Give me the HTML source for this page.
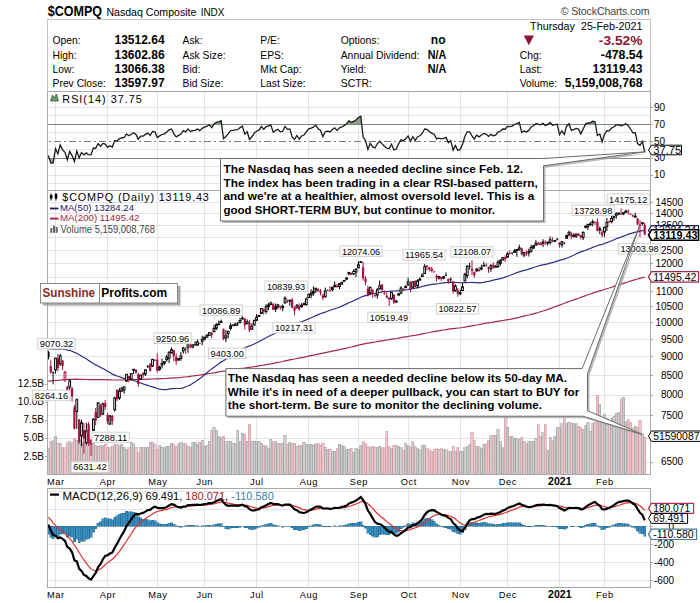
<!DOCTYPE html>
<html><head><meta charset="utf-8"><style>
html,body{margin:0;padding:0;background:#fff;width:700px;height:603px;overflow:hidden}
svg{display:block}
text{font-family:"Liberation Sans",sans-serif}
.ann{position:absolute;font-family:"Liberation Sans",sans-serif;font-weight:bold;color:#000;font-size:12.5px;line-height:13.7px;white-space:nowrap}
</style></head><body>
<svg width="700" height="603" viewBox="0 0 700 603">
<rect width="700" height="603" fill="#fff"/>
<text x="47.8" y="15.7" font-size="14" font-weight="bold" fill="#000" text-anchor="start" textLength="54.3" lengthAdjust="spacingAndGlyphs" >$COMPQ</text>
<text x="106.4" y="15.7" font-size="11" font-weight="normal" fill="#000" text-anchor="start" textLength="90" lengthAdjust="spacingAndGlyphs" >Nasdaq Composite</text>
<text x="200.7" y="15.7" font-size="10" font-weight="normal" fill="#000" text-anchor="start" textLength="23.7" lengthAdjust="spacingAndGlyphs" >INDX</text>
<text x="560.7" y="15" font-size="10.6" fill="#444" textLength="89" lengthAdjust="spacing">© StockCharts.com</text>
<rect x="47.5" y="19.5" width="603" height="72" fill="none" stroke="#c4c4c4" shape-rendering="crispEdges"/>
<text x="52.6" y="44.4" font-size="11.2" font-weight="normal" fill="#000" text-anchor="start" textLength="28.06" lengthAdjust="spacingAndGlyphs" >Open:</text>
<text x="114.5" y="44.4" font-size="12" font-weight="bold" fill="#000" text-anchor="start" >13512.64</text>
<text x="52.6" y="58.7" font-size="11.2" font-weight="normal" fill="#000" text-anchor="start" textLength="24.04" lengthAdjust="spacingAndGlyphs" >High:</text>
<text x="114.5" y="58.7" font-size="12" font-weight="bold" fill="#000" text-anchor="start" >13602.86</text>
<text x="52.6" y="72.9" font-size="11.2" font-weight="normal" fill="#000" text-anchor="start" textLength="21.76" lengthAdjust="spacingAndGlyphs" >Low:</text>
<text x="114.5" y="72.9" font-size="12" font-weight="bold" fill="#000" text-anchor="start" >13066.38</text>
<text x="52.6" y="87.0" font-size="11.2" font-weight="normal" fill="#000" text-anchor="start" textLength="53.23" lengthAdjust="spacingAndGlyphs" >Prev Close:</text>
<text x="114.5" y="87.0" font-size="12" font-weight="bold" fill="#000" text-anchor="start" >13597.97</text>
<text x="182.6" y="44.4" font-size="11.2" font-weight="normal" fill="#000" text-anchor="start" textLength="20.03" lengthAdjust="spacingAndGlyphs" >Ask:</text>
<text x="182.6" y="58.7" font-size="11.2" font-weight="normal" fill="#000" text-anchor="start" textLength="42.93" lengthAdjust="spacingAndGlyphs" >Ask Size:</text>
<text x="182.6" y="72.9" font-size="11.2" font-weight="normal" fill="#000" text-anchor="start" textLength="17.75" lengthAdjust="spacingAndGlyphs" >Bid:</text>
<text x="182.6" y="87.0" font-size="11.2" font-weight="normal" fill="#000" text-anchor="start" textLength="40.65" lengthAdjust="spacingAndGlyphs" >Bid Size:</text>
<text x="260.3" y="44.4" font-size="11.2" font-weight="normal" fill="#000" text-anchor="start" textLength="19.46" lengthAdjust="spacingAndGlyphs" >P/E:</text>
<text x="260.3" y="58.7" font-size="11.2" font-weight="normal" fill="#000" text-anchor="start" textLength="23.47" lengthAdjust="spacingAndGlyphs" >EPS:</text>
<text x="260.3" y="72.9" font-size="11.2" font-weight="normal" fill="#000" text-anchor="start" textLength="41.21" lengthAdjust="spacingAndGlyphs" >Mkt Cap:</text>
<text x="260.3" y="87.0" font-size="11.2" font-weight="normal" fill="#000" text-anchor="start" textLength="45.23" lengthAdjust="spacingAndGlyphs" >Last Size:</text>
<text x="340.7" y="44.4" font-size="11.2" font-weight="normal" fill="#000" text-anchor="start" textLength="38.73" lengthAdjust="spacingAndGlyphs" >Options:</text>
<text x="340.7" y="58.7" font-size="11.2" font-weight="normal" fill="#000" text-anchor="start" textLength="78.63" lengthAdjust="spacingAndGlyphs" >Annual Dividend:</text>
<text x="340.7" y="72.9" font-size="11.2" font-weight="normal" fill="#000" text-anchor="start" textLength="25.63" lengthAdjust="spacingAndGlyphs" >Yield:</text>
<text x="340.7" y="87.0" font-size="11.2" font-weight="normal" fill="#000" text-anchor="start" textLength="31.2" lengthAdjust="spacingAndGlyphs" >SCTR:</text>
<text x="445.5" y="44.4" font-size="12" font-weight="bold" fill="#000" text-anchor="end" >no</text>
<text x="446.3" y="58.7" font-size="12" font-weight="bold" fill="#000" text-anchor="end" textLength="18.6" lengthAdjust="spacingAndGlyphs" >N/A</text>
<text x="446.3" y="72.9" font-size="12" font-weight="bold" fill="#000" text-anchor="end" textLength="18.6" lengthAdjust="spacingAndGlyphs" >N/A</text>
<text x="642.5" y="29.7" font-size="10.8" font-weight="normal" fill="#000" text-anchor="end" textLength="112.4" lengthAdjust="spacingAndGlyphs" >Thursday&#160;&#160;25-Feb-2021</text>
<polygon points="523.7,35.6 534,35.6 528.85,45.3" fill="#8b1535"/>
<text x="642.5" y="45.3" font-size="13" font-weight="bold" fill="#8b1535" text-anchor="end" textLength="43.7" lengthAdjust="spacingAndGlyphs" >-3.52%</text>
<text x="519.8" y="58.7" font-size="11.2" font-weight="normal" fill="#000" text-anchor="start" textLength="21.76" lengthAdjust="spacingAndGlyphs" >Chg:</text>
<text x="642.5" y="58.7" font-size="12" font-weight="bold" fill="#000" text-anchor="end" textLength="41.7" lengthAdjust="spacingAndGlyphs" >-478.54</text>
<text x="519.8" y="72.8" font-size="11.2" font-weight="normal" fill="#000" text-anchor="start" textLength="22.33" lengthAdjust="spacingAndGlyphs" >Last:</text>
<text x="642.5" y="72.8" font-size="12" font-weight="bold" fill="#000" text-anchor="end" textLength="49.9" lengthAdjust="spacingAndGlyphs" >13119.43</text>
<text x="519.8" y="87" font-size="11.2" font-weight="normal" fill="#000" text-anchor="start" textLength="37.22" lengthAdjust="spacingAndGlyphs" >Volume:</text>
<text x="642.5" y="87" font-size="12" font-weight="bold" fill="#000" text-anchor="end" textLength="77.7" lengthAdjust="spacingAndGlyphs" >5,159,008,768</text>
<g stroke="#e3e3e3" stroke-width="1" shape-rendering="crispEdges">
<line x1="47.5" x2="650.5" y1="107.5" y2="107.5"/>
<line x1="47.5" x2="650.5" y1="115.5" y2="115.5"/>
<line x1="47.5" x2="650.5" y1="132.5" y2="132.5"/>
<line x1="47.5" x2="650.5" y1="149.5" y2="149.5"/>
<line x1="47.5" x2="650.5" y1="166.5" y2="166.5"/>
<line x1="47.5" x2="650.5" y1="175.5" y2="175.5"/>
<line x1="47.5" x2="650.5" y1="183.5" y2="183.5"/>
<line x1="55.5" x2="55.5" y1="91.5" y2="474"/>
<line x1="55.5" x2="55.5" y1="488.5" y2="587"/>
<line x1="107.5" x2="107.5" y1="91.5" y2="474"/>
<line x1="107.5" x2="107.5" y1="488.5" y2="587"/>
<line x1="157.5" x2="157.5" y1="91.5" y2="474"/>
<line x1="157.5" x2="157.5" y1="488.5" y2="587"/>
<line x1="204.5" x2="204.5" y1="91.5" y2="474"/>
<line x1="204.5" x2="204.5" y1="488.5" y2="587"/>
<line x1="256.5" x2="256.5" y1="91.5" y2="474"/>
<line x1="256.5" x2="256.5" y1="488.5" y2="587"/>
<line x1="308.5" x2="308.5" y1="91.5" y2="474"/>
<line x1="308.5" x2="308.5" y1="488.5" y2="587"/>
<line x1="358.5" x2="358.5" y1="91.5" y2="474"/>
<line x1="358.5" x2="358.5" y1="488.5" y2="587"/>
<line x1="408.5" x2="408.5" y1="91.5" y2="474"/>
<line x1="408.5" x2="408.5" y1="488.5" y2="587"/>
<line x1="460.5" x2="460.5" y1="91.5" y2="474"/>
<line x1="460.5" x2="460.5" y1="488.5" y2="587"/>
<line x1="507.5" x2="507.5" y1="91.5" y2="474"/>
<line x1="507.5" x2="507.5" y1="488.5" y2="587"/>
<line x1="559.5" x2="559.5" y1="91.5" y2="474"/>
<line x1="559.5" x2="559.5" y1="488.5" y2="587"/>
<line x1="604.5" x2="604.5" y1="91.5" y2="474"/>
<line x1="604.5" x2="604.5" y1="488.5" y2="587"/>
<line x1="47.5" x2="650.5" y1="462.5" y2="462.5"/>
<line x1="47.5" x2="650.5" y1="438.5" y2="438.5"/>
<line x1="47.5" x2="650.5" y1="415.5" y2="415.5"/>
<line x1="47.5" x2="650.5" y1="395.5" y2="395.5"/>
<line x1="47.5" x2="650.5" y1="375.5" y2="375.5"/>
<line x1="47.5" x2="650.5" y1="356.5" y2="356.5"/>
<line x1="47.5" x2="650.5" y1="339.5" y2="339.5"/>
<line x1="47.5" x2="650.5" y1="322.5" y2="322.5"/>
<line x1="47.5" x2="650.5" y1="306.5" y2="306.5"/>
<line x1="47.5" x2="650.5" y1="291.5" y2="291.5"/>
<line x1="47.5" x2="650.5" y1="277.5" y2="277.5"/>
<line x1="47.5" x2="650.5" y1="263.5" y2="263.5"/>
<line x1="47.5" x2="650.5" y1="250.5" y2="250.5"/>
<line x1="47.5" x2="650.5" y1="237.5" y2="237.5"/>
<line x1="47.5" x2="650.5" y1="225.5" y2="225.5"/>
<line x1="47.5" x2="650.5" y1="213.5" y2="213.5"/>
<line x1="47.5" x2="650.5" y1="202.5" y2="202.5"/>
<line x1="47.5" x2="650.5" y1="491.5" y2="491.5"/>
<line x1="47.5" x2="650.5" y1="509.5" y2="509.5"/>
<line x1="47.5" x2="650.5" y1="526.5" y2="526.5"/>
<line x1="47.5" x2="650.5" y1="544.5" y2="544.5"/>
<line x1="47.5" x2="650.5" y1="562.5" y2="562.5"/>
<line x1="47.5" x2="650.5" y1="580.5" y2="580.5"/>
</g>
<g shape-rendering="crispEdges">
<line x1="47.5" x2="650.5" y1="124.5" y2="124.5" stroke="#7a7a7a"/>
<line x1="47.5" x2="650.5" y1="158.5" y2="158.5" stroke="#7a7a7a"/>
<line x1="47.5" x2="650.5" y1="141.5" y2="141.5" stroke="#7a7a7a" stroke-dasharray="7,3,2,3" stroke-dashoffset="8.9"/>
</g>
<g shape-rendering="crispEdges">
<rect x="47.3" y="448.3" width="2.2" height="25.7" fill="#c6c9c9" fill-opacity="0.9" stroke="#989898" stroke-width="0.5"/>
<rect x="49.7" y="441.4" width="2.2" height="32.6" fill="#ecbcc4" fill-opacity="0.9" stroke="#c8949e" stroke-width="0.5"/>
<rect x="52.0" y="440.9" width="2.2" height="33.1" fill="#c6c9c9" fill-opacity="0.9" stroke="#989898" stroke-width="0.5"/>
<rect x="54.4" y="436.2" width="2.2" height="37.8" fill="#c6c9c9" fill-opacity="0.9" stroke="#989898" stroke-width="0.5"/>
<rect x="56.8" y="443.2" width="2.2" height="30.8" fill="#ecbcc4" fill-opacity="0.9" stroke="#c8949e" stroke-width="0.5"/>
<rect x="59.1" y="443.2" width="2.2" height="30.8" fill="#c6c9c9" fill-opacity="0.9" stroke="#989898" stroke-width="0.5"/>
<rect x="61.5" y="447.9" width="2.2" height="26.1" fill="#ecbcc4" fill-opacity="0.9" stroke="#c8949e" stroke-width="0.5"/>
<rect x="63.9" y="447.5" width="2.2" height="26.5" fill="#ecbcc4" fill-opacity="0.9" stroke="#c8949e" stroke-width="0.5"/>
<rect x="66.2" y="442.7" width="2.2" height="31.3" fill="#ecbcc4" fill-opacity="0.9" stroke="#c8949e" stroke-width="0.5"/>
<rect x="68.6" y="441.4" width="2.2" height="32.6" fill="#c6c9c9" fill-opacity="0.9" stroke="#989898" stroke-width="0.5"/>
<rect x="71.0" y="442.7" width="2.2" height="31.3" fill="#ecbcc4" fill-opacity="0.9" stroke="#c8949e" stroke-width="0.5"/>
<rect x="73.3" y="438.1" width="2.2" height="35.9" fill="#ecbcc4" fill-opacity="0.9" stroke="#c8949e" stroke-width="0.5"/>
<rect x="75.7" y="440.0" width="2.2" height="34.0" fill="#c6c9c9" fill-opacity="0.9" stroke="#989898" stroke-width="0.5"/>
<rect x="78.1" y="440.9" width="2.2" height="33.1" fill="#ecbcc4" fill-opacity="0.9" stroke="#c8949e" stroke-width="0.5"/>
<rect x="80.4" y="441.8" width="2.2" height="32.2" fill="#c6c9c9" fill-opacity="0.9" stroke="#989898" stroke-width="0.5"/>
<rect x="82.8" y="442.7" width="2.2" height="31.3" fill="#ecbcc4" fill-opacity="0.9" stroke="#c8949e" stroke-width="0.5"/>
<rect x="85.2" y="445.3" width="2.2" height="28.7" fill="#c6c9c9" fill-opacity="0.9" stroke="#989898" stroke-width="0.5"/>
<rect x="87.5" y="441.9" width="2.2" height="32.1" fill="#ecbcc4" fill-opacity="0.9" stroke="#c8949e" stroke-width="0.5"/>
<rect x="89.9" y="440.4" width="2.2" height="33.6" fill="#ecbcc4" fill-opacity="0.9" stroke="#c8949e" stroke-width="0.5"/>
<rect x="92.3" y="440.4" width="2.2" height="33.6" fill="#c6c9c9" fill-opacity="0.9" stroke="#989898" stroke-width="0.5"/>
<rect x="94.6" y="445.0" width="2.2" height="29.0" fill="#ecbcc4" fill-opacity="0.9" stroke="#c8949e" stroke-width="0.5"/>
<rect x="97.0" y="446.0" width="2.2" height="28.0" fill="#c6c9c9" fill-opacity="0.9" stroke="#989898" stroke-width="0.5"/>
<rect x="99.4" y="445.8" width="2.2" height="28.2" fill="#ecbcc4" fill-opacity="0.9" stroke="#c8949e" stroke-width="0.5"/>
<rect x="101.7" y="445.8" width="2.2" height="28.2" fill="#c6c9c9" fill-opacity="0.9" stroke="#989898" stroke-width="0.5"/>
<rect x="104.1" y="444.0" width="2.2" height="30.0" fill="#ecbcc4" fill-opacity="0.9" stroke="#c8949e" stroke-width="0.5"/>
<rect x="106.5" y="447.0" width="2.2" height="27.0" fill="#ecbcc4" fill-opacity="0.9" stroke="#c8949e" stroke-width="0.5"/>
<rect x="108.8" y="447.9" width="2.2" height="26.1" fill="#c6c9c9" fill-opacity="0.9" stroke="#989898" stroke-width="0.5"/>
<rect x="111.2" y="446.1" width="2.2" height="27.9" fill="#ecbcc4" fill-opacity="0.9" stroke="#c8949e" stroke-width="0.5"/>
<rect x="113.6" y="444.0" width="2.2" height="30.0" fill="#c6c9c9" fill-opacity="0.9" stroke="#989898" stroke-width="0.5"/>
<rect x="115.9" y="444.8" width="2.2" height="29.2" fill="#ecbcc4" fill-opacity="0.9" stroke="#c8949e" stroke-width="0.5"/>
<rect x="118.3" y="445.8" width="2.2" height="28.2" fill="#c6c9c9" fill-opacity="0.9" stroke="#989898" stroke-width="0.5"/>
<rect x="120.7" y="444.4" width="2.2" height="29.6" fill="#c6c9c9" fill-opacity="0.9" stroke="#989898" stroke-width="0.5"/>
<rect x="123.0" y="447.0" width="2.2" height="27.0" fill="#c6c9c9" fill-opacity="0.9" stroke="#989898" stroke-width="0.5"/>
<rect x="125.4" y="449.9" width="2.2" height="24.1" fill="#c6c9c9" fill-opacity="0.9" stroke="#989898" stroke-width="0.5"/>
<rect x="127.8" y="447.9" width="2.2" height="26.1" fill="#ecbcc4" fill-opacity="0.9" stroke="#c8949e" stroke-width="0.5"/>
<rect x="130.1" y="442.4" width="2.2" height="31.6" fill="#c6c9c9" fill-opacity="0.9" stroke="#989898" stroke-width="0.5"/>
<rect x="132.5" y="443.6" width="2.2" height="30.4" fill="#c6c9c9" fill-opacity="0.9" stroke="#989898" stroke-width="0.5"/>
<rect x="134.9" y="447.0" width="2.2" height="27.0" fill="#ecbcc4" fill-opacity="0.9" stroke="#c8949e" stroke-width="0.5"/>
<rect x="137.2" y="452.1" width="2.2" height="21.9" fill="#ecbcc4" fill-opacity="0.9" stroke="#c8949e" stroke-width="0.5"/>
<rect x="139.6" y="447.0" width="2.2" height="27.0" fill="#c6c9c9" fill-opacity="0.9" stroke="#989898" stroke-width="0.5"/>
<rect x="142.0" y="447.0" width="2.2" height="27.0" fill="#ecbcc4" fill-opacity="0.9" stroke="#c8949e" stroke-width="0.5"/>
<rect x="144.3" y="447.5" width="2.2" height="26.5" fill="#c6c9c9" fill-opacity="0.9" stroke="#989898" stroke-width="0.5"/>
<rect x="146.7" y="447.0" width="2.2" height="27.0" fill="#c6c9c9" fill-opacity="0.9" stroke="#989898" stroke-width="0.5"/>
<rect x="149.1" y="442.4" width="2.2" height="31.6" fill="#ecbcc4" fill-opacity="0.9" stroke="#c8949e" stroke-width="0.5"/>
<rect x="151.4" y="442.4" width="2.2" height="31.6" fill="#c6c9c9" fill-opacity="0.9" stroke="#989898" stroke-width="0.5"/>
<rect x="153.8" y="444.0" width="2.2" height="30.0" fill="#ecbcc4" fill-opacity="0.9" stroke="#c8949e" stroke-width="0.5"/>
<rect x="156.2" y="449.2" width="2.2" height="24.8" fill="#ecbcc4" fill-opacity="0.9" stroke="#c8949e" stroke-width="0.5"/>
<rect x="158.5" y="445.3" width="2.2" height="28.7" fill="#c6c9c9" fill-opacity="0.9" stroke="#989898" stroke-width="0.5"/>
<rect x="160.9" y="447.0" width="2.2" height="27.0" fill="#c6c9c9" fill-opacity="0.9" stroke="#989898" stroke-width="0.5"/>
<rect x="163.3" y="447.5" width="2.2" height="26.5" fill="#c6c9c9" fill-opacity="0.9" stroke="#989898" stroke-width="0.5"/>
<rect x="165.6" y="446.1" width="2.2" height="27.9" fill="#c6c9c9" fill-opacity="0.9" stroke="#989898" stroke-width="0.5"/>
<rect x="168.0" y="446.1" width="2.2" height="27.9" fill="#c6c9c9" fill-opacity="0.9" stroke="#989898" stroke-width="0.5"/>
<rect x="170.4" y="443.0" width="2.2" height="31.0" fill="#c6c9c9" fill-opacity="0.9" stroke="#989898" stroke-width="0.5"/>
<rect x="172.7" y="444.0" width="2.2" height="30.0" fill="#ecbcc4" fill-opacity="0.9" stroke="#c8949e" stroke-width="0.5"/>
<rect x="175.1" y="446.1" width="2.2" height="27.9" fill="#ecbcc4" fill-opacity="0.9" stroke="#c8949e" stroke-width="0.5"/>
<rect x="177.5" y="443.6" width="2.2" height="30.4" fill="#c6c9c9" fill-opacity="0.9" stroke="#989898" stroke-width="0.5"/>
<rect x="179.8" y="442.4" width="2.2" height="31.6" fill="#c6c9c9" fill-opacity="0.9" stroke="#989898" stroke-width="0.5"/>
<rect x="182.2" y="443.6" width="2.2" height="30.4" fill="#c6c9c9" fill-opacity="0.9" stroke="#989898" stroke-width="0.5"/>
<rect x="184.6" y="443.6" width="2.2" height="30.4" fill="#ecbcc4" fill-opacity="0.9" stroke="#c8949e" stroke-width="0.5"/>
<rect x="186.9" y="446.1" width="2.2" height="27.9" fill="#c6c9c9" fill-opacity="0.9" stroke="#989898" stroke-width="0.5"/>
<rect x="189.3" y="447.0" width="2.2" height="27.0" fill="#ecbcc4" fill-opacity="0.9" stroke="#c8949e" stroke-width="0.5"/>
<rect x="191.7" y="442.4" width="2.2" height="31.6" fill="#c6c9c9" fill-opacity="0.9" stroke="#989898" stroke-width="0.5"/>
<rect x="194.0" y="442.4" width="2.2" height="31.6" fill="#c6c9c9" fill-opacity="0.9" stroke="#989898" stroke-width="0.5"/>
<rect x="196.4" y="444.0" width="2.2" height="30.0" fill="#c6c9c9" fill-opacity="0.9" stroke="#989898" stroke-width="0.5"/>
<rect x="198.7" y="442.0" width="2.2" height="32.0" fill="#ecbcc4" fill-opacity="0.9" stroke="#c8949e" stroke-width="0.5"/>
<rect x="201.1" y="440.1" width="2.2" height="33.9" fill="#c6c9c9" fill-opacity="0.9" stroke="#989898" stroke-width="0.5"/>
<rect x="203.5" y="446.1" width="2.2" height="27.9" fill="#c6c9c9" fill-opacity="0.9" stroke="#989898" stroke-width="0.5"/>
<rect x="205.8" y="445.3" width="2.2" height="28.7" fill="#c6c9c9" fill-opacity="0.9" stroke="#989898" stroke-width="0.5"/>
<rect x="208.2" y="441.0" width="2.2" height="33.0" fill="#c6c9c9" fill-opacity="0.9" stroke="#989898" stroke-width="0.5"/>
<rect x="210.6" y="430.4" width="2.2" height="43.6" fill="#ecbcc4" fill-opacity="0.9" stroke="#c8949e" stroke-width="0.5"/>
<rect x="212.9" y="427.3" width="2.2" height="46.7" fill="#c6c9c9" fill-opacity="0.9" stroke="#989898" stroke-width="0.5"/>
<rect x="215.3" y="430.4" width="2.2" height="43.6" fill="#c6c9c9" fill-opacity="0.9" stroke="#989898" stroke-width="0.5"/>
<rect x="217.7" y="436.2" width="2.2" height="37.8" fill="#c6c9c9" fill-opacity="0.9" stroke="#989898" stroke-width="0.5"/>
<rect x="220.0" y="437.2" width="2.2" height="36.8" fill="#c6c9c9" fill-opacity="0.9" stroke="#989898" stroke-width="0.5"/>
<rect x="222.4" y="436.2" width="2.2" height="37.8" fill="#ecbcc4" fill-opacity="0.9" stroke="#c8949e" stroke-width="0.5"/>
<rect x="224.8" y="441.9" width="2.2" height="32.1" fill="#c6c9c9" fill-opacity="0.9" stroke="#989898" stroke-width="0.5"/>
<rect x="227.1" y="441.9" width="2.2" height="32.1" fill="#c6c9c9" fill-opacity="0.9" stroke="#989898" stroke-width="0.5"/>
<rect x="229.5" y="441.0" width="2.2" height="33.0" fill="#c6c9c9" fill-opacity="0.9" stroke="#989898" stroke-width="0.5"/>
<rect x="231.9" y="443.0" width="2.2" height="31.0" fill="#c6c9c9" fill-opacity="0.9" stroke="#989898" stroke-width="0.5"/>
<rect x="234.2" y="443.0" width="2.2" height="31.0" fill="#c6c9c9" fill-opacity="0.9" stroke="#989898" stroke-width="0.5"/>
<rect x="236.6" y="430.4" width="2.2" height="43.6" fill="#c6c9c9" fill-opacity="0.9" stroke="#989898" stroke-width="0.5"/>
<rect x="239.0" y="441.9" width="2.2" height="32.1" fill="#c6c9c9" fill-opacity="0.9" stroke="#989898" stroke-width="0.5"/>
<rect x="241.3" y="433.3" width="2.2" height="40.7" fill="#c6c9c9" fill-opacity="0.9" stroke="#989898" stroke-width="0.5"/>
<rect x="243.7" y="434.1" width="2.2" height="39.9" fill="#ecbcc4" fill-opacity="0.9" stroke="#c8949e" stroke-width="0.5"/>
<rect x="246.1" y="441.0" width="2.2" height="33.0" fill="#c6c9c9" fill-opacity="0.9" stroke="#989898" stroke-width="0.5"/>
<rect x="248.4" y="424.2" width="2.2" height="49.8" fill="#ecbcc4" fill-opacity="0.9" stroke="#c8949e" stroke-width="0.5"/>
<rect x="250.8" y="441.0" width="2.2" height="33.0" fill="#c6c9c9" fill-opacity="0.9" stroke="#989898" stroke-width="0.5"/>
<rect x="253.2" y="441.0" width="2.2" height="33.0" fill="#c6c9c9" fill-opacity="0.9" stroke="#989898" stroke-width="0.5"/>
<rect x="255.5" y="441.9" width="2.2" height="32.1" fill="#c6c9c9" fill-opacity="0.9" stroke="#989898" stroke-width="0.5"/>
<rect x="257.9" y="441.0" width="2.2" height="33.0" fill="#c6c9c9" fill-opacity="0.9" stroke="#989898" stroke-width="0.5"/>
<rect x="260.3" y="443.0" width="2.2" height="31.0" fill="#c6c9c9" fill-opacity="0.9" stroke="#989898" stroke-width="0.5"/>
<rect x="262.6" y="445.8" width="2.2" height="28.2" fill="#ecbcc4" fill-opacity="0.9" stroke="#c8949e" stroke-width="0.5"/>
<rect x="265.0" y="445.8" width="2.2" height="28.2" fill="#c6c9c9" fill-opacity="0.9" stroke="#989898" stroke-width="0.5"/>
<rect x="267.4" y="448.7" width="2.2" height="25.3" fill="#c6c9c9" fill-opacity="0.9" stroke="#989898" stroke-width="0.5"/>
<rect x="269.7" y="439.0" width="2.2" height="35.0" fill="#c6c9c9" fill-opacity="0.9" stroke="#989898" stroke-width="0.5"/>
<rect x="272.1" y="441.9" width="2.2" height="32.1" fill="#ecbcc4" fill-opacity="0.9" stroke="#c8949e" stroke-width="0.5"/>
<rect x="274.5" y="441.0" width="2.2" height="33.0" fill="#c6c9c9" fill-opacity="0.9" stroke="#989898" stroke-width="0.5"/>
<rect x="276.8" y="443.0" width="2.2" height="31.0" fill="#c6c9c9" fill-opacity="0.9" stroke="#989898" stroke-width="0.5"/>
<rect x="279.2" y="443.0" width="2.2" height="31.0" fill="#ecbcc4" fill-opacity="0.9" stroke="#c8949e" stroke-width="0.5"/>
<rect x="281.6" y="443.0" width="2.2" height="31.0" fill="#c6c9c9" fill-opacity="0.9" stroke="#989898" stroke-width="0.5"/>
<rect x="283.9" y="435.0" width="2.2" height="39.0" fill="#c6c9c9" fill-opacity="0.9" stroke="#989898" stroke-width="0.5"/>
<rect x="286.3" y="444.0" width="2.2" height="30.0" fill="#ecbcc4" fill-opacity="0.9" stroke="#c8949e" stroke-width="0.5"/>
<rect x="288.7" y="442.4" width="2.2" height="31.6" fill="#c6c9c9" fill-opacity="0.9" stroke="#989898" stroke-width="0.5"/>
<rect x="291.0" y="443.0" width="2.2" height="31.0" fill="#ecbcc4" fill-opacity="0.9" stroke="#c8949e" stroke-width="0.5"/>
<rect x="293.4" y="443.0" width="2.2" height="31.0" fill="#ecbcc4" fill-opacity="0.9" stroke="#c8949e" stroke-width="0.5"/>
<rect x="295.8" y="446.1" width="2.2" height="27.9" fill="#c6c9c9" fill-opacity="0.9" stroke="#989898" stroke-width="0.5"/>
<rect x="298.1" y="445.3" width="2.2" height="28.7" fill="#ecbcc4" fill-opacity="0.9" stroke="#c8949e" stroke-width="0.5"/>
<rect x="300.5" y="445.3" width="2.2" height="28.7" fill="#c6c9c9" fill-opacity="0.9" stroke="#989898" stroke-width="0.5"/>
<rect x="302.9" y="442.4" width="2.2" height="31.6" fill="#c6c9c9" fill-opacity="0.9" stroke="#989898" stroke-width="0.5"/>
<rect x="305.2" y="444.0" width="2.2" height="30.0" fill="#c6c9c9" fill-opacity="0.9" stroke="#989898" stroke-width="0.5"/>
<rect x="307.6" y="444.0" width="2.2" height="30.0" fill="#c6c9c9" fill-opacity="0.9" stroke="#989898" stroke-width="0.5"/>
<rect x="310.0" y="444.0" width="2.2" height="30.0" fill="#c6c9c9" fill-opacity="0.9" stroke="#989898" stroke-width="0.5"/>
<rect x="312.3" y="445.3" width="2.2" height="28.7" fill="#c6c9c9" fill-opacity="0.9" stroke="#989898" stroke-width="0.5"/>
<rect x="314.7" y="443.6" width="2.2" height="30.4" fill="#c6c9c9" fill-opacity="0.9" stroke="#989898" stroke-width="0.5"/>
<rect x="317.1" y="443.6" width="2.2" height="30.4" fill="#ecbcc4" fill-opacity="0.9" stroke="#c8949e" stroke-width="0.5"/>
<rect x="319.4" y="445.3" width="2.2" height="28.7" fill="#ecbcc4" fill-opacity="0.9" stroke="#c8949e" stroke-width="0.5"/>
<rect x="321.8" y="443.0" width="2.2" height="31.0" fill="#ecbcc4" fill-opacity="0.9" stroke="#c8949e" stroke-width="0.5"/>
<rect x="324.2" y="447.0" width="2.2" height="27.0" fill="#c6c9c9" fill-opacity="0.9" stroke="#989898" stroke-width="0.5"/>
<rect x="326.5" y="449.2" width="2.2" height="24.8" fill="#c6c9c9" fill-opacity="0.9" stroke="#989898" stroke-width="0.5"/>
<rect x="328.9" y="449.2" width="2.2" height="24.8" fill="#ecbcc4" fill-opacity="0.9" stroke="#c8949e" stroke-width="0.5"/>
<rect x="331.3" y="451.0" width="2.2" height="23.0" fill="#c6c9c9" fill-opacity="0.9" stroke="#989898" stroke-width="0.5"/>
<rect x="333.6" y="451.0" width="2.2" height="23.0" fill="#c6c9c9" fill-opacity="0.9" stroke="#989898" stroke-width="0.5"/>
<rect x="336.0" y="448.7" width="2.2" height="25.3" fill="#ecbcc4" fill-opacity="0.9" stroke="#c8949e" stroke-width="0.5"/>
<rect x="338.4" y="444.0" width="2.2" height="30.0" fill="#c6c9c9" fill-opacity="0.9" stroke="#989898" stroke-width="0.5"/>
<rect x="340.7" y="445.8" width="2.2" height="28.2" fill="#c6c9c9" fill-opacity="0.9" stroke="#989898" stroke-width="0.5"/>
<rect x="343.1" y="446.1" width="2.2" height="27.9" fill="#c6c9c9" fill-opacity="0.9" stroke="#989898" stroke-width="0.5"/>
<rect x="345.5" y="449.2" width="2.2" height="24.8" fill="#c6c9c9" fill-opacity="0.9" stroke="#989898" stroke-width="0.5"/>
<rect x="347.8" y="449.2" width="2.2" height="24.8" fill="#c6c9c9" fill-opacity="0.9" stroke="#989898" stroke-width="0.5"/>
<rect x="350.2" y="448.2" width="2.2" height="25.8" fill="#ecbcc4" fill-opacity="0.9" stroke="#c8949e" stroke-width="0.5"/>
<rect x="352.6" y="452.1" width="2.2" height="21.9" fill="#c6c9c9" fill-opacity="0.9" stroke="#989898" stroke-width="0.5"/>
<rect x="354.9" y="448.2" width="2.2" height="25.8" fill="#c6c9c9" fill-opacity="0.9" stroke="#989898" stroke-width="0.5"/>
<rect x="357.3" y="449.2" width="2.2" height="24.8" fill="#c6c9c9" fill-opacity="0.9" stroke="#989898" stroke-width="0.5"/>
<rect x="359.7" y="445.3" width="2.2" height="28.7" fill="#c6c9c9" fill-opacity="0.9" stroke="#989898" stroke-width="0.5"/>
<rect x="362.0" y="441.9" width="2.2" height="32.1" fill="#ecbcc4" fill-opacity="0.9" stroke="#c8949e" stroke-width="0.5"/>
<rect x="364.4" y="443.0" width="2.2" height="31.0" fill="#ecbcc4" fill-opacity="0.9" stroke="#c8949e" stroke-width="0.5"/>
<rect x="366.8" y="446.1" width="2.2" height="27.9" fill="#ecbcc4" fill-opacity="0.9" stroke="#c8949e" stroke-width="0.5"/>
<rect x="369.1" y="447.9" width="2.2" height="26.1" fill="#c6c9c9" fill-opacity="0.9" stroke="#989898" stroke-width="0.5"/>
<rect x="371.5" y="446.1" width="2.2" height="27.9" fill="#ecbcc4" fill-opacity="0.9" stroke="#c8949e" stroke-width="0.5"/>
<rect x="373.9" y="447.0" width="2.2" height="27.0" fill="#ecbcc4" fill-opacity="0.9" stroke="#c8949e" stroke-width="0.5"/>
<rect x="376.2" y="447.5" width="2.2" height="26.5" fill="#c6c9c9" fill-opacity="0.9" stroke="#989898" stroke-width="0.5"/>
<rect x="378.6" y="446.1" width="2.2" height="27.9" fill="#c6c9c9" fill-opacity="0.9" stroke="#989898" stroke-width="0.5"/>
<rect x="381.0" y="447.5" width="2.2" height="26.5" fill="#ecbcc4" fill-opacity="0.9" stroke="#c8949e" stroke-width="0.5"/>
<rect x="383.3" y="447.5" width="2.2" height="26.5" fill="#ecbcc4" fill-opacity="0.9" stroke="#c8949e" stroke-width="0.5"/>
<rect x="385.7" y="431.0" width="2.2" height="43.0" fill="#ecbcc4" fill-opacity="0.9" stroke="#c8949e" stroke-width="0.5"/>
<rect x="388.1" y="446.1" width="2.2" height="27.9" fill="#ecbcc4" fill-opacity="0.9" stroke="#c8949e" stroke-width="0.5"/>
<rect x="390.4" y="448.2" width="2.2" height="25.8" fill="#c6c9c9" fill-opacity="0.9" stroke="#989898" stroke-width="0.5"/>
<rect x="392.8" y="445.3" width="2.2" height="28.7" fill="#ecbcc4" fill-opacity="0.9" stroke="#c8949e" stroke-width="0.5"/>
<rect x="395.2" y="445.3" width="2.2" height="28.7" fill="#c6c9c9" fill-opacity="0.9" stroke="#989898" stroke-width="0.5"/>
<rect x="397.5" y="446.1" width="2.2" height="27.9" fill="#c6c9c9" fill-opacity="0.9" stroke="#989898" stroke-width="0.5"/>
<rect x="399.9" y="447.5" width="2.2" height="26.5" fill="#c6c9c9" fill-opacity="0.9" stroke="#989898" stroke-width="0.5"/>
<rect x="402.3" y="450.4" width="2.2" height="23.6" fill="#ecbcc4" fill-opacity="0.9" stroke="#c8949e" stroke-width="0.5"/>
<rect x="404.6" y="443.0" width="2.2" height="31.0" fill="#c6c9c9" fill-opacity="0.9" stroke="#989898" stroke-width="0.5"/>
<rect x="407.0" y="445.3" width="2.2" height="28.7" fill="#c6c9c9" fill-opacity="0.9" stroke="#989898" stroke-width="0.5"/>
<rect x="409.4" y="447.0" width="2.2" height="27.0" fill="#ecbcc4" fill-opacity="0.9" stroke="#c8949e" stroke-width="0.5"/>
<rect x="411.7" y="441.9" width="2.2" height="32.1" fill="#c6c9c9" fill-opacity="0.9" stroke="#989898" stroke-width="0.5"/>
<rect x="414.1" y="446.1" width="2.2" height="27.9" fill="#ecbcc4" fill-opacity="0.9" stroke="#c8949e" stroke-width="0.5"/>
<rect x="416.5" y="448.7" width="2.2" height="25.3" fill="#c6c9c9" fill-opacity="0.9" stroke="#989898" stroke-width="0.5"/>
<rect x="418.8" y="449.9" width="2.2" height="24.1" fill="#c6c9c9" fill-opacity="0.9" stroke="#989898" stroke-width="0.5"/>
<rect x="421.2" y="445.3" width="2.2" height="28.7" fill="#c6c9c9" fill-opacity="0.9" stroke="#989898" stroke-width="0.5"/>
<rect x="423.6" y="445.3" width="2.2" height="28.7" fill="#c6c9c9" fill-opacity="0.9" stroke="#989898" stroke-width="0.5"/>
<rect x="425.9" y="448.7" width="2.2" height="25.3" fill="#ecbcc4" fill-opacity="0.9" stroke="#c8949e" stroke-width="0.5"/>
<rect x="428.3" y="449.9" width="2.2" height="24.1" fill="#ecbcc4" fill-opacity="0.9" stroke="#c8949e" stroke-width="0.5"/>
<rect x="430.7" y="451.0" width="2.2" height="23.0" fill="#ecbcc4" fill-opacity="0.9" stroke="#c8949e" stroke-width="0.5"/>
<rect x="433.0" y="449.2" width="2.2" height="24.8" fill="#ecbcc4" fill-opacity="0.9" stroke="#c8949e" stroke-width="0.5"/>
<rect x="435.4" y="448.7" width="2.2" height="25.3" fill="#ecbcc4" fill-opacity="0.9" stroke="#c8949e" stroke-width="0.5"/>
<rect x="437.8" y="449.2" width="2.2" height="24.8" fill="#c6c9c9" fill-opacity="0.9" stroke="#989898" stroke-width="0.5"/>
<rect x="440.1" y="448.7" width="2.2" height="25.3" fill="#ecbcc4" fill-opacity="0.9" stroke="#c8949e" stroke-width="0.5"/>
<rect x="442.5" y="449.2" width="2.2" height="24.8" fill="#c6c9c9" fill-opacity="0.9" stroke="#989898" stroke-width="0.5"/>
<rect x="444.9" y="449.9" width="2.2" height="24.1" fill="#c6c9c9" fill-opacity="0.9" stroke="#989898" stroke-width="0.5"/>
<rect x="447.2" y="451.0" width="2.2" height="23.0" fill="#ecbcc4" fill-opacity="0.9" stroke="#c8949e" stroke-width="0.5"/>
<rect x="449.6" y="451.0" width="2.2" height="23.0" fill="#c6c9c9" fill-opacity="0.9" stroke="#989898" stroke-width="0.5"/>
<rect x="452.0" y="446.1" width="2.2" height="27.9" fill="#ecbcc4" fill-opacity="0.9" stroke="#c8949e" stroke-width="0.5"/>
<rect x="454.3" y="451.0" width="2.2" height="23.0" fill="#c6c9c9" fill-opacity="0.9" stroke="#989898" stroke-width="0.5"/>
<rect x="456.7" y="447.0" width="2.2" height="27.0" fill="#ecbcc4" fill-opacity="0.9" stroke="#c8949e" stroke-width="0.5"/>
<rect x="459.1" y="451.0" width="2.2" height="23.0" fill="#c6c9c9" fill-opacity="0.9" stroke="#989898" stroke-width="0.5"/>
<rect x="461.4" y="451.3" width="2.2" height="22.7" fill="#c6c9c9" fill-opacity="0.9" stroke="#989898" stroke-width="0.5"/>
<rect x="463.8" y="447.9" width="2.2" height="26.1" fill="#c6c9c9" fill-opacity="0.9" stroke="#989898" stroke-width="0.5"/>
<rect x="466.1" y="446.0" width="2.2" height="28.0" fill="#c6c9c9" fill-opacity="0.9" stroke="#989898" stroke-width="0.5"/>
<rect x="468.5" y="444.0" width="2.2" height="30.0" fill="#c6c9c9" fill-opacity="0.9" stroke="#989898" stroke-width="0.5"/>
<rect x="470.9" y="432.0" width="2.2" height="42.0" fill="#ecbcc4" fill-opacity="0.9" stroke="#c8949e" stroke-width="0.5"/>
<rect x="473.2" y="440.0" width="2.2" height="34.0" fill="#ecbcc4" fill-opacity="0.9" stroke="#c8949e" stroke-width="0.5"/>
<rect x="475.6" y="446.0" width="2.2" height="28.0" fill="#c6c9c9" fill-opacity="0.9" stroke="#989898" stroke-width="0.5"/>
<rect x="478.0" y="446.0" width="2.2" height="28.0" fill="#ecbcc4" fill-opacity="0.9" stroke="#c8949e" stroke-width="0.5"/>
<rect x="480.3" y="448.0" width="2.2" height="26.0" fill="#c6c9c9" fill-opacity="0.9" stroke="#989898" stroke-width="0.5"/>
<rect x="482.7" y="444.4" width="2.2" height="29.6" fill="#c6c9c9" fill-opacity="0.9" stroke="#989898" stroke-width="0.5"/>
<rect x="485.1" y="443.6" width="2.2" height="30.4" fill="#ecbcc4" fill-opacity="0.9" stroke="#c8949e" stroke-width="0.5"/>
<rect x="487.4" y="440.0" width="2.2" height="34.0" fill="#ecbcc4" fill-opacity="0.9" stroke="#c8949e" stroke-width="0.5"/>
<rect x="489.8" y="435.5" width="2.2" height="38.5" fill="#c6c9c9" fill-opacity="0.9" stroke="#989898" stroke-width="0.5"/>
<rect x="492.2" y="435.9" width="2.2" height="38.1" fill="#ecbcc4" fill-opacity="0.9" stroke="#c8949e" stroke-width="0.5"/>
<rect x="494.5" y="435.0" width="2.2" height="39.0" fill="#c6c9c9" fill-opacity="0.9" stroke="#989898" stroke-width="0.5"/>
<rect x="496.9" y="429.3" width="2.2" height="44.7" fill="#c6c9c9" fill-opacity="0.9" stroke="#989898" stroke-width="0.5"/>
<rect x="499.3" y="441.9" width="2.2" height="32.1" fill="#c6c9c9" fill-opacity="0.9" stroke="#989898" stroke-width="0.5"/>
<rect x="501.6" y="447.9" width="2.2" height="26.1" fill="#c6c9c9" fill-opacity="0.9" stroke="#989898" stroke-width="0.5"/>
<rect x="504.0" y="417.9" width="2.2" height="56.1" fill="#ecbcc4" fill-opacity="0.9" stroke="#c8949e" stroke-width="0.5"/>
<rect x="506.4" y="427.3" width="2.2" height="46.7" fill="#c6c9c9" fill-opacity="0.9" stroke="#989898" stroke-width="0.5"/>
<rect x="508.7" y="436.7" width="2.2" height="37.3" fill="#ecbcc4" fill-opacity="0.9" stroke="#c8949e" stroke-width="0.5"/>
<rect x="511.1" y="436.2" width="2.2" height="37.8" fill="#c6c9c9" fill-opacity="0.9" stroke="#989898" stroke-width="0.5"/>
<rect x="513.5" y="438.4" width="2.2" height="35.6" fill="#c6c9c9" fill-opacity="0.9" stroke="#989898" stroke-width="0.5"/>
<rect x="515.8" y="438.4" width="2.2" height="35.6" fill="#c6c9c9" fill-opacity="0.9" stroke="#989898" stroke-width="0.5"/>
<rect x="518.2" y="439.3" width="2.2" height="34.7" fill="#c6c9c9" fill-opacity="0.9" stroke="#989898" stroke-width="0.5"/>
<rect x="520.6" y="437.2" width="2.2" height="36.8" fill="#ecbcc4" fill-opacity="0.9" stroke="#c8949e" stroke-width="0.5"/>
<rect x="522.9" y="441.3" width="2.2" height="32.7" fill="#c6c9c9" fill-opacity="0.9" stroke="#989898" stroke-width="0.5"/>
<rect x="525.3" y="443.6" width="2.2" height="30.4" fill="#ecbcc4" fill-opacity="0.9" stroke="#c8949e" stroke-width="0.5"/>
<rect x="527.7" y="441.0" width="2.2" height="33.0" fill="#c6c9c9" fill-opacity="0.9" stroke="#989898" stroke-width="0.5"/>
<rect x="530.0" y="441.9" width="2.2" height="32.1" fill="#c6c9c9" fill-opacity="0.9" stroke="#989898" stroke-width="0.5"/>
<rect x="532.4" y="441.0" width="2.2" height="33.0" fill="#c6c9c9" fill-opacity="0.9" stroke="#989898" stroke-width="0.5"/>
<rect x="534.8" y="438.4" width="2.2" height="35.6" fill="#c6c9c9" fill-opacity="0.9" stroke="#989898" stroke-width="0.5"/>
<rect x="537.1" y="424.2" width="2.2" height="49.8" fill="#ecbcc4" fill-opacity="0.9" stroke="#c8949e" stroke-width="0.5"/>
<rect x="539.5" y="436.7" width="2.2" height="37.3" fill="#ecbcc4" fill-opacity="0.9" stroke="#c8949e" stroke-width="0.5"/>
<rect x="541.9" y="432.8" width="2.2" height="41.2" fill="#c6c9c9" fill-opacity="0.9" stroke="#989898" stroke-width="0.5"/>
<rect x="544.2" y="424.2" width="2.2" height="49.8" fill="#ecbcc4" fill-opacity="0.9" stroke="#c8949e" stroke-width="0.5"/>
<rect x="546.6" y="450.4" width="2.2" height="23.6" fill="#c6c9c9" fill-opacity="0.9" stroke="#989898" stroke-width="0.5"/>
<rect x="549.0" y="437.2" width="2.2" height="36.8" fill="#c6c9c9" fill-opacity="0.9" stroke="#989898" stroke-width="0.5"/>
<rect x="551.3" y="440.1" width="2.2" height="33.9" fill="#ecbcc4" fill-opacity="0.9" stroke="#c8949e" stroke-width="0.5"/>
<rect x="553.7" y="436.2" width="2.2" height="37.8" fill="#c6c9c9" fill-opacity="0.9" stroke="#989898" stroke-width="0.5"/>
<rect x="556.1" y="427.0" width="2.2" height="47.0" fill="#c6c9c9" fill-opacity="0.9" stroke="#989898" stroke-width="0.5"/>
<rect x="558.4" y="427.0" width="2.2" height="47.0" fill="#ecbcc4" fill-opacity="0.9" stroke="#c8949e" stroke-width="0.5"/>
<rect x="560.8" y="423.8" width="2.2" height="50.2" fill="#c6c9c9" fill-opacity="0.9" stroke="#989898" stroke-width="0.5"/>
<rect x="563.2" y="418.5" width="2.2" height="55.5" fill="#ecbcc4" fill-opacity="0.9" stroke="#c8949e" stroke-width="0.5"/>
<rect x="565.5" y="423.8" width="2.2" height="50.2" fill="#c6c9c9" fill-opacity="0.9" stroke="#989898" stroke-width="0.5"/>
<rect x="567.9" y="422.2" width="2.2" height="51.8" fill="#c6c9c9" fill-opacity="0.9" stroke="#989898" stroke-width="0.5"/>
<rect x="570.3" y="423.3" width="2.2" height="50.7" fill="#ecbcc4" fill-opacity="0.9" stroke="#c8949e" stroke-width="0.5"/>
<rect x="572.6" y="423.0" width="2.2" height="51.0" fill="#c6c9c9" fill-opacity="0.9" stroke="#989898" stroke-width="0.5"/>
<rect x="575.0" y="423.8" width="2.2" height="50.2" fill="#c6c9c9" fill-opacity="0.9" stroke="#989898" stroke-width="0.5"/>
<rect x="577.4" y="426.2" width="2.2" height="47.8" fill="#ecbcc4" fill-opacity="0.9" stroke="#c8949e" stroke-width="0.5"/>
<rect x="579.7" y="427.8" width="2.2" height="46.2" fill="#ecbcc4" fill-opacity="0.9" stroke="#c8949e" stroke-width="0.5"/>
<rect x="582.1" y="429.4" width="2.2" height="44.6" fill="#c6c9c9" fill-opacity="0.9" stroke="#989898" stroke-width="0.5"/>
<rect x="584.5" y="425.4" width="2.2" height="48.6" fill="#c6c9c9" fill-opacity="0.9" stroke="#989898" stroke-width="0.5"/>
<rect x="586.8" y="422.2" width="2.2" height="51.8" fill="#c6c9c9" fill-opacity="0.9" stroke="#989898" stroke-width="0.5"/>
<rect x="589.2" y="431.0" width="2.2" height="43.0" fill="#c6c9c9" fill-opacity="0.9" stroke="#989898" stroke-width="0.5"/>
<rect x="591.6" y="423.0" width="2.2" height="51.0" fill="#c6c9c9" fill-opacity="0.9" stroke="#989898" stroke-width="0.5"/>
<rect x="593.9" y="422.0" width="2.2" height="52.0" fill="#ecbcc4" fill-opacity="0.9" stroke="#c8949e" stroke-width="0.5"/>
<rect x="596.3" y="395.1" width="2.2" height="78.9" fill="#ecbcc4" fill-opacity="0.9" stroke="#c8949e" stroke-width="0.5"/>
<rect x="598.7" y="404.3" width="2.2" height="69.7" fill="#c6c9c9" fill-opacity="0.9" stroke="#989898" stroke-width="0.5"/>
<rect x="601.0" y="420.0" width="2.2" height="54.0" fill="#ecbcc4" fill-opacity="0.9" stroke="#c8949e" stroke-width="0.5"/>
<rect x="603.4" y="414.0" width="2.2" height="60.0" fill="#c6c9c9" fill-opacity="0.9" stroke="#989898" stroke-width="0.5"/>
<rect x="605.8" y="418.0" width="2.2" height="56.0" fill="#c6c9c9" fill-opacity="0.9" stroke="#989898" stroke-width="0.5"/>
<rect x="608.1" y="422.0" width="2.2" height="52.0" fill="#ecbcc4" fill-opacity="0.9" stroke="#c8949e" stroke-width="0.5"/>
<rect x="610.5" y="418.0" width="2.2" height="56.0" fill="#c6c9c9" fill-opacity="0.9" stroke="#989898" stroke-width="0.5"/>
<rect x="612.9" y="416.0" width="2.2" height="58.0" fill="#c6c9c9" fill-opacity="0.9" stroke="#989898" stroke-width="0.5"/>
<rect x="615.2" y="413.2" width="2.2" height="60.8" fill="#c6c9c9" fill-opacity="0.9" stroke="#989898" stroke-width="0.5"/>
<rect x="617.6" y="412.0" width="2.2" height="62.0" fill="#c6c9c9" fill-opacity="0.9" stroke="#989898" stroke-width="0.5"/>
<rect x="620.0" y="398.7" width="2.2" height="75.3" fill="#ecbcc4" fill-opacity="0.9" stroke="#c8949e" stroke-width="0.5"/>
<rect x="622.3" y="397.1" width="2.2" height="76.9" fill="#c6c9c9" fill-opacity="0.9" stroke="#989898" stroke-width="0.5"/>
<rect x="624.7" y="421.8" width="2.2" height="52.2" fill="#c6c9c9" fill-opacity="0.9" stroke="#989898" stroke-width="0.5"/>
<rect x="627.1" y="419.0" width="2.2" height="55.0" fill="#ecbcc4" fill-opacity="0.9" stroke="#c8949e" stroke-width="0.5"/>
<rect x="629.4" y="422.0" width="2.2" height="52.0" fill="#ecbcc4" fill-opacity="0.9" stroke="#c8949e" stroke-width="0.5"/>
<rect x="631.8" y="427.8" width="2.2" height="46.2" fill="#ecbcc4" fill-opacity="0.9" stroke="#c8949e" stroke-width="0.5"/>
<rect x="634.2" y="426.2" width="2.2" height="47.8" fill="#c6c9c9" fill-opacity="0.9" stroke="#989898" stroke-width="0.5"/>
<rect x="636.5" y="427.0" width="2.2" height="47.0" fill="#ecbcc4" fill-opacity="0.9" stroke="#c8949e" stroke-width="0.5"/>
<rect x="638.9" y="420.4" width="2.2" height="53.6" fill="#ecbcc4" fill-opacity="0.9" stroke="#c8949e" stroke-width="0.5"/>
<rect x="641.3" y="434.0" width="2.2" height="40.0" fill="#c6c9c9" fill-opacity="0.9" stroke="#989898" stroke-width="0.5"/>
<rect x="643.6" y="437.0" width="2.2" height="37.0" fill="#ecbcc4" fill-opacity="0.9" stroke="#c8949e" stroke-width="0.5"/>
</g>
<polyline points="48.4,381.1 50.8,380.9 53.1,380.7 55.5,380.5 57.9,380.3 60.2,380.0 62.6,379.8 65.0,379.6 67.3,379.5 69.7,379.4 72.1,379.3 74.4,379.3 76.8,379.2 79.2,379.4 81.5,379.4 83.9,379.4 86.3,379.5 88.6,379.6 91.0,379.7 93.4,379.7 95.7,379.7 98.1,379.7 100.5,379.7 102.8,379.7 105.2,379.7 107.6,379.8 109.9,379.9 112.3,380.0 114.7,380.0 117.0,380.0 119.4,380.0 121.8,380.0 124.1,379.9 126.5,379.8 128.9,379.7 131.2,379.7 133.6,379.6 136.0,379.5 138.3,379.5 140.7,379.4 143.1,379.3 145.4,379.3 147.8,379.2 150.2,379.1 152.5,379.0 154.9,378.8 157.3,378.8 159.6,378.7 162.0,378.6 164.4,378.5 166.7,378.4 169.1,378.2 171.5,378.1 173.8,377.9 176.2,377.8 178.6,377.7 180.9,377.5 183.3,377.2 185.7,377.0 188.0,376.7 190.4,376.3 192.8,376.0 195.1,375.7 197.5,375.4 199.8,375.0 202.2,374.7 204.6,374.3 206.9,373.9 209.3,373.5 211.7,373.2 214.0,372.8 216.4,372.3 218.8,371.9 221.1,371.5 223.5,371.2 225.9,370.9 228.2,370.5 230.6,370.1 233.0,369.8 235.3,369.4 237.7,369.1 240.1,368.7 242.4,368.3 244.8,368.0 247.2,367.6 249.5,367.3 251.9,367.0 254.3,366.7 256.6,366.3 259.0,365.9 261.4,365.5 263.7,365.1 266.1,364.7 268.5,364.2 270.8,363.8 273.2,363.3 275.6,362.9 277.9,362.4 280.3,362.0 282.7,361.5 285.0,360.9 287.4,360.4 289.8,359.9 292.1,359.4 294.5,359.0 296.9,358.5 299.2,358.1 301.6,357.6 304.0,357.2 306.3,356.7 308.7,356.2 311.1,355.7 313.4,355.2 315.8,354.6 318.2,354.1 320.5,353.6 322.9,353.2 325.3,352.7 327.6,352.2 330.0,351.7 332.4,351.2 334.7,350.7 337.1,350.2 339.5,349.7 341.8,349.2 344.2,348.6 346.6,348.1 348.9,347.5 351.3,347.0 353.7,346.4 356.0,345.8 358.4,345.2 360.8,344.6 363.1,344.1 365.5,343.6 367.9,343.2 370.2,342.8 372.6,342.4 375.0,342.0 377.3,341.6 379.7,341.2 382.1,340.8 384.4,340.4 386.8,340.0 389.2,339.6 391.5,339.2 393.9,338.8 396.3,338.5 398.6,338.1 401.0,337.7 403.4,337.2 405.7,336.8 408.1,336.4 410.5,336.0 412.8,335.6 415.2,335.3 417.6,334.8 419.9,334.4 422.3,333.9 424.7,333.4 427.0,333.0 429.4,332.5 431.8,332.0 434.1,331.6 436.5,331.2 438.9,330.8 441.2,330.4 443.6,330.0 446.0,329.6 448.3,329.2 450.7,328.9 453.1,328.6 455.4,328.3 457.8,328.0 460.2,327.8 462.5,327.5 464.9,327.1 467.2,326.7 469.6,326.2 472.0,325.8 474.3,325.4 476.7,325.0 479.1,324.5 481.4,324.1 483.8,323.7 486.2,323.2 488.5,322.8 490.9,322.4 493.3,322.1 495.6,321.7 498.0,321.3 500.4,320.9 502.7,320.5 505.1,320.1 507.5,319.7 509.8,319.3 512.2,318.8 514.6,318.4 516.9,317.8 519.3,317.3 521.7,316.7 524.0,316.1 526.4,315.5 528.8,315.0 531.1,314.3 533.5,313.8 535.9,313.1 538.2,312.5 540.6,311.7 543.0,311.0 545.3,310.3 547.7,309.4 550.1,308.6 552.4,307.7 554.8,306.8 557.2,305.9 559.5,305.1 561.9,304.2 564.3,303.3 566.6,302.4 569.0,301.5 571.4,300.7 573.7,299.9 576.1,299.1 578.5,298.3 580.8,297.4 583.2,296.5 585.6,295.6 587.9,294.8 590.3,294.0 592.7,293.1 595.0,292.3 597.4,291.6 599.8,290.9 602.1,290.2 604.5,289.5 606.9,288.7 609.2,288.0 611.6,287.2 614.0,286.4 616.3,285.6 618.7,284.9 621.1,284.1 623.4,283.3 625.8,282.6 628.2,281.8 630.5,281.1 632.9,280.3 635.3,279.6 637.6,279.0 640.0,278.3 642.4,277.7 644.7,277.1" fill="none" stroke="#a3294a" stroke-width="1.2"/>
<polyline points="48.4,348.8 50.8,348.9 53.1,349.1 55.5,349.0 57.9,349.2 60.2,349.1 62.6,349.2 65.0,349.4 67.3,350.1 69.7,350.4 72.1,351.2 74.4,352.4 76.8,353.2 79.2,354.7 81.5,355.9 83.9,357.4 86.3,358.8 88.6,360.4 91.0,362.1 93.4,363.5 95.7,364.9 98.1,366.0 100.5,367.4 102.8,368.5 105.2,369.8 107.6,371.3 109.9,372.6 112.3,374.1 114.7,375.1 117.0,376.0 119.4,376.8 121.8,377.6 124.1,378.3 126.5,378.8 128.9,379.4 131.2,380.0 133.6,380.5 136.0,381.2 138.3,382.2 140.7,383.0 143.1,383.9 145.4,384.7 147.8,385.4 150.2,386.3 152.5,386.9 154.9,387.6 157.3,388.5 159.6,389.2 162.0,389.5 164.4,389.6 166.7,389.6 169.1,389.1 171.5,388.6 173.8,388.6 176.2,388.5 178.6,388.5 180.9,388.3 183.3,387.8 185.7,386.8 188.0,386.0 190.4,384.9 192.8,383.3 195.1,382.1 197.5,380.2 199.8,378.6 202.2,376.7 204.6,374.8 206.9,372.8 209.3,370.6 211.7,369.0 214.0,367.2 216.4,365.6 218.8,363.8 221.1,362.1 223.5,360.8 225.9,359.2 228.2,357.6 230.6,355.8 233.0,354.3 235.3,352.9 237.7,351.6 240.1,350.2 242.4,348.8 244.8,347.9 247.2,346.7 249.5,345.9 251.9,345.0 254.3,344.0 256.6,342.7 259.0,341.5 261.4,340.2 263.7,339.0 266.1,337.8 268.5,336.5 270.8,335.3 273.2,334.3 275.6,333.0 277.9,331.8 280.3,330.7 282.7,329.6 285.0,328.4 287.4,327.4 289.8,326.4 292.1,325.5 294.5,324.5 296.9,323.4 299.2,322.5 301.6,321.7 304.0,320.8 306.3,319.9 308.7,318.9 311.1,317.8 313.4,316.8 315.8,315.7 318.2,314.6 320.5,313.7 322.9,312.9 325.3,312.1 327.6,311.2 330.0,310.3 332.4,309.5 334.7,308.7 337.1,308.0 339.5,307.2 341.8,306.1 344.2,305.0 346.6,303.9 348.9,302.8 351.3,301.8 353.7,300.7 356.0,299.6 358.4,298.5 360.8,297.3 363.1,296.4 365.5,295.6 367.9,295.0 370.2,294.2 372.6,293.7 375.0,293.3 377.3,292.8 379.7,292.3 382.1,291.9 384.4,291.7 386.8,291.5 389.2,291.4 391.5,291.1 393.9,291.0 396.3,290.9 398.6,290.7 401.0,290.3 403.4,290.1 405.7,289.8 408.1,289.5 410.5,289.1 412.8,288.6 415.2,288.2 417.6,287.6 419.9,287.1 422.3,286.5 424.7,285.9 427.0,285.3 429.4,284.9 431.8,284.4 434.1,284.1 436.5,283.8 438.9,283.5 441.2,283.1 443.6,282.8 446.0,282.6 448.3,282.4 450.7,282.2 453.1,282.3 455.4,282.3 457.8,282.5 460.2,282.7 462.5,282.8 464.9,282.7 467.2,282.6 469.6,282.5 472.0,282.4 474.3,282.6 476.7,282.7 479.1,282.9 481.4,282.6 483.8,282.3 486.2,281.7 488.5,281.3 490.9,280.8 493.3,280.2 495.6,279.7 498.0,279.2 500.4,278.6 502.7,277.9 505.1,277.1 507.5,276.2 509.8,275.5 512.2,274.5 514.6,273.5 516.9,272.6 519.3,271.8 521.7,271.1 524.0,270.4 526.4,269.8 528.8,269.1 531.1,268.4 533.5,267.5 535.9,266.8 538.2,266.0 540.6,265.4 543.0,264.9 545.3,264.4 547.7,263.9 550.1,263.2 552.4,262.6 554.8,261.8 557.2,261.1 559.5,260.4 561.9,259.7 564.3,259.1 566.6,258.2 569.0,257.3 571.4,256.2 573.7,255.2 576.1,254.0 578.5,252.9 580.8,251.9 583.2,251.1 585.6,250.3 587.9,249.4 590.3,248.5 592.7,247.4 595.0,246.5 597.4,245.7 599.8,244.9 602.1,244.3 604.5,243.5 606.9,242.6 609.2,241.8 611.6,240.8 614.0,239.8 616.3,238.8 618.7,237.9 621.1,237.0 623.4,236.1 625.8,235.2 628.2,234.4 630.5,233.6 632.9,232.9 635.3,232.2 637.6,231.8 640.0,231.2 642.4,230.6 644.7,230.3" fill="none" stroke="#2b2f80" stroke-width="1.2"/>
<g>
<line x1="48.4" x2="48.4" y1="350.8" y2="359.5" stroke="#000000" stroke-width="1"/>
<rect x="47.3" y="352.0" width="2.2" height="5.1" fill="#000000"/>
<line x1="50.8" x2="50.8" y1="360.3" y2="373.6" stroke="#a8123e" stroke-width="1"/>
<rect x="49.7" y="366.0" width="2.2" height="6.4" fill="#a8123e"/>
<line x1="53.1" x2="53.1" y1="371.5" y2="384.4" stroke="#000000" stroke-width="1"/>
<rect x="52.0" y="372.0" width="2.2" height="0.8" fill="#000000"/>
<line x1="55.5" x2="55.5" y1="358.0" y2="373.6" stroke="#000000" stroke-width="1"/>
<rect x="54.6" y="358.2" width="1.8" height="11.7" fill="#fff" stroke="#000000" stroke-width="1"/>
<line x1="57.9" x2="57.9" y1="354.0" y2="371.5" stroke="#a8123e" stroke-width="1"/>
<rect x="56.8" y="358.3" width="2.2" height="9.7" fill="#a8123e"/>
<line x1="60.2" x2="60.2" y1="353.9" y2="366.0" stroke="#000000" stroke-width="1"/>
<rect x="59.3" y="355.8" width="1.8" height="7.9" fill="#fff" stroke="#000000" stroke-width="1"/>
<line x1="62.6" x2="62.6" y1="360.3" y2="370.0" stroke="#a8123e" stroke-width="1"/>
<rect x="61.5" y="360.5" width="2.2" height="5.5" fill="#a8123e"/>
<line x1="65.0" x2="65.0" y1="371.0" y2="382.0" stroke="#a8123e" stroke-width="1"/>
<rect x="64.1" y="372.1" width="1.8" height="7.9" fill="#fff" stroke="#a8123e" stroke-width="1"/>
<line x1="67.3" x2="67.3" y1="385.8" y2="398.0" stroke="#a8123e" stroke-width="1"/>
<rect x="66.2" y="387.0" width="2.2" height="9.6" fill="#a8123e"/>
<line x1="69.7" x2="69.7" y1="379.0" y2="393.0" stroke="#000000" stroke-width="1"/>
<rect x="68.8" y="380.9" width="1.8" height="6.1" fill="#fff" stroke="#000000" stroke-width="1"/>
<line x1="72.1" x2="72.1" y1="387.0" y2="401.5" stroke="#a8123e" stroke-width="1"/>
<rect x="71.0" y="388.3" width="2.2" height="8.2" fill="#a8123e"/>
<line x1="74.4" x2="74.4" y1="405.0" y2="429.4" stroke="#a8123e" stroke-width="1"/>
<rect x="73.3" y="407.3" width="2.2" height="21.3" fill="#a8123e"/>
<line x1="76.8" x2="76.8" y1="398.5" y2="428.9" stroke="#000000" stroke-width="1"/>
<rect x="75.9" y="399.7" width="1.8" height="11.8" fill="#fff" stroke="#000000" stroke-width="1"/>
<line x1="79.2" x2="79.2" y1="419.0" y2="443.8" stroke="#a8123e" stroke-width="1"/>
<rect x="78.1" y="419.4" width="2.2" height="22.9" fill="#a8123e"/>
<line x1="81.5" x2="81.5" y1="419.9" y2="446.3" stroke="#000000" stroke-width="1"/>
<rect x="80.6" y="422.7" width="1.8" height="13.1" fill="#fff" stroke="#000000" stroke-width="1"/>
<line x1="83.9" x2="83.9" y1="422.9" y2="453.7" stroke="#a8123e" stroke-width="1"/>
<rect x="82.8" y="430.0" width="2.2" height="8.3" fill="#a8123e"/>
<line x1="86.3" x2="86.3" y1="422.9" y2="445.0" stroke="#000000" stroke-width="1"/>
<rect x="85.4" y="431.0" width="1.8" height="11.8" fill="#fff" stroke="#000000" stroke-width="1"/>
<line x1="88.6" x2="88.6" y1="422.0" y2="446.0" stroke="#a8123e" stroke-width="1"/>
<rect x="87.5" y="424.0" width="2.2" height="19.5" fill="#a8123e"/>
<line x1="91.0" x2="91.0" y1="438.8" y2="455.7" stroke="#a8123e" stroke-width="1"/>
<rect x="89.9" y="440.0" width="2.2" height="4.4" fill="#a8123e"/>
<line x1="93.4" x2="93.4" y1="418.5" y2="431.0" stroke="#000000" stroke-width="1"/>
<rect x="92.5" y="419.1" width="1.8" height="11.2" fill="#fff" stroke="#000000" stroke-width="1"/>
<line x1="95.7" x2="95.7" y1="408.0" y2="425.4" stroke="#a8123e" stroke-width="1"/>
<rect x="94.6" y="412.0" width="2.2" height="8.5" fill="#a8123e"/>
<line x1="98.1" x2="98.1" y1="402.0" y2="418.0" stroke="#000000" stroke-width="1"/>
<rect x="97.2" y="402.9" width="1.8" height="14.5" fill="#fff" stroke="#000000" stroke-width="1"/>
<line x1="100.5" x2="100.5" y1="404.0" y2="417.0" stroke="#a8123e" stroke-width="1"/>
<rect x="99.4" y="406.0" width="2.2" height="9.4" fill="#a8123e"/>
<line x1="102.8" x2="102.8" y1="402.5" y2="415.0" stroke="#000000" stroke-width="1"/>
<rect x="101.9" y="403.9" width="1.8" height="10.1" fill="#fff" stroke="#000000" stroke-width="1"/>
<line x1="105.2" x2="105.2" y1="400.0" y2="410.0" stroke="#a8123e" stroke-width="1"/>
<rect x="104.1" y="403.0" width="2.2" height="4.0" fill="#a8123e"/>
<line x1="107.6" x2="107.6" y1="413.0" y2="424.4" stroke="#a8123e" stroke-width="1"/>
<rect x="106.5" y="415.0" width="2.2" height="6.6" fill="#a8123e"/>
<line x1="109.9" x2="109.9" y1="415.0" y2="425.0" stroke="#000000" stroke-width="1"/>
<rect x="109.0" y="416.0" width="1.8" height="8.0" fill="#fff" stroke="#000000" stroke-width="1"/>
<line x1="112.3" x2="112.3" y1="414.9" y2="424.8" stroke="#a8123e" stroke-width="1"/>
<rect x="111.2" y="416.0" width="2.2" height="5.0" fill="#a8123e"/>
<line x1="114.7" x2="114.7" y1="396.7" y2="411.7" stroke="#000000" stroke-width="1"/>
<rect x="113.8" y="398.1" width="1.8" height="11.6" fill="#fff" stroke="#000000" stroke-width="1"/>
<line x1="117.0" x2="117.0" y1="389.0" y2="401.0" stroke="#a8123e" stroke-width="1"/>
<rect x="115.9" y="390.0" width="2.2" height="9.2" fill="#a8123e"/>
<line x1="119.4" x2="119.4" y1="388.0" y2="400.0" stroke="#000000" stroke-width="1"/>
<rect x="118.5" y="390.9" width="1.8" height="7.1" fill="#fff" stroke="#000000" stroke-width="1"/>
<line x1="121.8" x2="121.8" y1="386.8" y2="392.0" stroke="#000000" stroke-width="1"/>
<rect x="120.9" y="388.4" width="1.8" height="2.6" fill="#fff" stroke="#000000" stroke-width="1"/>
<line x1="124.1" x2="124.1" y1="386.5" y2="393.8" stroke="#000000" stroke-width="1"/>
<rect x="123.2" y="386.9" width="1.8" height="3.1" fill="#fff" stroke="#000000" stroke-width="1"/>
<line x1="126.5" x2="126.5" y1="374.0" y2="382.0" stroke="#000000" stroke-width="1"/>
<rect x="125.6" y="374.3" width="1.8" height="6.7" fill="#fff" stroke="#000000" stroke-width="1"/>
<line x1="128.9" x2="128.9" y1="376.0" y2="382.3" stroke="#a8123e" stroke-width="1"/>
<rect x="127.8" y="376.0" width="2.2" height="3.0" fill="#a8123e"/>
<line x1="131.2" x2="131.2" y1="373.0" y2="380.0" stroke="#000000" stroke-width="1"/>
<rect x="130.3" y="373.7" width="1.8" height="5.3" fill="#fff" stroke="#000000" stroke-width="1"/>
<line x1="133.6" x2="133.6" y1="369.0" y2="374.0" stroke="#000000" stroke-width="1"/>
<rect x="132.7" y="369.3" width="1.8" height="0.8" fill="#fff" stroke="#000000" stroke-width="1"/>
<line x1="136.0" x2="136.0" y1="369.0" y2="374.0" stroke="#a8123e" stroke-width="1"/>
<rect x="134.9" y="370.0" width="2.2" height="2.6" fill="#a8123e"/>
<line x1="138.3" x2="138.3" y1="373.0" y2="386.8" stroke="#a8123e" stroke-width="1"/>
<rect x="137.2" y="374.0" width="2.2" height="10.1" fill="#a8123e"/>
<line x1="140.7" x2="140.7" y1="374.9" y2="380.0" stroke="#000000" stroke-width="1"/>
<rect x="139.8" y="375.1" width="1.8" height="3.9" fill="#fff" stroke="#000000" stroke-width="1"/>
<line x1="143.1" x2="143.1" y1="372.0" y2="378.0" stroke="#a8123e" stroke-width="1"/>
<rect x="142.0" y="373.0" width="2.2" height="2.1" fill="#a8123e"/>
<line x1="145.4" x2="145.4" y1="369.0" y2="376.0" stroke="#000000" stroke-width="1"/>
<rect x="144.5" y="369.9" width="1.8" height="4.1" fill="#fff" stroke="#000000" stroke-width="1"/>
<line x1="147.8" x2="147.8" y1="365.0" y2="368.0" stroke="#000000" stroke-width="1"/>
<rect x="146.7" y="366.0" width="2.2" height="0.8" fill="#000000"/>
<line x1="150.2" x2="150.2" y1="363.0" y2="371.4" stroke="#a8123e" stroke-width="1"/>
<rect x="149.1" y="364.0" width="2.2" height="6.9" fill="#a8123e"/>
<line x1="152.5" x2="152.5" y1="358.6" y2="367.0" stroke="#000000" stroke-width="1"/>
<rect x="151.6" y="359.5" width="1.8" height="6.5" fill="#fff" stroke="#000000" stroke-width="1"/>
<line x1="154.9" x2="154.9" y1="359.0" y2="360.5" stroke="#a8123e" stroke-width="1"/>
<rect x="153.8" y="360.2" width="2.2" height="0.8" fill="#a8123e"/>
<line x1="157.3" x2="157.3" y1="353.3" y2="372.4" stroke="#a8123e" stroke-width="1"/>
<rect x="156.2" y="359.6" width="2.2" height="11.3" fill="#a8123e"/>
<line x1="159.6" x2="159.6" y1="365.8" y2="370.9" stroke="#000000" stroke-width="1"/>
<rect x="158.7" y="367.0" width="1.8" height="2.4" fill="#fff" stroke="#000000" stroke-width="1"/>
<line x1="162.0" x2="162.0" y1="358.5" y2="368.5" stroke="#000000" stroke-width="1"/>
<rect x="161.1" y="363.4" width="1.8" height="1.7" fill="#fff" stroke="#000000" stroke-width="1"/>
<line x1="164.4" x2="164.4" y1="361.6" y2="364.9" stroke="#000000" stroke-width="1"/>
<rect x="163.5" y="361.7" width="1.8" height="1.5" fill="#fff" stroke="#000000" stroke-width="1"/>
<line x1="166.7" x2="166.7" y1="354.8" y2="361.5" stroke="#000000" stroke-width="1"/>
<rect x="165.8" y="357.2" width="1.8" height="2.5" fill="#fff" stroke="#000000" stroke-width="1"/>
<line x1="169.1" x2="169.1" y1="351.6" y2="363.1" stroke="#000000" stroke-width="1"/>
<rect x="168.2" y="352.1" width="1.8" height="6.1" fill="#fff" stroke="#000000" stroke-width="1"/>
<line x1="171.5" x2="171.5" y1="347.5" y2="353.3" stroke="#000000" stroke-width="1"/>
<rect x="170.6" y="349.6" width="1.8" height="3.4" fill="#fff" stroke="#000000" stroke-width="1"/>
<line x1="173.8" x2="173.8" y1="350.0" y2="361.1" stroke="#a8123e" stroke-width="1"/>
<rect x="172.7" y="350.1" width="2.2" height="6.3" fill="#a8123e"/>
<line x1="176.2" x2="176.2" y1="353.5" y2="364.8" stroke="#a8123e" stroke-width="1"/>
<rect x="175.1" y="356.8" width="2.2" height="4.5" fill="#a8123e"/>
<line x1="178.6" x2="178.6" y1="358.2" y2="360.5" stroke="#000000" stroke-width="1"/>
<rect x="177.7" y="358.5" width="1.8" height="1.5" fill="#fff" stroke="#000000" stroke-width="1"/>
<line x1="180.9" x2="180.9" y1="352.0" y2="360.8" stroke="#000000" stroke-width="1"/>
<rect x="180.0" y="355.9" width="1.8" height="2.5" fill="#fff" stroke="#000000" stroke-width="1"/>
<line x1="183.3" x2="183.3" y1="346.8" y2="353.7" stroke="#000000" stroke-width="1"/>
<rect x="182.4" y="348.1" width="1.8" height="2.7" fill="#fff" stroke="#000000" stroke-width="1"/>
<line x1="185.7" x2="185.7" y1="347.1" y2="353.8" stroke="#a8123e" stroke-width="1"/>
<rect x="184.6" y="349.2" width="2.2" height="0.8" fill="#a8123e"/>
<line x1="188.0" x2="188.0" y1="342.9" y2="352.8" stroke="#000000" stroke-width="1"/>
<rect x="187.1" y="343.2" width="1.8" height="4.0" fill="#fff" stroke="#000000" stroke-width="1"/>
<line x1="190.4" x2="190.4" y1="343.4" y2="348.2" stroke="#a8123e" stroke-width="1"/>
<rect x="189.3" y="345.5" width="2.2" height="0.8" fill="#a8123e"/>
<line x1="192.8" x2="192.8" y1="344.2" y2="348.3" stroke="#000000" stroke-width="1"/>
<rect x="191.8" y="344.9" width="1.8" height="2.0" fill="#fff" stroke="#000000" stroke-width="1"/>
<line x1="195.1" x2="195.1" y1="341.2" y2="346.1" stroke="#000000" stroke-width="1"/>
<rect x="194.0" y="344.0" width="2.2" height="0.8" fill="#000000"/>
<line x1="197.5" x2="197.5" y1="339.6" y2="345.3" stroke="#000000" stroke-width="1"/>
<rect x="196.6" y="341.9" width="1.8" height="3.3" fill="#fff" stroke="#000000" stroke-width="1"/>
<line x1="199.8" x2="199.8" y1="343.1" y2="343.7" stroke="#a8123e" stroke-width="1"/>
<rect x="198.7" y="343.3" width="2.2" height="0.8" fill="#a8123e"/>
<line x1="202.2" x2="202.2" y1="335.7" y2="345.2" stroke="#000000" stroke-width="1"/>
<rect x="201.3" y="339.3" width="1.8" height="2.0" fill="#fff" stroke="#000000" stroke-width="1"/>
<line x1="204.6" x2="204.6" y1="337.1" y2="340.3" stroke="#000000" stroke-width="1"/>
<rect x="203.7" y="337.1" width="1.8" height="1.9" fill="#fff" stroke="#000000" stroke-width="1"/>
<line x1="206.9" x2="206.9" y1="334.3" y2="337.5" stroke="#000000" stroke-width="1"/>
<rect x="206.0" y="335.2" width="1.8" height="2.1" fill="#fff" stroke="#000000" stroke-width="1"/>
<line x1="209.3" x2="209.3" y1="332.3" y2="336.1" stroke="#000000" stroke-width="1"/>
<rect x="208.4" y="332.7" width="1.8" height="2.6" fill="#fff" stroke="#000000" stroke-width="1"/>
<line x1="211.7" x2="211.7" y1="331.7" y2="338.1" stroke="#a8123e" stroke-width="1"/>
<rect x="210.6" y="333.0" width="2.2" height="2.0" fill="#a8123e"/>
<line x1="214.0" x2="214.0" y1="324.7" y2="331.8" stroke="#000000" stroke-width="1"/>
<rect x="213.1" y="328.4" width="1.8" height="3.4" fill="#fff" stroke="#000000" stroke-width="1"/>
<line x1="216.4" x2="216.4" y1="323.2" y2="330.0" stroke="#000000" stroke-width="1"/>
<rect x="215.5" y="324.7" width="1.8" height="3.7" fill="#fff" stroke="#000000" stroke-width="1"/>
<line x1="218.8" x2="218.8" y1="320.4" y2="325.4" stroke="#000000" stroke-width="1"/>
<rect x="217.9" y="323.8" width="1.8" height="0.8" fill="#fff" stroke="#000000" stroke-width="1"/>
<line x1="221.1" x2="221.1" y1="319.5" y2="322.7" stroke="#000000" stroke-width="1"/>
<rect x="220.2" y="321.6" width="1.8" height="0.8" fill="#fff" stroke="#000000" stroke-width="1"/>
<line x1="223.5" x2="223.5" y1="328.5" y2="340.2" stroke="#a8123e" stroke-width="1"/>
<rect x="222.4" y="329.1" width="2.2" height="10.0" fill="#a8123e"/>
<line x1="225.9" x2="225.9" y1="330.1" y2="342.2" stroke="#000000" stroke-width="1"/>
<rect x="225.0" y="335.9" width="1.8" height="2.1" fill="#fff" stroke="#000000" stroke-width="1"/>
<line x1="228.2" x2="228.2" y1="330.8" y2="338.3" stroke="#000000" stroke-width="1"/>
<rect x="227.3" y="331.3" width="1.8" height="2.4" fill="#fff" stroke="#000000" stroke-width="1"/>
<line x1="230.6" x2="230.6" y1="322.9" y2="330.4" stroke="#000000" stroke-width="1"/>
<rect x="229.7" y="325.7" width="1.8" height="2.7" fill="#fff" stroke="#000000" stroke-width="1"/>
<line x1="233.0" x2="233.0" y1="324.1" y2="326.4" stroke="#000000" stroke-width="1"/>
<rect x="231.9" y="324.9" width="2.2" height="0.8" fill="#000000"/>
<line x1="235.3" x2="235.3" y1="322.6" y2="325.8" stroke="#000000" stroke-width="1"/>
<rect x="234.4" y="324.1" width="1.8" height="1.5" fill="#fff" stroke="#000000" stroke-width="1"/>
<line x1="237.7" x2="237.7" y1="321.7" y2="326.0" stroke="#000000" stroke-width="1"/>
<rect x="236.6" y="323.4" width="2.2" height="0.8" fill="#000000"/>
<line x1="240.1" x2="240.1" y1="317.9" y2="323.5" stroke="#000000" stroke-width="1"/>
<rect x="239.2" y="320.5" width="1.8" height="1.9" fill="#fff" stroke="#000000" stroke-width="1"/>
<line x1="242.4" x2="242.4" y1="316.2" y2="319.8" stroke="#000000" stroke-width="1"/>
<rect x="241.5" y="318.1" width="1.8" height="0.8" fill="#fff" stroke="#000000" stroke-width="1"/>
<line x1="244.8" x2="244.8" y1="318.1" y2="329.3" stroke="#a8123e" stroke-width="1"/>
<rect x="243.7" y="318.5" width="2.2" height="6.7" fill="#a8123e"/>
<line x1="247.2" x2="247.2" y1="319.4" y2="324.4" stroke="#000000" stroke-width="1"/>
<rect x="246.3" y="321.7" width="1.8" height="2.0" fill="#fff" stroke="#000000" stroke-width="1"/>
<line x1="249.5" x2="249.5" y1="320.0" y2="332.2" stroke="#a8123e" stroke-width="1"/>
<rect x="248.4" y="323.3" width="2.2" height="7.0" fill="#a8123e"/>
<line x1="251.9" x2="251.9" y1="323.2" y2="329.9" stroke="#000000" stroke-width="1"/>
<rect x="251.0" y="326.4" width="1.8" height="2.8" fill="#fff" stroke="#000000" stroke-width="1"/>
<line x1="254.3" x2="254.3" y1="319.6" y2="325.6" stroke="#000000" stroke-width="1"/>
<rect x="253.4" y="320.4" width="1.8" height="4.5" fill="#fff" stroke="#000000" stroke-width="1"/>
<line x1="256.6" x2="256.6" y1="314.1" y2="321.1" stroke="#000000" stroke-width="1"/>
<rect x="255.7" y="317.3" width="1.8" height="3.0" fill="#fff" stroke="#000000" stroke-width="1"/>
<line x1="259.0" x2="259.0" y1="314.9" y2="316.6" stroke="#000000" stroke-width="1"/>
<rect x="258.1" y="315.6" width="1.8" height="0.8" fill="#fff" stroke="#000000" stroke-width="1"/>
<line x1="261.4" x2="261.4" y1="308.0" y2="314.1" stroke="#000000" stroke-width="1"/>
<rect x="260.5" y="308.5" width="1.8" height="4.9" fill="#fff" stroke="#000000" stroke-width="1"/>
<line x1="263.7" x2="263.7" y1="308.5" y2="314.5" stroke="#a8123e" stroke-width="1"/>
<rect x="262.6" y="309.4" width="2.2" height="1.9" fill="#a8123e"/>
<line x1="266.1" x2="266.1" y1="304.1" y2="313.8" stroke="#000000" stroke-width="1"/>
<rect x="265.2" y="306.7" width="1.8" height="4.8" fill="#fff" stroke="#000000" stroke-width="1"/>
<line x1="268.5" x2="268.5" y1="303.0" y2="310.1" stroke="#000000" stroke-width="1"/>
<rect x="267.6" y="305.0" width="1.8" height="1.6" fill="#fff" stroke="#000000" stroke-width="1"/>
<line x1="270.8" x2="270.8" y1="301.7" y2="305.3" stroke="#000000" stroke-width="1"/>
<rect x="269.9" y="302.9" width="1.8" height="1.6" fill="#fff" stroke="#000000" stroke-width="1"/>
<line x1="273.2" x2="273.2" y1="303.3" y2="310.1" stroke="#a8123e" stroke-width="1"/>
<rect x="272.1" y="303.9" width="2.2" height="6.0" fill="#a8123e"/>
<line x1="275.6" x2="275.6" y1="303.5" y2="311.9" stroke="#000000" stroke-width="1"/>
<rect x="274.7" y="306.8" width="1.8" height="2.2" fill="#fff" stroke="#000000" stroke-width="1"/>
<line x1="277.9" x2="277.9" y1="303.8" y2="309.1" stroke="#000000" stroke-width="1"/>
<rect x="277.0" y="304.9" width="1.8" height="1.9" fill="#fff" stroke="#000000" stroke-width="1"/>
<line x1="280.3" x2="280.3" y1="305.7" y2="309.8" stroke="#a8123e" stroke-width="1"/>
<rect x="279.2" y="305.8" width="2.2" height="1.5" fill="#a8123e"/>
<line x1="282.7" x2="282.7" y1="304.5" y2="311.3" stroke="#000000" stroke-width="1"/>
<rect x="281.8" y="306.4" width="1.8" height="1.4" fill="#fff" stroke="#000000" stroke-width="1"/>
<line x1="285.0" x2="285.0" y1="296.2" y2="303.7" stroke="#000000" stroke-width="1"/>
<rect x="284.1" y="298.3" width="1.8" height="4.6" fill="#fff" stroke="#000000" stroke-width="1"/>
<line x1="287.4" x2="287.4" y1="299.5" y2="303.0" stroke="#a8123e" stroke-width="1"/>
<rect x="286.3" y="300.5" width="2.2" height="0.8" fill="#a8123e"/>
<line x1="289.8" x2="289.8" y1="299.8" y2="305.7" stroke="#000000" stroke-width="1"/>
<rect x="288.9" y="300.2" width="1.8" height="0.8" fill="#fff" stroke="#000000" stroke-width="1"/>
<line x1="292.1" x2="292.1" y1="297.7" y2="308.2" stroke="#a8123e" stroke-width="1"/>
<rect x="291.0" y="299.6" width="2.2" height="8.1" fill="#a8123e"/>
<line x1="294.5" x2="294.5" y1="306.3" y2="315.3" stroke="#a8123e" stroke-width="1"/>
<rect x="293.4" y="307.4" width="2.2" height="3.3" fill="#a8123e"/>
<line x1="296.9" x2="296.9" y1="304.0" y2="308.1" stroke="#000000" stroke-width="1"/>
<rect x="296.0" y="305.4" width="1.8" height="2.5" fill="#fff" stroke="#000000" stroke-width="1"/>
<line x1="299.2" x2="299.2" y1="303.5" y2="310.8" stroke="#a8123e" stroke-width="1"/>
<rect x="298.1" y="305.8" width="2.2" height="3.7" fill="#a8123e"/>
<line x1="301.6" x2="301.6" y1="303.2" y2="307.6" stroke="#000000" stroke-width="1"/>
<rect x="300.7" y="305.2" width="1.8" height="1.5" fill="#fff" stroke="#000000" stroke-width="1"/>
<line x1="304.0" x2="304.0" y1="302.3" y2="305.3" stroke="#000000" stroke-width="1"/>
<rect x="303.1" y="303.8" width="1.8" height="0.8" fill="#fff" stroke="#000000" stroke-width="1"/>
<line x1="306.3" x2="306.3" y1="297.5" y2="306.0" stroke="#000000" stroke-width="1"/>
<rect x="305.4" y="299.0" width="1.8" height="5.5" fill="#fff" stroke="#000000" stroke-width="1"/>
<line x1="308.7" x2="308.7" y1="294.0" y2="298.1" stroke="#000000" stroke-width="1"/>
<rect x="307.8" y="294.3" width="1.8" height="3.1" fill="#fff" stroke="#000000" stroke-width="1"/>
<line x1="311.1" x2="311.1" y1="289.2" y2="298.3" stroke="#000000" stroke-width="1"/>
<rect x="310.2" y="293.1" width="1.8" height="1.8" fill="#fff" stroke="#000000" stroke-width="1"/>
<line x1="313.4" x2="313.4" y1="286.4" y2="295.8" stroke="#000000" stroke-width="1"/>
<rect x="312.5" y="291.5" width="1.8" height="1.5" fill="#fff" stroke="#000000" stroke-width="1"/>
<line x1="315.8" x2="315.8" y1="288.0" y2="292.9" stroke="#000000" stroke-width="1"/>
<rect x="314.9" y="288.2" width="1.8" height="1.7" fill="#fff" stroke="#000000" stroke-width="1"/>
<line x1="318.2" x2="318.2" y1="288.3" y2="292.1" stroke="#a8123e" stroke-width="1"/>
<rect x="317.1" y="289.3" width="2.2" height="1.8" fill="#a8123e"/>
<line x1="320.5" x2="320.5" y1="288.9" y2="295.3" stroke="#a8123e" stroke-width="1"/>
<rect x="319.4" y="290.9" width="2.2" height="1.5" fill="#a8123e"/>
<line x1="322.9" x2="322.9" y1="293.7" y2="300.1" stroke="#a8123e" stroke-width="1"/>
<rect x="321.8" y="295.3" width="2.2" height="2.6" fill="#a8123e"/>
<line x1="325.3" x2="325.3" y1="287.5" y2="297.7" stroke="#000000" stroke-width="1"/>
<rect x="324.4" y="291.0" width="1.8" height="5.8" fill="#fff" stroke="#000000" stroke-width="1"/>
<line x1="327.6" x2="327.6" y1="289.7" y2="290.3" stroke="#000000" stroke-width="1"/>
<rect x="326.5" y="289.8" width="2.2" height="0.8" fill="#000000"/>
<line x1="330.0" x2="330.0" y1="286.1" y2="291.7" stroke="#a8123e" stroke-width="1"/>
<rect x="328.9" y="290.4" width="2.2" height="0.8" fill="#a8123e"/>
<line x1="332.4" x2="332.4" y1="286.6" y2="291.4" stroke="#000000" stroke-width="1"/>
<rect x="331.5" y="287.6" width="1.8" height="1.9" fill="#fff" stroke="#000000" stroke-width="1"/>
<line x1="334.7" x2="334.7" y1="281.3" y2="287.5" stroke="#000000" stroke-width="1"/>
<rect x="333.8" y="285.3" width="1.8" height="1.3" fill="#fff" stroke="#000000" stroke-width="1"/>
<line x1="337.1" x2="337.1" y1="284.1" y2="287.7" stroke="#a8123e" stroke-width="1"/>
<rect x="336.0" y="285.5" width="2.2" height="1.6" fill="#a8123e"/>
<line x1="339.5" x2="339.5" y1="283.6" y2="289.3" stroke="#000000" stroke-width="1"/>
<rect x="338.6" y="283.7" width="1.8" height="2.8" fill="#fff" stroke="#000000" stroke-width="1"/>
<line x1="341.8" x2="341.8" y1="281.9" y2="284.9" stroke="#000000" stroke-width="1"/>
<rect x="340.9" y="282.3" width="1.8" height="1.8" fill="#fff" stroke="#000000" stroke-width="1"/>
<line x1="344.2" x2="344.2" y1="280.0" y2="281.4" stroke="#000000" stroke-width="1"/>
<rect x="343.3" y="280.4" width="1.8" height="0.8" fill="#fff" stroke="#000000" stroke-width="1"/>
<line x1="346.6" x2="346.6" y1="277.4" y2="280.0" stroke="#000000" stroke-width="1"/>
<rect x="345.7" y="277.9" width="1.8" height="1.2" fill="#fff" stroke="#000000" stroke-width="1"/>
<line x1="348.9" x2="348.9" y1="272.1" y2="275.4" stroke="#000000" stroke-width="1"/>
<rect x="348.0" y="272.4" width="1.8" height="1.3" fill="#fff" stroke="#000000" stroke-width="1"/>
<line x1="351.3" x2="351.3" y1="272.5" y2="275.0" stroke="#a8123e" stroke-width="1"/>
<rect x="350.4" y="273.5" width="1.8" height="0.8" fill="#fff" stroke="#a8123e" stroke-width="1"/>
<line x1="353.7" x2="353.7" y1="269.3" y2="275.0" stroke="#000000" stroke-width="1"/>
<rect x="352.8" y="271.5" width="1.8" height="2.0" fill="#fff" stroke="#000000" stroke-width="1"/>
<line x1="356.0" x2="356.0" y1="268.2" y2="277.0" stroke="#000000" stroke-width="1"/>
<rect x="355.1" y="269.3" width="1.8" height="2.7" fill="#fff" stroke="#000000" stroke-width="1"/>
<line x1="358.4" x2="358.4" y1="261.5" y2="268.5" stroke="#000000" stroke-width="1"/>
<rect x="357.5" y="264.8" width="1.8" height="2.9" fill="#fff" stroke="#000000" stroke-width="1"/>
<line x1="360.8" x2="360.8" y1="261.2" y2="262.8" stroke="#000000" stroke-width="1"/>
<rect x="359.9" y="261.7" width="1.8" height="0.8" fill="#fff" stroke="#000000" stroke-width="1"/>
<line x1="363.1" x2="363.1" y1="262.1" y2="280.6" stroke="#a8123e" stroke-width="1"/>
<rect x="362.0" y="267.2" width="2.2" height="11.0" fill="#a8123e"/>
<line x1="365.5" x2="365.5" y1="276.2" y2="285.3" stroke="#a8123e" stroke-width="1"/>
<rect x="364.4" y="278.4" width="2.2" height="3.9" fill="#a8123e"/>
<line x1="367.9" x2="367.9" y1="285.7" y2="296.5" stroke="#a8123e" stroke-width="1"/>
<rect x="366.8" y="288.6" width="2.2" height="7.3" fill="#a8123e"/>
<line x1="370.2" x2="370.2" y1="287.1" y2="295.1" stroke="#000000" stroke-width="1"/>
<rect x="369.3" y="287.3" width="1.8" height="5.6" fill="#fff" stroke="#000000" stroke-width="1"/>
<line x1="372.6" x2="372.6" y1="289.3" y2="297.8" stroke="#a8123e" stroke-width="1"/>
<rect x="371.5" y="289.9" width="2.2" height="3.9" fill="#a8123e"/>
<line x1="375.0" x2="375.0" y1="294.0" y2="297.4" stroke="#a8123e" stroke-width="1"/>
<rect x="373.9" y="295.2" width="2.2" height="0.8" fill="#a8123e"/>
<line x1="377.3" x2="377.3" y1="288.1" y2="298.6" stroke="#000000" stroke-width="1"/>
<rect x="376.4" y="289.7" width="1.8" height="5.3" fill="#fff" stroke="#000000" stroke-width="1"/>
<line x1="379.7" x2="379.7" y1="280.6" y2="289.7" stroke="#000000" stroke-width="1"/>
<rect x="378.8" y="285.8" width="1.8" height="3.0" fill="#fff" stroke="#000000" stroke-width="1"/>
<line x1="382.1" x2="382.1" y1="284.1" y2="292.0" stroke="#a8123e" stroke-width="1"/>
<rect x="381.0" y="284.7" width="2.2" height="5.2" fill="#a8123e"/>
<line x1="384.4" x2="384.4" y1="290.4" y2="294.6" stroke="#a8123e" stroke-width="1"/>
<rect x="383.3" y="293.3" width="2.2" height="0.8" fill="#a8123e"/>
<line x1="386.8" x2="386.8" y1="291.4" y2="298.3" stroke="#a8123e" stroke-width="1"/>
<rect x="385.7" y="295.8" width="2.2" height="1.8" fill="#a8123e"/>
<line x1="389.2" x2="389.2" y1="297.8" y2="305.9" stroke="#a8123e" stroke-width="1"/>
<rect x="388.3" y="298.0" width="1.8" height="0.8" fill="#fff" stroke="#a8123e" stroke-width="1"/>
<line x1="391.5" x2="391.5" y1="292.2" y2="299.7" stroke="#000000" stroke-width="1"/>
<rect x="390.6" y="292.5" width="1.8" height="6.2" fill="#fff" stroke="#000000" stroke-width="1"/>
<line x1="393.9" x2="393.9" y1="294.4" y2="304.0" stroke="#a8123e" stroke-width="1"/>
<rect x="392.8" y="294.6" width="2.2" height="7.8" fill="#a8123e"/>
<line x1="396.3" x2="396.3" y1="299.7" y2="303.1" stroke="#000000" stroke-width="1"/>
<rect x="395.4" y="301.2" width="1.8" height="0.9" fill="#fff" stroke="#000000" stroke-width="1"/>
<line x1="398.6" x2="398.6" y1="292.9" y2="295.2" stroke="#000000" stroke-width="1"/>
<rect x="397.7" y="294.0" width="1.8" height="1.1" fill="#fff" stroke="#000000" stroke-width="1"/>
<line x1="401.0" x2="401.0" y1="286.3" y2="294.3" stroke="#000000" stroke-width="1"/>
<rect x="400.1" y="288.0" width="1.8" height="5.1" fill="#fff" stroke="#000000" stroke-width="1"/>
<line x1="403.4" x2="403.4" y1="288.4" y2="289.8" stroke="#a8123e" stroke-width="1"/>
<rect x="402.3" y="288.7" width="2.2" height="0.8" fill="#a8123e"/>
<line x1="405.7" x2="405.7" y1="285.3" y2="287.7" stroke="#000000" stroke-width="1"/>
<rect x="404.8" y="286.5" width="1.8" height="1.2" fill="#fff" stroke="#000000" stroke-width="1"/>
<line x1="408.1" x2="408.1" y1="277.7" y2="285.6" stroke="#000000" stroke-width="1"/>
<rect x="407.2" y="281.9" width="1.8" height="3.0" fill="#fff" stroke="#000000" stroke-width="1"/>
<line x1="410.5" x2="410.5" y1="281.5" y2="292.3" stroke="#a8123e" stroke-width="1"/>
<rect x="409.4" y="282.5" width="2.2" height="6.7" fill="#a8123e"/>
<line x1="412.8" x2="412.8" y1="281.3" y2="288.1" stroke="#000000" stroke-width="1"/>
<rect x="411.9" y="281.8" width="1.8" height="5.4" fill="#fff" stroke="#000000" stroke-width="1"/>
<line x1="415.2" x2="415.2" y1="280.0" y2="287.3" stroke="#a8123e" stroke-width="1"/>
<rect x="414.1" y="281.2" width="2.2" height="5.7" fill="#a8123e"/>
<line x1="417.6" x2="417.6" y1="279.3" y2="288.5" stroke="#000000" stroke-width="1"/>
<rect x="416.7" y="280.8" width="1.8" height="4.9" fill="#fff" stroke="#000000" stroke-width="1"/>
<line x1="419.9" x2="419.9" y1="277.3" y2="280.8" stroke="#000000" stroke-width="1"/>
<rect x="419.0" y="279.2" width="1.8" height="0.8" fill="#fff" stroke="#000000" stroke-width="1"/>
<line x1="422.3" x2="422.3" y1="273.5" y2="276.5" stroke="#000000" stroke-width="1"/>
<rect x="421.4" y="274.8" width="1.8" height="1.7" fill="#fff" stroke="#000000" stroke-width="1"/>
<line x1="424.7" x2="424.7" y1="264.1" y2="273.7" stroke="#000000" stroke-width="1"/>
<rect x="423.8" y="266.6" width="1.8" height="6.8" fill="#fff" stroke="#000000" stroke-width="1"/>
<line x1="427.0" x2="427.0" y1="265.4" y2="270.1" stroke="#a8123e" stroke-width="1"/>
<rect x="425.9" y="265.6" width="2.2" height="1.3" fill="#a8123e"/>
<line x1="429.4" x2="429.4" y1="266.9" y2="271.4" stroke="#a8123e" stroke-width="1"/>
<rect x="428.3" y="267.2" width="2.2" height="2.3" fill="#a8123e"/>
<line x1="431.8" x2="431.8" y1="266.8" y2="272.6" stroke="#a8123e" stroke-width="1"/>
<rect x="430.7" y="268.6" width="2.2" height="2.4" fill="#a8123e"/>
<line x1="434.1" x2="434.1" y1="270.9" y2="272.4" stroke="#a8123e" stroke-width="1"/>
<rect x="433.0" y="271.5" width="2.2" height="0.8" fill="#a8123e"/>
<line x1="436.5" x2="436.5" y1="274.2" y2="281.4" stroke="#a8123e" stroke-width="1"/>
<rect x="435.4" y="276.0" width="2.2" height="1.6" fill="#a8123e"/>
<line x1="438.9" x2="438.9" y1="275.8" y2="279.6" stroke="#000000" stroke-width="1"/>
<rect x="438.0" y="276.5" width="1.8" height="1.6" fill="#fff" stroke="#000000" stroke-width="1"/>
<line x1="441.2" x2="441.2" y1="276.8" y2="280.9" stroke="#a8123e" stroke-width="1"/>
<rect x="440.3" y="277.4" width="1.8" height="0.8" fill="#fff" stroke="#a8123e" stroke-width="1"/>
<line x1="443.6" x2="443.6" y1="276.2" y2="279.2" stroke="#000000" stroke-width="1"/>
<rect x="442.7" y="276.8" width="1.8" height="1.4" fill="#fff" stroke="#000000" stroke-width="1"/>
<line x1="446.0" x2="446.0" y1="272.3" y2="275.8" stroke="#000000" stroke-width="1"/>
<rect x="444.9" y="275.1" width="2.2" height="0.8" fill="#000000"/>
<line x1="448.3" x2="448.3" y1="278.6" y2="283.8" stroke="#a8123e" stroke-width="1"/>
<rect x="447.2" y="279.0" width="2.2" height="2.0" fill="#a8123e"/>
<line x1="450.7" x2="450.7" y1="277.6" y2="281.8" stroke="#000000" stroke-width="1"/>
<rect x="449.6" y="278.8" width="2.2" height="0.8" fill="#000000"/>
<line x1="453.1" x2="453.1" y1="281.4" y2="293.6" stroke="#a8123e" stroke-width="1"/>
<rect x="452.0" y="281.6" width="2.2" height="9.7" fill="#a8123e"/>
<line x1="455.4" x2="455.4" y1="284.2" y2="291.7" stroke="#000000" stroke-width="1"/>
<rect x="454.5" y="286.0" width="1.8" height="4.8" fill="#fff" stroke="#000000" stroke-width="1"/>
<line x1="457.8" x2="457.8" y1="287.9" y2="296.7" stroke="#a8123e" stroke-width="1"/>
<rect x="456.7" y="290.4" width="2.2" height="3.6" fill="#a8123e"/>
<line x1="460.2" x2="460.2" y1="289.4" y2="295.2" stroke="#000000" stroke-width="1"/>
<rect x="459.3" y="292.7" width="1.8" height="1.0" fill="#fff" stroke="#000000" stroke-width="1"/>
<line x1="462.5" x2="462.5" y1="283.1" y2="291.1" stroke="#000000" stroke-width="1"/>
<rect x="461.6" y="286.7" width="1.8" height="3.8" fill="#fff" stroke="#000000" stroke-width="1"/>
<line x1="464.9" x2="464.9" y1="272.7" y2="281.3" stroke="#000000" stroke-width="1"/>
<rect x="464.0" y="274.5" width="1.8" height="6.5" fill="#fff" stroke="#000000" stroke-width="1"/>
<line x1="467.2" x2="467.2" y1="265.3" y2="278.3" stroke="#000000" stroke-width="1"/>
<rect x="466.3" y="266.2" width="1.8" height="9.5" fill="#fff" stroke="#000000" stroke-width="1"/>
<line x1="469.6" x2="469.6" y1="262.9" y2="269.5" stroke="#000000" stroke-width="1"/>
<rect x="468.5" y="265.9" width="2.2" height="0.8" fill="#000000"/>
<line x1="472.0" x2="472.0" y1="260.3" y2="275.2" stroke="#a8123e" stroke-width="1"/>
<rect x="470.9" y="268.7" width="2.2" height="2.3" fill="#a8123e"/>
<line x1="474.3" x2="474.3" y1="271.7" y2="277.7" stroke="#a8123e" stroke-width="1"/>
<rect x="473.2" y="271.8" width="2.2" height="3.7" fill="#a8123e"/>
<line x1="476.7" x2="476.7" y1="268.0" y2="272.0" stroke="#000000" stroke-width="1"/>
<rect x="475.8" y="269.0" width="1.8" height="1.7" fill="#fff" stroke="#000000" stroke-width="1"/>
<line x1="479.1" x2="479.1" y1="266.8" y2="271.4" stroke="#a8123e" stroke-width="1"/>
<rect x="478.0" y="269.6" width="2.2" height="1.6" fill="#a8123e"/>
<line x1="481.4" x2="481.4" y1="264.8" y2="270.3" stroke="#000000" stroke-width="1"/>
<rect x="480.5" y="267.9" width="1.8" height="1.1" fill="#fff" stroke="#000000" stroke-width="1"/>
<line x1="483.8" x2="483.8" y1="261.7" y2="266.0" stroke="#000000" stroke-width="1"/>
<rect x="482.9" y="265.3" width="1.8" height="0.8" fill="#fff" stroke="#000000" stroke-width="1"/>
<line x1="486.2" x2="486.2" y1="263.2" y2="266.5" stroke="#a8123e" stroke-width="1"/>
<rect x="485.1" y="265.0" width="2.2" height="0.9" fill="#a8123e"/>
<line x1="488.5" x2="488.5" y1="266.5" y2="272.9" stroke="#a8123e" stroke-width="1"/>
<rect x="487.4" y="267.4" width="2.2" height="1.2" fill="#a8123e"/>
<line x1="490.9" x2="490.9" y1="264.1" y2="271.8" stroke="#000000" stroke-width="1"/>
<rect x="490.0" y="265.8" width="1.8" height="3.0" fill="#fff" stroke="#000000" stroke-width="1"/>
<line x1="493.3" x2="493.3" y1="262.3" y2="268.9" stroke="#a8123e" stroke-width="1"/>
<rect x="492.2" y="264.9" width="2.2" height="2.3" fill="#a8123e"/>
<line x1="495.6" x2="495.6" y1="265.1" y2="266.9" stroke="#000000" stroke-width="1"/>
<rect x="494.7" y="266.5" width="1.8" height="0.8" fill="#fff" stroke="#000000" stroke-width="1"/>
<line x1="498.0" x2="498.0" y1="260.1" y2="267.5" stroke="#000000" stroke-width="1"/>
<rect x="497.1" y="262.2" width="1.8" height="4.5" fill="#fff" stroke="#000000" stroke-width="1"/>
<line x1="500.4" x2="500.4" y1="259.0" y2="265.6" stroke="#000000" stroke-width="1"/>
<rect x="499.5" y="260.7" width="1.8" height="2.6" fill="#fff" stroke="#000000" stroke-width="1"/>
<line x1="502.7" x2="502.7" y1="257.6" y2="260.4" stroke="#000000" stroke-width="1"/>
<rect x="501.8" y="257.7" width="1.8" height="2.2" fill="#fff" stroke="#000000" stroke-width="1"/>
<line x1="505.1" x2="505.1" y1="255.4" y2="262.0" stroke="#a8123e" stroke-width="1"/>
<rect x="504.2" y="257.9" width="1.8" height="0.8" fill="#fff" stroke="#a8123e" stroke-width="1"/>
<line x1="507.5" x2="507.5" y1="251.8" y2="257.8" stroke="#000000" stroke-width="1"/>
<rect x="506.6" y="253.8" width="1.8" height="3.4" fill="#fff" stroke="#000000" stroke-width="1"/>
<line x1="509.8" x2="509.8" y1="250.4" y2="254.3" stroke="#a8123e" stroke-width="1"/>
<rect x="508.7" y="252.9" width="2.2" height="1.0" fill="#a8123e"/>
<line x1="512.2" x2="512.2" y1="252.5" y2="254.5" stroke="#000000" stroke-width="1"/>
<rect x="511.1" y="252.6" width="2.2" height="0.8" fill="#000000"/>
<line x1="514.6" x2="514.6" y1="249.2" y2="252.8" stroke="#000000" stroke-width="1"/>
<rect x="513.7" y="250.9" width="1.8" height="1.4" fill="#fff" stroke="#000000" stroke-width="1"/>
<line x1="516.9" x2="516.9" y1="249.1" y2="256.9" stroke="#000000" stroke-width="1"/>
<rect x="516.0" y="249.5" width="1.8" height="0.9" fill="#fff" stroke="#000000" stroke-width="1"/>
<line x1="519.3" x2="519.3" y1="244.7" y2="250.7" stroke="#000000" stroke-width="1"/>
<rect x="518.4" y="247.8" width="1.8" height="1.5" fill="#fff" stroke="#000000" stroke-width="1"/>
<line x1="521.7" x2="521.7" y1="247.8" y2="255.4" stroke="#a8123e" stroke-width="1"/>
<rect x="520.6" y="248.4" width="2.2" height="5.8" fill="#a8123e"/>
<line x1="524.0" x2="524.0" y1="251.9" y2="257.3" stroke="#000000" stroke-width="1"/>
<rect x="523.1" y="252.4" width="1.8" height="2.5" fill="#fff" stroke="#000000" stroke-width="1"/>
<line x1="526.4" x2="526.4" y1="250.4" y2="256.2" stroke="#a8123e" stroke-width="1"/>
<rect x="525.3" y="252.8" width="2.2" height="0.8" fill="#a8123e"/>
<line x1="528.8" x2="528.8" y1="248.7" y2="256.5" stroke="#000000" stroke-width="1"/>
<rect x="527.9" y="251.5" width="1.8" height="1.4" fill="#fff" stroke="#000000" stroke-width="1"/>
<line x1="531.1" x2="531.1" y1="244.6" y2="252.7" stroke="#000000" stroke-width="1"/>
<rect x="530.2" y="247.5" width="1.8" height="3.7" fill="#fff" stroke="#000000" stroke-width="1"/>
<line x1="533.5" x2="533.5" y1="244.9" y2="248.5" stroke="#000000" stroke-width="1"/>
<rect x="532.6" y="245.9" width="1.8" height="2.2" fill="#fff" stroke="#000000" stroke-width="1"/>
<line x1="535.9" x2="535.9" y1="239.8" y2="245.7" stroke="#000000" stroke-width="1"/>
<rect x="535.0" y="243.2" width="1.8" height="2.0" fill="#fff" stroke="#000000" stroke-width="1"/>
<line x1="538.2" x2="538.2" y1="241.8" y2="244.4" stroke="#a8123e" stroke-width="1"/>
<rect x="537.3" y="243.4" width="1.8" height="0.8" fill="#fff" stroke="#a8123e" stroke-width="1"/>
<line x1="540.6" x2="540.6" y1="242.1" y2="244.7" stroke="#a8123e" stroke-width="1"/>
<rect x="539.7" y="243.8" width="1.8" height="0.8" fill="#fff" stroke="#a8123e" stroke-width="1"/>
<line x1="543.0" x2="543.0" y1="239.2" y2="247.1" stroke="#000000" stroke-width="1"/>
<rect x="542.1" y="242.1" width="1.8" height="1.0" fill="#fff" stroke="#000000" stroke-width="1"/>
<line x1="545.3" x2="545.3" y1="240.2" y2="244.9" stroke="#a8123e" stroke-width="1"/>
<rect x="544.2" y="242.7" width="2.2" height="0.8" fill="#a8123e"/>
<line x1="547.7" x2="547.7" y1="241.7" y2="245.5" stroke="#000000" stroke-width="1"/>
<rect x="546.8" y="242.2" width="1.8" height="0.8" fill="#fff" stroke="#000000" stroke-width="1"/>
<line x1="550.1" x2="550.1" y1="236.6" y2="244.7" stroke="#000000" stroke-width="1"/>
<rect x="549.2" y="239.8" width="1.8" height="2.7" fill="#fff" stroke="#000000" stroke-width="1"/>
<line x1="552.4" x2="552.4" y1="237.3" y2="242.3" stroke="#a8123e" stroke-width="1"/>
<rect x="551.3" y="240.1" width="2.2" height="0.9" fill="#a8123e"/>
<line x1="554.8" x2="554.8" y1="239.9" y2="241.8" stroke="#000000" stroke-width="1"/>
<rect x="553.9" y="240.5" width="1.8" height="0.9" fill="#fff" stroke="#000000" stroke-width="1"/>
<line x1="557.2" x2="557.2" y1="237.9" y2="240.1" stroke="#000000" stroke-width="1"/>
<rect x="556.1" y="239.4" width="2.2" height="0.8" fill="#000000"/>
<line x1="559.5" x2="559.5" y1="242.1" y2="247.6" stroke="#a8123e" stroke-width="1"/>
<rect x="558.4" y="242.4" width="2.2" height="2.4" fill="#a8123e"/>
<line x1="561.9" x2="561.9" y1="241.0" y2="247.6" stroke="#000000" stroke-width="1"/>
<rect x="561.0" y="241.8" width="1.8" height="3.0" fill="#fff" stroke="#000000" stroke-width="1"/>
<line x1="564.3" x2="564.3" y1="241.7" y2="244.2" stroke="#a8123e" stroke-width="1"/>
<rect x="563.2" y="242.7" width="2.2" height="1.1" fill="#a8123e"/>
<line x1="566.6" x2="566.6" y1="234.7" y2="238.6" stroke="#000000" stroke-width="1"/>
<rect x="565.7" y="235.6" width="1.8" height="2.7" fill="#fff" stroke="#000000" stroke-width="1"/>
<line x1="569.0" x2="569.0" y1="230.6" y2="236.5" stroke="#000000" stroke-width="1"/>
<rect x="568.1" y="232.3" width="1.8" height="2.4" fill="#fff" stroke="#000000" stroke-width="1"/>
<line x1="571.4" x2="571.4" y1="231.7" y2="239.2" stroke="#a8123e" stroke-width="1"/>
<rect x="570.3" y="233.6" width="2.2" height="2.8" fill="#a8123e"/>
<line x1="573.7" x2="573.7" y1="233.3" y2="237.5" stroke="#000000" stroke-width="1"/>
<rect x="572.8" y="235.5" width="1.8" height="0.8" fill="#fff" stroke="#000000" stroke-width="1"/>
<line x1="576.1" x2="576.1" y1="233.5" y2="237.9" stroke="#000000" stroke-width="1"/>
<rect x="575.2" y="234.1" width="1.8" height="2.2" fill="#fff" stroke="#000000" stroke-width="1"/>
<line x1="578.5" x2="578.5" y1="233.1" y2="235.5" stroke="#a8123e" stroke-width="1"/>
<rect x="577.6" y="234.5" width="1.8" height="0.8" fill="#fff" stroke="#a8123e" stroke-width="1"/>
<line x1="580.8" x2="580.8" y1="235.2" y2="239.5" stroke="#a8123e" stroke-width="1"/>
<rect x="579.7" y="235.2" width="2.2" height="2.1" fill="#a8123e"/>
<line x1="583.2" x2="583.2" y1="231.4" y2="240.1" stroke="#000000" stroke-width="1"/>
<rect x="582.3" y="232.4" width="1.8" height="4.9" fill="#fff" stroke="#000000" stroke-width="1"/>
<line x1="585.6" x2="585.6" y1="226.0" y2="228.2" stroke="#000000" stroke-width="1"/>
<rect x="584.7" y="226.1" width="1.8" height="1.3" fill="#fff" stroke="#000000" stroke-width="1"/>
<line x1="587.9" x2="587.9" y1="224.1" y2="229.9" stroke="#000000" stroke-width="1"/>
<rect x="587.0" y="224.3" width="1.8" height="2.3" fill="#fff" stroke="#000000" stroke-width="1"/>
<line x1="590.3" x2="590.3" y1="222.1" y2="225.6" stroke="#000000" stroke-width="1"/>
<rect x="589.4" y="224.0" width="1.8" height="0.8" fill="#fff" stroke="#000000" stroke-width="1"/>
<line x1="592.7" x2="592.7" y1="219.6" y2="226.2" stroke="#000000" stroke-width="1"/>
<rect x="591.8" y="221.8" width="1.8" height="0.8" fill="#fff" stroke="#000000" stroke-width="1"/>
<line x1="595.0" x2="595.0" y1="221.8" y2="224.9" stroke="#a8123e" stroke-width="1"/>
<rect x="593.9" y="221.8" width="2.2" height="0.8" fill="#a8123e"/>
<line x1="597.4" x2="597.4" y1="218.4" y2="231.6" stroke="#a8123e" stroke-width="1"/>
<rect x="596.3" y="221.7" width="2.2" height="8.9" fill="#a8123e"/>
<line x1="599.8" x2="599.8" y1="226.5" y2="234.2" stroke="#000000" stroke-width="1"/>
<rect x="598.9" y="229.0" width="1.8" height="0.8" fill="#fff" stroke="#000000" stroke-width="1"/>
<line x1="602.1" x2="602.1" y1="230.0" y2="237.4" stroke="#a8123e" stroke-width="1"/>
<rect x="601.0" y="232.3" width="2.2" height="3.2" fill="#a8123e"/>
<line x1="604.5" x2="604.5" y1="226.6" y2="236.8" stroke="#000000" stroke-width="1"/>
<rect x="603.6" y="227.4" width="1.8" height="4.7" fill="#fff" stroke="#000000" stroke-width="1"/>
<line x1="606.9" x2="606.9" y1="217.9" y2="231.0" stroke="#000000" stroke-width="1"/>
<rect x="606.0" y="222.4" width="1.8" height="4.2" fill="#fff" stroke="#000000" stroke-width="1"/>
<line x1="609.2" x2="609.2" y1="220.4" y2="223.0" stroke="#a8123e" stroke-width="1"/>
<rect x="608.1" y="221.4" width="2.2" height="1.0" fill="#a8123e"/>
<line x1="611.6" x2="611.6" y1="212.8" y2="223.3" stroke="#000000" stroke-width="1"/>
<rect x="610.7" y="218.5" width="1.8" height="3.1" fill="#fff" stroke="#000000" stroke-width="1"/>
<line x1="614.0" x2="614.0" y1="213.1" y2="220.6" stroke="#000000" stroke-width="1"/>
<rect x="613.1" y="216.6" width="1.8" height="0.8" fill="#fff" stroke="#000000" stroke-width="1"/>
<line x1="616.3" x2="616.3" y1="212.3" y2="218.7" stroke="#000000" stroke-width="1"/>
<rect x="615.4" y="213.6" width="1.8" height="1.7" fill="#fff" stroke="#000000" stroke-width="1"/>
<line x1="618.7" x2="618.7" y1="212.6" y2="215.0" stroke="#000000" stroke-width="1"/>
<rect x="617.8" y="213.1" width="1.8" height="0.9" fill="#fff" stroke="#000000" stroke-width="1"/>
<line x1="621.1" x2="621.1" y1="208.5" y2="214.7" stroke="#a8123e" stroke-width="1"/>
<rect x="620.0" y="213.8" width="2.2" height="0.8" fill="#a8123e"/>
<line x1="623.4" x2="623.4" y1="212.5" y2="215.2" stroke="#000000" stroke-width="1"/>
<rect x="622.5" y="212.7" width="1.8" height="1.2" fill="#fff" stroke="#000000" stroke-width="1"/>
<line x1="625.8" x2="625.8" y1="209.8" y2="213.0" stroke="#000000" stroke-width="1"/>
<rect x="624.9" y="211.1" width="1.8" height="1.1" fill="#fff" stroke="#000000" stroke-width="1"/>
<line x1="628.2" x2="628.2" y1="209.2" y2="214.7" stroke="#a8123e" stroke-width="1"/>
<rect x="627.1" y="211.2" width="2.2" height="1.0" fill="#a8123e"/>
<line x1="630.5" x2="630.5" y1="213.4" y2="215.1" stroke="#a8123e" stroke-width="1"/>
<rect x="629.4" y="213.6" width="2.2" height="0.8" fill="#a8123e"/>
<line x1="632.9" x2="632.9" y1="214.4" y2="217.2" stroke="#a8123e" stroke-width="1"/>
<rect x="631.8" y="215.3" width="2.2" height="1.1" fill="#a8123e"/>
<line x1="635.3" x2="635.3" y1="212.8" y2="217.7" stroke="#000000" stroke-width="1"/>
<rect x="634.4" y="216.2" width="1.8" height="0.9" fill="#fff" stroke="#000000" stroke-width="1"/>
<line x1="637.6" x2="637.6" y1="217.9" y2="225.0" stroke="#a8123e" stroke-width="1"/>
<rect x="636.5" y="218.6" width="2.2" height="5.7" fill="#a8123e"/>
<line x1="640.0" x2="640.0" y1="220.1" y2="237.2" stroke="#a8123e" stroke-width="1"/>
<rect x="638.9" y="224.5" width="2.2" height="1.4" fill="#a8123e"/>
<line x1="642.4" x2="642.4" y1="222.3" y2="225.4" stroke="#000000" stroke-width="1"/>
<rect x="641.5" y="222.7" width="1.8" height="0.8" fill="#fff" stroke="#000000" stroke-width="1"/>
<line x1="644.7" x2="644.7" y1="222.6" y2="235.6" stroke="#a8123e" stroke-width="1"/>
<rect x="643.6" y="224.7" width="2.2" height="9.6" fill="#a8123e"/>
</g>
<clipPath id="c70"><rect x="47" y="91" width="604" height="33.5"/></clipPath><clipPath id="c30"><rect x="47" y="158.5" width="604" height="31"/></clipPath>
<polygon points="48.4,155.5 50.8,163.1 53.1,163.1 55.5,148.7 57.9,153.8 60.2,144.9 62.6,149.9 65.0,152.4 67.3,159.7 69.7,151.5 72.1,155.6 74.4,161.5 76.8,151.1 79.2,157.8 81.5,152.6 83.9,154.8 86.3,152.9 88.6,154.7 91.0,154.8 93.4,148.0 95.7,148.3 98.1,143.6 100.5,146.3 102.8,143.4 105.2,144.1 107.6,147.4 109.9,145.8 112.3,147.0 114.7,140.6 117.0,140.9 119.4,138.7 121.8,138.0 124.1,137.5 126.5,133.9 128.9,135.8 131.2,134.2 133.6,132.8 136.0,134.4 138.3,139.2 140.7,136.2 143.1,136.2 145.4,134.4 147.8,133.1 150.2,135.5 152.5,131.4 154.9,131.9 157.3,137.5 159.6,135.9 162.0,134.5 164.4,133.8 166.7,132.0 169.1,129.9 171.5,129.0 173.8,133.6 176.2,136.8 178.6,135.4 180.9,134.1 183.3,130.6 185.7,131.9 188.0,128.9 190.4,131.4 192.8,130.7 195.1,130.4 197.5,129.1 199.8,130.6 202.2,128.3 204.6,127.2 206.9,126.2 209.3,124.9 211.7,127.6 214.0,124.0 216.4,122.3 218.8,121.8 221.1,120.8 223.5,138.6 225.9,136.5 228.2,133.8 230.6,130.7 233.0,130.4 235.3,129.8 237.7,129.7 240.1,127.6 242.4,126.2 244.8,134.1 247.2,131.8 249.5,139.4 251.9,136.8 254.3,133.0 256.6,131.2 259.0,130.2 261.4,126.4 263.7,129.3 266.1,126.8 268.5,125.9 270.8,124.8 273.2,132.3 275.6,130.5 277.9,129.4 280.3,131.9 282.7,131.3 285.0,126.4 287.4,129.4 289.8,128.9 292.1,136.7 294.5,139.5 296.9,135.5 299.2,139.2 301.6,136.0 304.0,135.0 306.3,131.8 308.7,128.9 311.1,128.2 313.4,127.2 315.8,125.3 318.2,128.9 320.5,130.4 322.9,136.6 325.3,131.7 327.6,131.1 330.0,131.9 332.4,129.5 334.7,127.9 337.1,130.4 339.5,127.9 341.8,126.9 344.2,125.6 346.6,123.9 348.9,120.6 351.3,122.4 353.7,121.3 356.0,120.0 358.4,117.6 360.8,116.2 363.1,137.0 365.5,140.5 367.9,149.4 370.2,143.3 372.6,146.9 375.0,148.0 377.3,143.8 379.7,141.3 382.1,143.9 384.4,146.3 386.8,148.2 389.2,148.5 391.5,144.2 393.9,149.9 396.3,149.0 398.6,143.7 401.0,139.8 403.4,140.5 405.7,138.9 408.1,135.9 410.5,141.3 412.8,136.7 415.2,140.3 417.6,136.7 419.9,135.8 422.3,133.2 424.7,129.0 427.0,129.3 429.4,131.7 431.8,133.1 434.1,134.2 436.5,138.9 438.9,138.1 441.2,138.9 443.6,138.4 446.0,137.4 448.3,142.6 450.7,140.7 453.1,150.1 455.4,145.5 457.8,150.4 460.2,149.3 462.5,144.4 464.9,136.2 467.2,131.8 469.6,131.8 472.0,135.8 474.3,139.1 476.7,135.2 479.1,136.9 481.4,134.9 483.8,133.4 486.2,134.0 488.5,136.4 490.9,134.4 493.3,135.7 495.6,135.2 498.0,132.1 500.4,131.0 502.7,129.0 505.1,129.2 507.5,126.4 509.8,126.6 512.2,126.1 514.6,124.5 516.9,123.5 519.3,122.4 521.7,132.4 524.0,130.9 526.4,131.9 528.8,130.4 531.1,127.0 533.5,125.8 535.9,123.7 538.2,124.2 540.6,124.8 543.0,123.4 545.3,125.4 547.7,124.6 550.1,122.4 552.4,125.2 554.8,124.7 557.2,124.2 559.5,134.6 561.9,130.9 564.3,134.5 566.6,126.2 569.0,123.7 571.4,130.4 573.7,129.6 576.1,128.4 578.5,129.1 580.8,133.9 583.2,129.0 585.6,124.1 587.9,123.0 590.3,122.8 592.7,121.3 595.0,121.7 597.4,135.5 599.8,134.0 602.1,141.8 604.5,134.4 606.9,130.7 609.2,130.8 611.6,128.0 614.0,126.8 616.3,124.9 618.7,124.6 621.1,125.8 623.4,124.9 625.8,123.8 628.2,125.7 630.5,129.0 632.9,132.8 635.3,132.6 637.6,143.6 640.0,145.3 642.4,141.5 644.7,151.9 650,124.5 48,124.5" fill="#86a886" clip-path="url(#c70)"/>
<polygon points="48.4,155.5 50.8,163.1 53.1,163.1 55.5,148.7 57.9,153.8 60.2,144.9 62.6,149.9 65.0,152.4 67.3,159.7 69.7,151.5 72.1,155.6 74.4,161.5 76.8,151.1 79.2,157.8 81.5,152.6 83.9,154.8 86.3,152.9 88.6,154.7 91.0,154.8 93.4,148.0 95.7,148.3 98.1,143.6 100.5,146.3 102.8,143.4 105.2,144.1 107.6,147.4 109.9,145.8 112.3,147.0 114.7,140.6 117.0,140.9 119.4,138.7 121.8,138.0 124.1,137.5 126.5,133.9 128.9,135.8 131.2,134.2 133.6,132.8 136.0,134.4 138.3,139.2 140.7,136.2 143.1,136.2 145.4,134.4 147.8,133.1 150.2,135.5 152.5,131.4 154.9,131.9 157.3,137.5 159.6,135.9 162.0,134.5 164.4,133.8 166.7,132.0 169.1,129.9 171.5,129.0 173.8,133.6 176.2,136.8 178.6,135.4 180.9,134.1 183.3,130.6 185.7,131.9 188.0,128.9 190.4,131.4 192.8,130.7 195.1,130.4 197.5,129.1 199.8,130.6 202.2,128.3 204.6,127.2 206.9,126.2 209.3,124.9 211.7,127.6 214.0,124.0 216.4,122.3 218.8,121.8 221.1,120.8 223.5,138.6 225.9,136.5 228.2,133.8 230.6,130.7 233.0,130.4 235.3,129.8 237.7,129.7 240.1,127.6 242.4,126.2 244.8,134.1 247.2,131.8 249.5,139.4 251.9,136.8 254.3,133.0 256.6,131.2 259.0,130.2 261.4,126.4 263.7,129.3 266.1,126.8 268.5,125.9 270.8,124.8 273.2,132.3 275.6,130.5 277.9,129.4 280.3,131.9 282.7,131.3 285.0,126.4 287.4,129.4 289.8,128.9 292.1,136.7 294.5,139.5 296.9,135.5 299.2,139.2 301.6,136.0 304.0,135.0 306.3,131.8 308.7,128.9 311.1,128.2 313.4,127.2 315.8,125.3 318.2,128.9 320.5,130.4 322.9,136.6 325.3,131.7 327.6,131.1 330.0,131.9 332.4,129.5 334.7,127.9 337.1,130.4 339.5,127.9 341.8,126.9 344.2,125.6 346.6,123.9 348.9,120.6 351.3,122.4 353.7,121.3 356.0,120.0 358.4,117.6 360.8,116.2 363.1,137.0 365.5,140.5 367.9,149.4 370.2,143.3 372.6,146.9 375.0,148.0 377.3,143.8 379.7,141.3 382.1,143.9 384.4,146.3 386.8,148.2 389.2,148.5 391.5,144.2 393.9,149.9 396.3,149.0 398.6,143.7 401.0,139.8 403.4,140.5 405.7,138.9 408.1,135.9 410.5,141.3 412.8,136.7 415.2,140.3 417.6,136.7 419.9,135.8 422.3,133.2 424.7,129.0 427.0,129.3 429.4,131.7 431.8,133.1 434.1,134.2 436.5,138.9 438.9,138.1 441.2,138.9 443.6,138.4 446.0,137.4 448.3,142.6 450.7,140.7 453.1,150.1 455.4,145.5 457.8,150.4 460.2,149.3 462.5,144.4 464.9,136.2 467.2,131.8 469.6,131.8 472.0,135.8 474.3,139.1 476.7,135.2 479.1,136.9 481.4,134.9 483.8,133.4 486.2,134.0 488.5,136.4 490.9,134.4 493.3,135.7 495.6,135.2 498.0,132.1 500.4,131.0 502.7,129.0 505.1,129.2 507.5,126.4 509.8,126.6 512.2,126.1 514.6,124.5 516.9,123.5 519.3,122.4 521.7,132.4 524.0,130.9 526.4,131.9 528.8,130.4 531.1,127.0 533.5,125.8 535.9,123.7 538.2,124.2 540.6,124.8 543.0,123.4 545.3,125.4 547.7,124.6 550.1,122.4 552.4,125.2 554.8,124.7 557.2,124.2 559.5,134.6 561.9,130.9 564.3,134.5 566.6,126.2 569.0,123.7 571.4,130.4 573.7,129.6 576.1,128.4 578.5,129.1 580.8,133.9 583.2,129.0 585.6,124.1 587.9,123.0 590.3,122.8 592.7,121.3 595.0,121.7 597.4,135.5 599.8,134.0 602.1,141.8 604.5,134.4 606.9,130.7 609.2,130.8 611.6,128.0 614.0,126.8 616.3,124.9 618.7,124.6 621.1,125.8 623.4,124.9 625.8,123.8 628.2,125.7 630.5,129.0 632.9,132.8 635.3,132.6 637.6,143.6 640.0,145.3 642.4,141.5 644.7,151.9 650,158.5 48,158.5" fill="#9aaa9a" clip-path="url(#c30)"/>
<polyline points="48.4,155.5 50.8,163.1 53.1,163.1 55.5,148.7 57.9,153.8 60.2,144.9 62.6,149.9 65.0,152.4 67.3,159.7 69.7,151.5 72.1,155.6 74.4,161.5 76.8,151.1 79.2,157.8 81.5,152.6 83.9,154.8 86.3,152.9 88.6,154.7 91.0,154.8 93.4,148.0 95.7,148.3 98.1,143.6 100.5,146.3 102.8,143.4 105.2,144.1 107.6,147.4 109.9,145.8 112.3,147.0 114.7,140.6 117.0,140.9 119.4,138.7 121.8,138.0 124.1,137.5 126.5,133.9 128.9,135.8 131.2,134.2 133.6,132.8 136.0,134.4 138.3,139.2 140.7,136.2 143.1,136.2 145.4,134.4 147.8,133.1 150.2,135.5 152.5,131.4 154.9,131.9 157.3,137.5 159.6,135.9 162.0,134.5 164.4,133.8 166.7,132.0 169.1,129.9 171.5,129.0 173.8,133.6 176.2,136.8 178.6,135.4 180.9,134.1 183.3,130.6 185.7,131.9 188.0,128.9 190.4,131.4 192.8,130.7 195.1,130.4 197.5,129.1 199.8,130.6 202.2,128.3 204.6,127.2 206.9,126.2 209.3,124.9 211.7,127.6 214.0,124.0 216.4,122.3 218.8,121.8 221.1,120.8 223.5,138.6 225.9,136.5 228.2,133.8 230.6,130.7 233.0,130.4 235.3,129.8 237.7,129.7 240.1,127.6 242.4,126.2 244.8,134.1 247.2,131.8 249.5,139.4 251.9,136.8 254.3,133.0 256.6,131.2 259.0,130.2 261.4,126.4 263.7,129.3 266.1,126.8 268.5,125.9 270.8,124.8 273.2,132.3 275.6,130.5 277.9,129.4 280.3,131.9 282.7,131.3 285.0,126.4 287.4,129.4 289.8,128.9 292.1,136.7 294.5,139.5 296.9,135.5 299.2,139.2 301.6,136.0 304.0,135.0 306.3,131.8 308.7,128.9 311.1,128.2 313.4,127.2 315.8,125.3 318.2,128.9 320.5,130.4 322.9,136.6 325.3,131.7 327.6,131.1 330.0,131.9 332.4,129.5 334.7,127.9 337.1,130.4 339.5,127.9 341.8,126.9 344.2,125.6 346.6,123.9 348.9,120.6 351.3,122.4 353.7,121.3 356.0,120.0 358.4,117.6 360.8,116.2 363.1,137.0 365.5,140.5 367.9,149.4 370.2,143.3 372.6,146.9 375.0,148.0 377.3,143.8 379.7,141.3 382.1,143.9 384.4,146.3 386.8,148.2 389.2,148.5 391.5,144.2 393.9,149.9 396.3,149.0 398.6,143.7 401.0,139.8 403.4,140.5 405.7,138.9 408.1,135.9 410.5,141.3 412.8,136.7 415.2,140.3 417.6,136.7 419.9,135.8 422.3,133.2 424.7,129.0 427.0,129.3 429.4,131.7 431.8,133.1 434.1,134.2 436.5,138.9 438.9,138.1 441.2,138.9 443.6,138.4 446.0,137.4 448.3,142.6 450.7,140.7 453.1,150.1 455.4,145.5 457.8,150.4 460.2,149.3 462.5,144.4 464.9,136.2 467.2,131.8 469.6,131.8 472.0,135.8 474.3,139.1 476.7,135.2 479.1,136.9 481.4,134.9 483.8,133.4 486.2,134.0 488.5,136.4 490.9,134.4 493.3,135.7 495.6,135.2 498.0,132.1 500.4,131.0 502.7,129.0 505.1,129.2 507.5,126.4 509.8,126.6 512.2,126.1 514.6,124.5 516.9,123.5 519.3,122.4 521.7,132.4 524.0,130.9 526.4,131.9 528.8,130.4 531.1,127.0 533.5,125.8 535.9,123.7 538.2,124.2 540.6,124.8 543.0,123.4 545.3,125.4 547.7,124.6 550.1,122.4 552.4,125.2 554.8,124.7 557.2,124.2 559.5,134.6 561.9,130.9 564.3,134.5 566.6,126.2 569.0,123.7 571.4,130.4 573.7,129.6 576.1,128.4 578.5,129.1 580.8,133.9 583.2,129.0 585.6,124.1 587.9,123.0 590.3,122.8 592.7,121.3 595.0,121.7 597.4,135.5 599.8,134.0 602.1,141.8 604.5,134.4 606.9,130.7 609.2,130.8 611.6,128.0 614.0,126.8 616.3,124.9 618.7,124.6 621.1,125.8 623.4,124.9 625.8,123.8 628.2,125.7 630.5,129.0 632.9,132.8 635.3,132.6 637.6,143.6 640.0,145.3 642.4,141.5 644.7,151.9" fill="none" stroke="#1a1a1a" stroke-width="1.3"/>
<g shape-rendering="crispEdges">
<rect x="47.2" y="526.4" width="2.4" height="7.6" fill="#3a8fc0" stroke="#1f5f85" stroke-width="0.4"/>
<rect x="49.6" y="526.4" width="2.4" height="10.8" fill="#3a8fc0" stroke="#1f5f85" stroke-width="0.4"/>
<rect x="51.9" y="526.4" width="2.4" height="12.2" fill="#3a8fc0" stroke="#1f5f85" stroke-width="0.4"/>
<rect x="54.3" y="526.4" width="2.4" height="10.4" fill="#3a8fc0" stroke="#1f5f85" stroke-width="0.4"/>
<rect x="56.7" y="526.4" width="2.4" height="10.2" fill="#3a8fc0" stroke="#1f5f85" stroke-width="0.4"/>
<rect x="59.0" y="526.4" width="2.4" height="7.6" fill="#3a8fc0" stroke="#1f5f85" stroke-width="0.4"/>
<rect x="61.4" y="526.4" width="2.4" height="7.2" fill="#3a8fc0" stroke="#1f5f85" stroke-width="0.4"/>
<rect x="63.8" y="526.4" width="2.4" height="7.4" fill="#3a8fc0" stroke="#1f5f85" stroke-width="0.4"/>
<rect x="66.1" y="526.4" width="2.4" height="10.7" fill="#3a8fc0" stroke="#1f5f85" stroke-width="0.4"/>
<rect x="68.5" y="526.4" width="2.4" height="9.8" fill="#3a8fc0" stroke="#1f5f85" stroke-width="0.4"/>
<rect x="70.9" y="526.4" width="2.4" height="10.9" fill="#3a8fc0" stroke="#1f5f85" stroke-width="0.4"/>
<rect x="73.2" y="526.4" width="2.4" height="15.1" fill="#3a8fc0" stroke="#1f5f85" stroke-width="0.4"/>
<rect x="75.6" y="526.4" width="2.4" height="13.0" fill="#3a8fc0" stroke="#1f5f85" stroke-width="0.4"/>
<rect x="78.0" y="526.4" width="2.4" height="16.3" fill="#3a8fc0" stroke="#1f5f85" stroke-width="0.4"/>
<rect x="80.3" y="526.4" width="2.4" height="14.8" fill="#3a8fc0" stroke="#1f5f85" stroke-width="0.4"/>
<rect x="82.7" y="526.4" width="2.4" height="14.8" fill="#3a8fc0" stroke="#1f5f85" stroke-width="0.4"/>
<rect x="85.1" y="526.4" width="2.4" height="12.8" fill="#3a8fc0" stroke="#1f5f85" stroke-width="0.4"/>
<rect x="87.4" y="526.4" width="2.4" height="12.1" fill="#3a8fc0" stroke="#1f5f85" stroke-width="0.4"/>
<rect x="89.8" y="526.4" width="2.4" height="10.8" fill="#3a8fc0" stroke="#1f5f85" stroke-width="0.4"/>
<rect x="92.2" y="526.4" width="2.4" height="5.8" fill="#3a8fc0" stroke="#1f5f85" stroke-width="0.4"/>
<rect x="94.5" y="526.4" width="2.4" height="2.2" fill="#3a8fc0" stroke="#1f5f85" stroke-width="0.4"/>
<rect x="96.9" y="523.4" width="2.4" height="3.0" fill="#3a8fc0" stroke="#1f5f85" stroke-width="0.4"/>
<rect x="99.3" y="521.6" width="2.4" height="4.8" fill="#3a8fc0" stroke="#1f5f85" stroke-width="0.4"/>
<rect x="101.6" y="518.8" width="2.4" height="7.6" fill="#3a8fc0" stroke="#1f5f85" stroke-width="0.4"/>
<rect x="104.0" y="517.5" width="2.4" height="8.9" fill="#3a8fc0" stroke="#1f5f85" stroke-width="0.4"/>
<rect x="106.4" y="518.7" width="2.4" height="7.7" fill="#3a8fc0" stroke="#1f5f85" stroke-width="0.4"/>
<rect x="108.7" y="518.9" width="2.4" height="7.5" fill="#3a8fc0" stroke="#1f5f85" stroke-width="0.4"/>
<rect x="111.1" y="519.7" width="2.4" height="6.7" fill="#3a8fc0" stroke="#1f5f85" stroke-width="0.4"/>
<rect x="113.5" y="517.1" width="2.4" height="9.3" fill="#3a8fc0" stroke="#1f5f85" stroke-width="0.4"/>
<rect x="115.8" y="515.9" width="2.4" height="10.5" fill="#3a8fc0" stroke="#1f5f85" stroke-width="0.4"/>
<rect x="118.2" y="514.3" width="2.4" height="12.1" fill="#3a8fc0" stroke="#1f5f85" stroke-width="0.4"/>
<rect x="120.6" y="513.3" width="2.4" height="13.1" fill="#3a8fc0" stroke="#1f5f85" stroke-width="0.4"/>
<rect x="122.9" y="513.0" width="2.4" height="13.4" fill="#3a8fc0" stroke="#1f5f85" stroke-width="0.4"/>
<rect x="125.3" y="511.4" width="2.4" height="15.0" fill="#3a8fc0" stroke="#1f5f85" stroke-width="0.4"/>
<rect x="127.7" y="511.8" width="2.4" height="14.6" fill="#3a8fc0" stroke="#1f5f85" stroke-width="0.4"/>
<rect x="130.0" y="511.9" width="2.4" height="14.5" fill="#3a8fc0" stroke="#1f5f85" stroke-width="0.4"/>
<rect x="132.4" y="512.0" width="2.4" height="14.4" fill="#3a8fc0" stroke="#1f5f85" stroke-width="0.4"/>
<rect x="134.8" y="513.3" width="2.4" height="13.1" fill="#3a8fc0" stroke="#1f5f85" stroke-width="0.4"/>
<rect x="137.1" y="516.5" width="2.4" height="9.9" fill="#3a8fc0" stroke="#1f5f85" stroke-width="0.4"/>
<rect x="139.5" y="517.7" width="2.4" height="8.7" fill="#3a8fc0" stroke="#1f5f85" stroke-width="0.4"/>
<rect x="141.9" y="519.0" width="2.4" height="7.4" fill="#3a8fc0" stroke="#1f5f85" stroke-width="0.4"/>
<rect x="144.2" y="519.4" width="2.4" height="7.0" fill="#3a8fc0" stroke="#1f5f85" stroke-width="0.4"/>
<rect x="146.6" y="519.6" width="2.4" height="6.8" fill="#3a8fc0" stroke="#1f5f85" stroke-width="0.4"/>
<rect x="149.0" y="520.8" width="2.4" height="5.6" fill="#3a8fc0" stroke="#1f5f85" stroke-width="0.4"/>
<rect x="151.3" y="520.2" width="2.4" height="6.2" fill="#3a8fc0" stroke="#1f5f85" stroke-width="0.4"/>
<rect x="153.7" y="520.5" width="2.4" height="5.9" fill="#3a8fc0" stroke="#1f5f85" stroke-width="0.4"/>
<rect x="156.1" y="522.7" width="2.4" height="3.7" fill="#3a8fc0" stroke="#1f5f85" stroke-width="0.4"/>
<rect x="158.4" y="523.8" width="2.4" height="2.6" fill="#3a8fc0" stroke="#1f5f85" stroke-width="0.4"/>
<rect x="160.8" y="524.2" width="2.4" height="2.2" fill="#3a8fc0" stroke="#1f5f85" stroke-width="0.4"/>
<rect x="163.2" y="524.4" width="2.4" height="2.0" fill="#3a8fc0" stroke="#1f5f85" stroke-width="0.4"/>
<rect x="165.5" y="524.1" width="2.4" height="2.3" fill="#3a8fc0" stroke="#1f5f85" stroke-width="0.4"/>
<rect x="167.9" y="523.4" width="2.4" height="3.0" fill="#3a8fc0" stroke="#1f5f85" stroke-width="0.4"/>
<rect x="170.3" y="522.9" width="2.4" height="3.5" fill="#3a8fc0" stroke="#1f5f85" stroke-width="0.4"/>
<rect x="172.6" y="524.0" width="2.4" height="2.4" fill="#3a8fc0" stroke="#1f5f85" stroke-width="0.4"/>
<rect x="175.0" y="525.8" width="2.4" height="0.6" fill="#3a8fc0" stroke="#1f5f85" stroke-width="0.4"/>
<rect x="177.4" y="526.4" width="2.4" height="0.2" fill="#3a8fc0" stroke="#1f5f85" stroke-width="0.4"/>
<rect x="179.7" y="526.4" width="2.4" height="0.6" fill="#3a8fc0" stroke="#1f5f85" stroke-width="0.4"/>
<rect x="182.1" y="526.0" width="2.4" height="0.4" fill="#3a8fc0" stroke="#1f5f85" stroke-width="0.4"/>
<rect x="184.5" y="525.9" width="2.4" height="0.5" fill="#3a8fc0" stroke="#1f5f85" stroke-width="0.4"/>
<rect x="186.8" y="525.0" width="2.4" height="1.4" fill="#3a8fc0" stroke="#1f5f85" stroke-width="0.4"/>
<rect x="189.2" y="525.2" width="2.4" height="1.2" fill="#3a8fc0" stroke="#1f5f85" stroke-width="0.4"/>
<rect x="191.6" y="525.3" width="2.4" height="1.1" fill="#3a8fc0" stroke="#1f5f85" stroke-width="0.4"/>
<rect x="193.9" y="525.5" width="2.4" height="0.9" fill="#3a8fc0" stroke="#1f5f85" stroke-width="0.4"/>
<rect x="196.3" y="525.5" width="2.4" height="0.9" fill="#3a8fc0" stroke="#1f5f85" stroke-width="0.4"/>
<rect x="198.6" y="526.0" width="2.4" height="0.4" fill="#3a8fc0" stroke="#1f5f85" stroke-width="0.4"/>
<rect x="201.0" y="525.8" width="2.4" height="0.6" fill="#3a8fc0" stroke="#1f5f85" stroke-width="0.4"/>
<rect x="203.4" y="525.6" width="2.4" height="0.8" fill="#3a8fc0" stroke="#1f5f85" stroke-width="0.4"/>
<rect x="205.7" y="525.3" width="2.4" height="1.1" fill="#3a8fc0" stroke="#1f5f85" stroke-width="0.4"/>
<rect x="208.1" y="525.0" width="2.4" height="1.4" fill="#3a8fc0" stroke="#1f5f85" stroke-width="0.4"/>
<rect x="210.5" y="525.5" width="2.4" height="0.9" fill="#3a8fc0" stroke="#1f5f85" stroke-width="0.4"/>
<rect x="212.8" y="524.9" width="2.4" height="1.5" fill="#3a8fc0" stroke="#1f5f85" stroke-width="0.4"/>
<rect x="215.2" y="524.1" width="2.4" height="2.3" fill="#3a8fc0" stroke="#1f5f85" stroke-width="0.4"/>
<rect x="217.6" y="523.9" width="2.4" height="2.5" fill="#3a8fc0" stroke="#1f5f85" stroke-width="0.4"/>
<rect x="219.9" y="523.6" width="2.4" height="2.8" fill="#3a8fc0" stroke="#1f5f85" stroke-width="0.4"/>
<rect x="222.3" y="526.4" width="2.4" height="0.5" fill="#3a8fc0" stroke="#1f5f85" stroke-width="0.4"/>
<rect x="224.7" y="526.4" width="2.4" height="2.2" fill="#3a8fc0" stroke="#1f5f85" stroke-width="0.4"/>
<rect x="227.0" y="526.4" width="2.4" height="2.6" fill="#3a8fc0" stroke="#1f5f85" stroke-width="0.4"/>
<rect x="229.4" y="526.4" width="2.4" height="1.9" fill="#3a8fc0" stroke="#1f5f85" stroke-width="0.4"/>
<rect x="231.8" y="526.4" width="2.4" height="1.5" fill="#3a8fc0" stroke="#1f5f85" stroke-width="0.4"/>
<rect x="234.1" y="526.4" width="2.4" height="1.2" fill="#3a8fc0" stroke="#1f5f85" stroke-width="0.4"/>
<rect x="236.5" y="526.4" width="2.4" height="1.1" fill="#3a8fc0" stroke="#1f5f85" stroke-width="0.4"/>
<rect x="238.9" y="526.4" width="2.4" height="0.6" fill="#3a8fc0" stroke="#1f5f85" stroke-width="0.4"/>
<rect x="241.2" y="526.4" width="2.4" height="0.0" fill="#3a8fc0" stroke="#1f5f85" stroke-width="0.4"/>
<rect x="243.6" y="526.4" width="2.4" height="1.1" fill="#3a8fc0" stroke="#1f5f85" stroke-width="0.4"/>
<rect x="246.0" y="526.4" width="2.4" height="1.3" fill="#3a8fc0" stroke="#1f5f85" stroke-width="0.4"/>
<rect x="248.3" y="526.4" width="2.4" height="3.0" fill="#3a8fc0" stroke="#1f5f85" stroke-width="0.4"/>
<rect x="250.7" y="526.4" width="2.4" height="3.5" fill="#3a8fc0" stroke="#1f5f85" stroke-width="0.4"/>
<rect x="253.1" y="526.4" width="2.4" height="2.7" fill="#3a8fc0" stroke="#1f5f85" stroke-width="0.4"/>
<rect x="255.4" y="526.4" width="2.4" height="1.7" fill="#3a8fc0" stroke="#1f5f85" stroke-width="0.4"/>
<rect x="257.8" y="526.4" width="2.4" height="0.8" fill="#3a8fc0" stroke="#1f5f85" stroke-width="0.4"/>
<rect x="260.2" y="525.5" width="2.4" height="0.9" fill="#3a8fc0" stroke="#1f5f85" stroke-width="0.4"/>
<rect x="262.5" y="525.2" width="2.4" height="1.2" fill="#3a8fc0" stroke="#1f5f85" stroke-width="0.4"/>
<rect x="264.9" y="524.4" width="2.4" height="2.0" fill="#3a8fc0" stroke="#1f5f85" stroke-width="0.4"/>
<rect x="267.3" y="523.8" width="2.4" height="2.6" fill="#3a8fc0" stroke="#1f5f85" stroke-width="0.4"/>
<rect x="269.6" y="523.4" width="2.4" height="3.0" fill="#3a8fc0" stroke="#1f5f85" stroke-width="0.4"/>
<rect x="272.0" y="524.7" width="2.4" height="1.7" fill="#3a8fc0" stroke="#1f5f85" stroke-width="0.4"/>
<rect x="274.4" y="525.3" width="2.4" height="1.1" fill="#3a8fc0" stroke="#1f5f85" stroke-width="0.4"/>
<rect x="276.7" y="525.6" width="2.4" height="0.8" fill="#3a8fc0" stroke="#1f5f85" stroke-width="0.4"/>
<rect x="279.1" y="526.4" width="2.4" height="0.0" fill="#3a8fc0" stroke="#1f5f85" stroke-width="0.4"/>
<rect x="281.5" y="526.4" width="2.4" height="0.6" fill="#3a8fc0" stroke="#1f5f85" stroke-width="0.4"/>
<rect x="283.8" y="526.0" width="2.4" height="0.4" fill="#3a8fc0" stroke="#1f5f85" stroke-width="0.4"/>
<rect x="286.2" y="526.1" width="2.4" height="0.3" fill="#3a8fc0" stroke="#1f5f85" stroke-width="0.4"/>
<rect x="288.6" y="526.2" width="2.4" height="0.2" fill="#3a8fc0" stroke="#1f5f85" stroke-width="0.4"/>
<rect x="290.9" y="526.4" width="2.4" height="1.5" fill="#3a8fc0" stroke="#1f5f85" stroke-width="0.4"/>
<rect x="293.3" y="526.4" width="2.4" height="3.2" fill="#3a8fc0" stroke="#1f5f85" stroke-width="0.4"/>
<rect x="295.7" y="526.4" width="2.4" height="3.3" fill="#3a8fc0" stroke="#1f5f85" stroke-width="0.4"/>
<rect x="298.0" y="526.4" width="2.4" height="4.1" fill="#3a8fc0" stroke="#1f5f85" stroke-width="0.4"/>
<rect x="300.4" y="526.4" width="2.4" height="3.8" fill="#3a8fc0" stroke="#1f5f85" stroke-width="0.4"/>
<rect x="302.8" y="526.4" width="2.4" height="3.3" fill="#3a8fc0" stroke="#1f5f85" stroke-width="0.4"/>
<rect x="305.1" y="526.4" width="2.4" height="2.1" fill="#3a8fc0" stroke="#1f5f85" stroke-width="0.4"/>
<rect x="307.5" y="526.4" width="2.4" height="0.5" fill="#3a8fc0" stroke="#1f5f85" stroke-width="0.4"/>
<rect x="309.9" y="525.7" width="2.4" height="0.7" fill="#3a8fc0" stroke="#1f5f85" stroke-width="0.4"/>
<rect x="312.2" y="524.9" width="2.4" height="1.5" fill="#3a8fc0" stroke="#1f5f85" stroke-width="0.4"/>
<rect x="314.6" y="524.0" width="2.4" height="2.4" fill="#3a8fc0" stroke="#1f5f85" stroke-width="0.4"/>
<rect x="317.0" y="524.2" width="2.4" height="2.2" fill="#3a8fc0" stroke="#1f5f85" stroke-width="0.4"/>
<rect x="319.3" y="524.9" width="2.4" height="1.5" fill="#3a8fc0" stroke="#1f5f85" stroke-width="0.4"/>
<rect x="321.7" y="526.4" width="2.4" height="0.2" fill="#3a8fc0" stroke="#1f5f85" stroke-width="0.4"/>
<rect x="324.1" y="526.4" width="2.4" height="0.2" fill="#3a8fc0" stroke="#1f5f85" stroke-width="0.4"/>
<rect x="326.4" y="526.4" width="2.4" height="0.1" fill="#3a8fc0" stroke="#1f5f85" stroke-width="0.4"/>
<rect x="328.8" y="526.4" width="2.4" height="0.3" fill="#3a8fc0" stroke="#1f5f85" stroke-width="0.4"/>
<rect x="331.2" y="526.4" width="2.4" height="0.0" fill="#3a8fc0" stroke="#1f5f85" stroke-width="0.4"/>
<rect x="333.5" y="525.9" width="2.4" height="0.5" fill="#3a8fc0" stroke="#1f5f85" stroke-width="0.4"/>
<rect x="335.9" y="526.2" width="2.4" height="0.2" fill="#3a8fc0" stroke="#1f5f85" stroke-width="0.4"/>
<rect x="338.3" y="525.8" width="2.4" height="0.6" fill="#3a8fc0" stroke="#1f5f85" stroke-width="0.4"/>
<rect x="340.6" y="525.5" width="2.4" height="0.9" fill="#3a8fc0" stroke="#1f5f85" stroke-width="0.4"/>
<rect x="343.0" y="525.2" width="2.4" height="1.2" fill="#3a8fc0" stroke="#1f5f85" stroke-width="0.4"/>
<rect x="345.4" y="524.7" width="2.4" height="1.7" fill="#3a8fc0" stroke="#1f5f85" stroke-width="0.4"/>
<rect x="347.7" y="523.5" width="2.4" height="2.9" fill="#3a8fc0" stroke="#1f5f85" stroke-width="0.4"/>
<rect x="350.1" y="523.3" width="2.4" height="3.1" fill="#3a8fc0" stroke="#1f5f85" stroke-width="0.4"/>
<rect x="352.5" y="523.2" width="2.4" height="3.2" fill="#3a8fc0" stroke="#1f5f85" stroke-width="0.4"/>
<rect x="354.8" y="523.0" width="2.4" height="3.4" fill="#3a8fc0" stroke="#1f5f85" stroke-width="0.4"/>
<rect x="357.2" y="522.3" width="2.4" height="4.1" fill="#3a8fc0" stroke="#1f5f85" stroke-width="0.4"/>
<rect x="359.6" y="521.6" width="2.4" height="4.8" fill="#3a8fc0" stroke="#1f5f85" stroke-width="0.4"/>
<rect x="361.9" y="525.1" width="2.4" height="1.3" fill="#3a8fc0" stroke="#1f5f85" stroke-width="0.4"/>
<rect x="364.3" y="526.4" width="2.4" height="2.0" fill="#3a8fc0" stroke="#1f5f85" stroke-width="0.4"/>
<rect x="366.7" y="526.4" width="2.4" height="6.9" fill="#3a8fc0" stroke="#1f5f85" stroke-width="0.4"/>
<rect x="369.0" y="526.4" width="2.4" height="8.1" fill="#3a8fc0" stroke="#1f5f85" stroke-width="0.4"/>
<rect x="371.4" y="526.4" width="2.4" height="9.9" fill="#3a8fc0" stroke="#1f5f85" stroke-width="0.4"/>
<rect x="373.8" y="526.4" width="2.4" height="11.0" fill="#3a8fc0" stroke="#1f5f85" stroke-width="0.4"/>
<rect x="376.1" y="526.4" width="2.4" height="10.1" fill="#3a8fc0" stroke="#1f5f85" stroke-width="0.4"/>
<rect x="378.5" y="526.4" width="2.4" height="8.4" fill="#3a8fc0" stroke="#1f5f85" stroke-width="0.4"/>
<rect x="380.9" y="526.4" width="2.4" height="7.8" fill="#3a8fc0" stroke="#1f5f85" stroke-width="0.4"/>
<rect x="383.2" y="526.4" width="2.4" height="7.9" fill="#3a8fc0" stroke="#1f5f85" stroke-width="0.4"/>
<rect x="385.6" y="526.4" width="2.4" height="8.2" fill="#3a8fc0" stroke="#1f5f85" stroke-width="0.4"/>
<rect x="388.0" y="526.4" width="2.4" height="8.2" fill="#3a8fc0" stroke="#1f5f85" stroke-width="0.4"/>
<rect x="390.3" y="526.4" width="2.4" height="6.7" fill="#3a8fc0" stroke="#1f5f85" stroke-width="0.4"/>
<rect x="392.7" y="526.4" width="2.4" height="7.3" fill="#3a8fc0" stroke="#1f5f85" stroke-width="0.4"/>
<rect x="395.1" y="526.4" width="2.4" height="7.0" fill="#3a8fc0" stroke="#1f5f85" stroke-width="0.4"/>
<rect x="397.4" y="526.4" width="2.4" height="5.1" fill="#3a8fc0" stroke="#1f5f85" stroke-width="0.4"/>
<rect x="399.8" y="526.4" width="2.4" height="2.5" fill="#3a8fc0" stroke="#1f5f85" stroke-width="0.4"/>
<rect x="402.2" y="526.4" width="2.4" height="0.8" fill="#3a8fc0" stroke="#1f5f85" stroke-width="0.4"/>
<rect x="404.5" y="525.6" width="2.4" height="0.8" fill="#3a8fc0" stroke="#1f5f85" stroke-width="0.4"/>
<rect x="406.9" y="523.7" width="2.4" height="2.7" fill="#3a8fc0" stroke="#1f5f85" stroke-width="0.4"/>
<rect x="409.3" y="524.1" width="2.4" height="2.3" fill="#3a8fc0" stroke="#1f5f85" stroke-width="0.4"/>
<rect x="411.6" y="522.9" width="2.4" height="3.5" fill="#3a8fc0" stroke="#1f5f85" stroke-width="0.4"/>
<rect x="414.0" y="523.4" width="2.4" height="3.0" fill="#3a8fc0" stroke="#1f5f85" stroke-width="0.4"/>
<rect x="416.4" y="522.6" width="2.4" height="3.8" fill="#3a8fc0" stroke="#1f5f85" stroke-width="0.4"/>
<rect x="418.7" y="522.0" width="2.4" height="4.4" fill="#3a8fc0" stroke="#1f5f85" stroke-width="0.4"/>
<rect x="421.1" y="520.9" width="2.4" height="5.5" fill="#3a8fc0" stroke="#1f5f85" stroke-width="0.4"/>
<rect x="423.5" y="518.9" width="2.4" height="7.5" fill="#3a8fc0" stroke="#1f5f85" stroke-width="0.4"/>
<rect x="425.8" y="518.1" width="2.4" height="8.3" fill="#3a8fc0" stroke="#1f5f85" stroke-width="0.4"/>
<rect x="428.2" y="518.6" width="2.4" height="7.8" fill="#3a8fc0" stroke="#1f5f85" stroke-width="0.4"/>
<rect x="430.6" y="519.8" width="2.4" height="6.6" fill="#3a8fc0" stroke="#1f5f85" stroke-width="0.4"/>
<rect x="432.9" y="521.2" width="2.4" height="5.2" fill="#3a8fc0" stroke="#1f5f85" stroke-width="0.4"/>
<rect x="435.3" y="523.5" width="2.4" height="2.9" fill="#3a8fc0" stroke="#1f5f85" stroke-width="0.4"/>
<rect x="437.7" y="525.0" width="2.4" height="1.4" fill="#3a8fc0" stroke="#1f5f85" stroke-width="0.4"/>
<rect x="440.0" y="526.3" width="2.4" height="0.1" fill="#3a8fc0" stroke="#1f5f85" stroke-width="0.4"/>
<rect x="442.4" y="526.4" width="2.4" height="0.7" fill="#3a8fc0" stroke="#1f5f85" stroke-width="0.4"/>
<rect x="444.8" y="526.4" width="2.4" height="1.1" fill="#3a8fc0" stroke="#1f5f85" stroke-width="0.4"/>
<rect x="447.1" y="526.4" width="2.4" height="2.4" fill="#3a8fc0" stroke="#1f5f85" stroke-width="0.4"/>
<rect x="449.5" y="526.4" width="2.4" height="2.8" fill="#3a8fc0" stroke="#1f5f85" stroke-width="0.4"/>
<rect x="451.9" y="526.4" width="2.4" height="5.4" fill="#3a8fc0" stroke="#1f5f85" stroke-width="0.4"/>
<rect x="454.2" y="526.4" width="2.4" height="5.9" fill="#3a8fc0" stroke="#1f5f85" stroke-width="0.4"/>
<rect x="456.6" y="526.4" width="2.4" height="7.4" fill="#3a8fc0" stroke="#1f5f85" stroke-width="0.4"/>
<rect x="459.0" y="526.4" width="2.4" height="7.8" fill="#3a8fc0" stroke="#1f5f85" stroke-width="0.4"/>
<rect x="461.3" y="526.4" width="2.4" height="6.5" fill="#3a8fc0" stroke="#1f5f85" stroke-width="0.4"/>
<rect x="463.7" y="526.4" width="2.4" height="2.9" fill="#3a8fc0" stroke="#1f5f85" stroke-width="0.4"/>
<rect x="466.0" y="525.2" width="2.4" height="1.2" fill="#3a8fc0" stroke="#1f5f85" stroke-width="0.4"/>
<rect x="468.4" y="522.7" width="2.4" height="3.7" fill="#3a8fc0" stroke="#1f5f85" stroke-width="0.4"/>
<rect x="470.8" y="522.4" width="2.4" height="4.0" fill="#3a8fc0" stroke="#1f5f85" stroke-width="0.4"/>
<rect x="473.1" y="523.3" width="2.4" height="3.1" fill="#3a8fc0" stroke="#1f5f85" stroke-width="0.4"/>
<rect x="475.5" y="522.8" width="2.4" height="3.6" fill="#3a8fc0" stroke="#1f5f85" stroke-width="0.4"/>
<rect x="477.9" y="523.1" width="2.4" height="3.3" fill="#3a8fc0" stroke="#1f5f85" stroke-width="0.4"/>
<rect x="480.2" y="522.9" width="2.4" height="3.5" fill="#3a8fc0" stroke="#1f5f85" stroke-width="0.4"/>
<rect x="482.6" y="522.4" width="2.4" height="4.0" fill="#3a8fc0" stroke="#1f5f85" stroke-width="0.4"/>
<rect x="485.0" y="522.6" width="2.4" height="3.8" fill="#3a8fc0" stroke="#1f5f85" stroke-width="0.4"/>
<rect x="487.3" y="523.5" width="2.4" height="2.9" fill="#3a8fc0" stroke="#1f5f85" stroke-width="0.4"/>
<rect x="489.7" y="523.7" width="2.4" height="2.7" fill="#3a8fc0" stroke="#1f5f85" stroke-width="0.4"/>
<rect x="492.1" y="524.4" width="2.4" height="2.0" fill="#3a8fc0" stroke="#1f5f85" stroke-width="0.4"/>
<rect x="494.4" y="524.9" width="2.4" height="1.5" fill="#3a8fc0" stroke="#1f5f85" stroke-width="0.4"/>
<rect x="496.8" y="524.4" width="2.4" height="2.0" fill="#3a8fc0" stroke="#1f5f85" stroke-width="0.4"/>
<rect x="499.2" y="524.1" width="2.4" height="2.3" fill="#3a8fc0" stroke="#1f5f85" stroke-width="0.4"/>
<rect x="501.5" y="523.4" width="2.4" height="3.0" fill="#3a8fc0" stroke="#1f5f85" stroke-width="0.4"/>
<rect x="503.9" y="523.3" width="2.4" height="3.1" fill="#3a8fc0" stroke="#1f5f85" stroke-width="0.4"/>
<rect x="506.3" y="522.7" width="2.4" height="3.7" fill="#3a8fc0" stroke="#1f5f85" stroke-width="0.4"/>
<rect x="508.6" y="522.6" width="2.4" height="3.8" fill="#3a8fc0" stroke="#1f5f85" stroke-width="0.4"/>
<rect x="511.0" y="522.8" width="2.4" height="3.6" fill="#3a8fc0" stroke="#1f5f85" stroke-width="0.4"/>
<rect x="513.4" y="522.7" width="2.4" height="3.7" fill="#3a8fc0" stroke="#1f5f85" stroke-width="0.4"/>
<rect x="515.7" y="522.7" width="2.4" height="3.7" fill="#3a8fc0" stroke="#1f5f85" stroke-width="0.4"/>
<rect x="518.1" y="522.7" width="2.4" height="3.7" fill="#3a8fc0" stroke="#1f5f85" stroke-width="0.4"/>
<rect x="520.5" y="524.4" width="2.4" height="2.0" fill="#3a8fc0" stroke="#1f5f85" stroke-width="0.4"/>
<rect x="522.8" y="525.4" width="2.4" height="1.0" fill="#3a8fc0" stroke="#1f5f85" stroke-width="0.4"/>
<rect x="525.2" y="526.4" width="2.4" height="0.1" fill="#3a8fc0" stroke="#1f5f85" stroke-width="0.4"/>
<rect x="527.6" y="526.4" width="2.4" height="0.5" fill="#3a8fc0" stroke="#1f5f85" stroke-width="0.4"/>
<rect x="529.9" y="526.4" width="2.4" height="0.1" fill="#3a8fc0" stroke="#1f5f85" stroke-width="0.4"/>
<rect x="532.3" y="526.0" width="2.4" height="0.4" fill="#3a8fc0" stroke="#1f5f85" stroke-width="0.4"/>
<rect x="534.7" y="525.3" width="2.4" height="1.1" fill="#3a8fc0" stroke="#1f5f85" stroke-width="0.4"/>
<rect x="537.0" y="525.2" width="2.4" height="1.2" fill="#3a8fc0" stroke="#1f5f85" stroke-width="0.4"/>
<rect x="539.4" y="525.4" width="2.4" height="1.0" fill="#3a8fc0" stroke="#1f5f85" stroke-width="0.4"/>
<rect x="541.8" y="525.4" width="2.4" height="1.0" fill="#3a8fc0" stroke="#1f5f85" stroke-width="0.4"/>
<rect x="544.1" y="525.9" width="2.4" height="0.5" fill="#3a8fc0" stroke="#1f5f85" stroke-width="0.4"/>
<rect x="546.5" y="526.2" width="2.4" height="0.2" fill="#3a8fc0" stroke="#1f5f85" stroke-width="0.4"/>
<rect x="548.9" y="526.1" width="2.4" height="0.3" fill="#3a8fc0" stroke="#1f5f85" stroke-width="0.4"/>
<rect x="551.2" y="526.4" width="2.4" height="0.1" fill="#3a8fc0" stroke="#1f5f85" stroke-width="0.4"/>
<rect x="553.6" y="526.4" width="2.4" height="0.4" fill="#3a8fc0" stroke="#1f5f85" stroke-width="0.4"/>
<rect x="556.0" y="526.4" width="2.4" height="0.7" fill="#3a8fc0" stroke="#1f5f85" stroke-width="0.4"/>
<rect x="558.3" y="526.4" width="2.4" height="2.1" fill="#3a8fc0" stroke="#1f5f85" stroke-width="0.4"/>
<rect x="560.7" y="526.4" width="2.4" height="2.3" fill="#3a8fc0" stroke="#1f5f85" stroke-width="0.4"/>
<rect x="563.1" y="526.4" width="2.4" height="3.0" fill="#3a8fc0" stroke="#1f5f85" stroke-width="0.4"/>
<rect x="565.4" y="526.4" width="2.4" height="1.6" fill="#3a8fc0" stroke="#1f5f85" stroke-width="0.4"/>
<rect x="567.8" y="526.4" width="2.4" height="0.0" fill="#3a8fc0" stroke="#1f5f85" stroke-width="0.4"/>
<rect x="570.2" y="526.4" width="2.4" height="0.1" fill="#3a8fc0" stroke="#1f5f85" stroke-width="0.4"/>
<rect x="572.5" y="526.4" width="2.4" height="0.2" fill="#3a8fc0" stroke="#1f5f85" stroke-width="0.4"/>
<rect x="574.9" y="526.4" width="2.4" height="0.0" fill="#3a8fc0" stroke="#1f5f85" stroke-width="0.4"/>
<rect x="577.3" y="526.4" width="2.4" height="0.2" fill="#3a8fc0" stroke="#1f5f85" stroke-width="0.4"/>
<rect x="579.6" y="526.4" width="2.4" height="1.1" fill="#3a8fc0" stroke="#1f5f85" stroke-width="0.4"/>
<rect x="582.0" y="526.4" width="2.4" height="0.7" fill="#3a8fc0" stroke="#1f5f85" stroke-width="0.4"/>
<rect x="584.4" y="525.4" width="2.4" height="1.0" fill="#3a8fc0" stroke="#1f5f85" stroke-width="0.4"/>
<rect x="586.7" y="524.2" width="2.4" height="2.2" fill="#3a8fc0" stroke="#1f5f85" stroke-width="0.4"/>
<rect x="589.1" y="523.6" width="2.4" height="2.8" fill="#3a8fc0" stroke="#1f5f85" stroke-width="0.4"/>
<rect x="591.5" y="523.1" width="2.4" height="3.3" fill="#3a8fc0" stroke="#1f5f85" stroke-width="0.4"/>
<rect x="593.8" y="523.2" width="2.4" height="3.2" fill="#3a8fc0" stroke="#1f5f85" stroke-width="0.4"/>
<rect x="596.2" y="525.6" width="2.4" height="0.8" fill="#3a8fc0" stroke="#1f5f85" stroke-width="0.4"/>
<rect x="598.6" y="526.4" width="2.4" height="0.6" fill="#3a8fc0" stroke="#1f5f85" stroke-width="0.4"/>
<rect x="600.9" y="526.4" width="2.4" height="3.1" fill="#3a8fc0" stroke="#1f5f85" stroke-width="0.4"/>
<rect x="603.3" y="526.4" width="2.4" height="2.8" fill="#3a8fc0" stroke="#1f5f85" stroke-width="0.4"/>
<rect x="605.7" y="526.4" width="2.4" height="1.5" fill="#3a8fc0" stroke="#1f5f85" stroke-width="0.4"/>
<rect x="608.0" y="526.4" width="2.4" height="0.8" fill="#3a8fc0" stroke="#1f5f85" stroke-width="0.4"/>
<rect x="610.4" y="525.9" width="2.4" height="0.5" fill="#3a8fc0" stroke="#1f5f85" stroke-width="0.4"/>
<rect x="612.8" y="524.9" width="2.4" height="1.5" fill="#3a8fc0" stroke="#1f5f85" stroke-width="0.4"/>
<rect x="615.1" y="523.7" width="2.4" height="2.7" fill="#3a8fc0" stroke="#1f5f85" stroke-width="0.4"/>
<rect x="617.5" y="523.2" width="2.4" height="3.2" fill="#3a8fc0" stroke="#1f5f85" stroke-width="0.4"/>
<rect x="619.9" y="523.4" width="2.4" height="3.0" fill="#3a8fc0" stroke="#1f5f85" stroke-width="0.4"/>
<rect x="622.2" y="523.6" width="2.4" height="2.8" fill="#3a8fc0" stroke="#1f5f85" stroke-width="0.4"/>
<rect x="624.6" y="523.7" width="2.4" height="2.7" fill="#3a8fc0" stroke="#1f5f85" stroke-width="0.4"/>
<rect x="627.0" y="524.4" width="2.4" height="2.0" fill="#3a8fc0" stroke="#1f5f85" stroke-width="0.4"/>
<rect x="629.3" y="525.6" width="2.4" height="0.8" fill="#3a8fc0" stroke="#1f5f85" stroke-width="0.4"/>
<rect x="631.7" y="526.4" width="2.4" height="0.8" fill="#3a8fc0" stroke="#1f5f85" stroke-width="0.4"/>
<rect x="634.1" y="526.4" width="2.4" height="1.9" fill="#3a8fc0" stroke="#1f5f85" stroke-width="0.4"/>
<rect x="636.4" y="526.4" width="2.4" height="4.7" fill="#3a8fc0" stroke="#1f5f85" stroke-width="0.4"/>
<rect x="638.8" y="526.4" width="2.4" height="6.8" fill="#3a8fc0" stroke="#1f5f85" stroke-width="0.4"/>
<rect x="641.2" y="526.4" width="2.4" height="7.1" fill="#3a8fc0" stroke="#1f5f85" stroke-width="0.4"/>
<rect x="643.5" y="526.4" width="2.4" height="9.9" fill="#3a8fc0" stroke="#1f5f85" stroke-width="0.4"/>
</g>
<polyline points="48.4,517.1 50.8,519.8 53.1,522.8 55.5,525.4 57.9,528.0 60.2,529.9 62.6,531.7 65.0,533.5 67.3,536.2 69.7,538.6 72.1,541.4 74.4,545.2 76.8,548.4 79.2,552.5 81.5,556.2 83.9,559.9 86.3,563.1 88.6,566.2 91.0,568.9 93.4,570.3 95.7,570.9 98.1,570.1 100.5,568.9 102.8,567.0 105.2,564.8 107.6,562.9 109.9,561.0 112.3,559.3 114.7,557.0 117.0,554.4 119.4,551.4 121.8,548.1 124.1,544.7 126.5,541.0 128.9,537.3 131.2,533.7 133.6,530.1 136.0,526.9 138.3,524.4 140.7,522.2 143.1,520.4 145.4,518.6 147.8,516.9 150.2,515.5 152.5,514.0 154.9,512.5 157.3,511.5 159.6,510.9 162.0,510.3 164.4,509.8 166.7,509.3 169.1,508.5 171.5,507.6 173.8,507.0 176.2,506.9 178.6,506.9 180.9,507.1 183.3,507.0 185.7,506.9 188.0,506.5 190.4,506.2 192.8,505.9 195.1,505.7 197.5,505.5 199.8,505.4 202.2,505.2 204.6,505.0 206.9,504.8 209.3,504.4 211.7,504.2 214.0,503.8 216.4,503.2 218.8,502.6 221.1,501.9 223.5,502.0 225.9,502.6 228.2,503.2 230.6,503.7 233.0,504.1 235.3,504.4 237.7,504.6 240.1,504.8 242.4,504.8 244.8,505.1 247.2,505.4 249.5,506.2 251.9,507.0 254.3,507.7 256.6,508.1 259.0,508.3 261.4,508.1 263.7,507.8 266.1,507.3 268.5,506.6 270.8,505.9 273.2,505.5 275.6,505.2 277.9,505.0 280.3,505.0 282.7,505.1 285.0,505.0 287.4,504.9 289.8,504.9 292.1,505.3 294.5,506.1 296.9,506.9 299.2,507.9 301.6,508.9 304.0,509.7 306.3,510.2 308.7,510.3 311.1,510.2 313.4,509.8 315.8,509.2 318.2,508.6 320.5,508.3 322.9,508.3 325.3,508.4 327.6,508.4 330.0,508.5 332.4,508.5 334.7,508.4 337.1,508.3 339.5,508.1 341.8,507.9 344.2,507.6 346.6,507.2 348.9,506.5 351.3,505.7 353.7,504.9 356.0,504.0 358.4,503.0 360.8,501.8 363.1,501.5 365.5,502.0 367.9,503.7 370.2,505.7 372.6,508.2 375.0,511.0 377.3,513.5 379.7,515.6 382.1,517.5 384.4,519.5 386.8,521.6 389.2,523.6 391.5,525.3 393.9,527.1 396.3,528.8 398.6,530.1 401.0,530.7 403.4,530.9 405.7,530.7 408.1,530.1 410.5,529.5 412.8,528.6 415.2,527.8 417.6,526.9 419.9,525.8 422.3,524.4 424.7,522.5 427.0,520.5 429.4,518.5 431.8,516.9 434.1,515.5 436.5,514.8 438.9,514.5 441.2,514.5 443.6,514.6 446.0,514.9 448.3,515.5 450.7,516.2 453.1,517.6 455.4,519.0 457.8,520.9 460.2,522.9 462.5,524.5 464.9,525.2 467.2,524.9 469.6,524.0 472.0,523.0 474.3,522.2 476.7,521.3 479.1,520.5 481.4,519.6 483.8,518.6 486.2,517.7 488.5,517.0 490.9,516.3 493.3,515.8 495.6,515.4 498.0,514.9 500.4,514.3 502.7,513.6 505.1,512.8 507.5,511.9 509.8,510.9 512.2,510.0 514.6,509.1 516.9,508.2 519.3,507.2 521.7,506.7 524.0,506.5 526.4,506.5 528.8,506.6 531.1,506.7 533.5,506.6 535.9,506.3 538.2,506.0 540.6,505.8 543.0,505.5 545.3,505.4 547.7,505.3 550.1,505.2 552.4,505.3 554.8,505.4 557.2,505.5 559.5,506.0 561.9,506.6 564.3,507.4 566.6,507.8 569.0,507.8 571.4,507.8 573.7,507.9 576.1,507.9 578.5,507.9 580.8,508.2 583.2,508.4 585.6,508.1 587.9,507.6 590.3,506.9 592.7,506.1 595.0,505.3 597.4,505.1 599.8,505.2 602.1,506.0 604.5,506.7 606.9,507.1 609.2,507.3 611.6,507.1 614.0,506.8 616.3,506.1 618.7,505.3 621.1,504.5 623.4,503.8 625.8,503.2 628.2,502.7 630.5,502.5 632.9,502.7 635.3,503.2 637.6,504.3 640.0,506.0 642.4,507.8 644.7,510.3" fill="none" stroke="#e03030" stroke-width="1.2"/>
<polyline points="48.4,524.6 50.8,530.5 53.1,535.1 55.5,535.8 57.9,538.2 60.2,537.5 62.6,538.9 65.0,540.9 67.3,546.9 69.7,548.5 72.1,552.3 74.4,560.3 76.8,561.4 79.2,568.8 81.5,571.0 83.9,574.8 86.3,576.0 88.6,578.3 91.0,579.6 93.4,576.1 95.7,573.0 98.1,567.1 100.5,564.2 102.8,559.5 105.2,555.9 107.6,555.2 109.9,553.5 112.3,552.6 114.7,547.7 117.0,543.9 119.4,539.2 121.8,535.0 124.1,531.3 126.5,526.0 128.9,522.7 131.2,519.3 133.6,515.8 136.0,513.8 138.3,514.5 140.7,513.5 143.1,512.9 145.4,511.6 147.8,510.1 150.2,509.9 152.5,507.8 154.9,506.5 157.3,507.8 159.6,508.2 162.0,508.1 164.4,507.9 166.7,507.0 169.1,505.5 171.5,504.1 173.8,504.6 176.2,506.2 178.6,507.2 180.9,507.6 183.3,506.6 185.7,506.4 188.0,505.1 190.4,505.0 192.8,504.8 195.1,504.9 197.5,504.6 199.8,505.0 202.2,504.6 204.6,504.2 206.9,503.7 209.3,503.0 211.7,503.2 214.0,502.2 216.4,501.0 218.8,500.0 221.1,499.1 223.5,502.5 225.9,504.8 228.2,505.8 230.6,505.6 233.0,505.6 235.3,505.6 237.7,505.8 240.1,505.4 242.4,504.8 244.8,506.2 247.2,506.7 249.5,509.2 251.9,510.5 254.3,510.4 256.6,509.8 259.0,509.2 261.4,507.2 263.7,506.6 266.1,505.2 268.5,504.0 270.8,502.9 273.2,503.8 275.6,504.1 277.9,504.2 280.3,505.0 282.7,505.7 285.0,504.6 287.4,504.6 289.8,504.7 292.1,506.7 294.5,509.2 296.9,510.2 299.2,512.1 301.6,512.7 304.0,513.0 306.3,512.3 308.7,510.8 311.1,509.5 313.4,508.3 315.8,506.7 318.2,506.5 320.5,506.8 322.9,508.5 325.3,508.5 327.6,508.5 330.0,508.8 332.4,508.5 334.7,507.9 337.1,508.0 339.5,507.6 341.8,507.0 344.2,506.4 346.6,505.5 348.9,503.6 351.3,502.6 353.7,501.7 356.0,500.6 358.4,498.9 360.8,497.1 363.1,500.2 365.5,504.0 367.9,510.6 370.2,513.8 372.6,518.1 375.0,522.0 377.3,523.6 379.7,524.0 382.1,525.3 384.4,527.4 386.8,529.8 389.2,531.8 391.5,531.9 393.9,534.3 396.3,535.9 398.6,535.2 401.0,533.2 403.4,531.7 405.7,529.9 408.1,527.4 410.5,527.1 412.8,525.1 415.2,524.8 417.6,523.1 419.9,521.4 422.3,518.9 424.7,515.0 427.0,512.2 429.4,510.8 431.8,510.2 434.1,510.3 436.5,511.9 438.9,513.1 441.2,514.4 443.6,515.4 446.0,516.0 448.3,517.9 450.7,519.0 453.1,523.0 455.4,524.9 457.8,528.3 460.2,530.7 462.5,531.0 464.9,528.2 467.2,523.8 469.6,520.3 472.0,519.0 474.3,519.2 476.7,517.7 479.1,517.2 481.4,516.1 483.8,514.7 486.2,513.9 488.5,514.1 490.9,513.6 493.3,513.8 495.6,513.9 498.0,512.9 500.4,512.0 502.7,510.6 505.1,509.7 507.5,508.1 509.8,507.1 512.2,506.4 514.6,505.4 516.9,504.4 519.3,503.5 521.7,504.8 524.0,505.5 526.4,506.6 528.8,507.2 531.1,506.8 533.5,506.2 535.9,505.2 538.2,504.8 540.6,504.8 543.0,504.5 545.3,504.9 547.7,505.1 550.1,504.9 552.4,505.3 554.8,505.7 557.2,506.2 559.5,508.1 561.9,509.0 564.3,510.4 566.6,509.4 569.0,507.8 571.4,508.0 573.7,508.0 576.1,507.9 578.5,508.1 580.8,509.3 583.2,509.1 585.6,507.2 587.9,505.4 590.3,504.1 592.7,502.8 595.0,502.0 597.4,504.2 599.8,505.8 602.1,509.1 604.5,509.5 606.9,508.6 609.2,508.0 611.6,506.6 614.0,505.2 616.3,503.4 618.7,502.1 621.1,501.6 623.4,501.1 625.8,500.5 628.2,500.7 630.5,501.7 632.9,503.5 635.3,505.1 637.6,509.0 640.0,512.8 642.4,514.9 644.7,520.2" fill="none" stroke="#000" stroke-width="2.2"/>
<g fill="none" stroke="#a8a8a8" shape-rendering="crispEdges">
<rect x="47.5" y="91.5" width="603" height="383"/>
<line x1="47.5" x2="650.5" y1="190.5" y2="190.5"/>
<rect x="47.5" y="488.5" width="603" height="98.5"/>
</g>
<text x="654" y="110.9" font-size="10" font-weight="normal" fill="#000" text-anchor="start" >90</text>
<text x="654" y="127.7" font-size="10" font-weight="normal" fill="#000" text-anchor="start" >70</text>
<text x="654" y="144.5" font-size="10" font-weight="normal" fill="#000" text-anchor="start" >50</text>
<text x="654" y="161.3" font-size="10" font-weight="normal" fill="#000" text-anchor="start" >30</text>
<text x="654" y="178.1" font-size="10" font-weight="normal" fill="#000" text-anchor="start" >10</text>
<text x="683.2" y="205.5" font-size="10" font-weight="normal" fill="#000" text-anchor="end" >14500</text>
<text x="683.2" y="216.86958761885154" font-size="10" font-weight="normal" fill="#000" text-anchor="end" >14000</text>
<text x="683.2" y="228.652704330215" font-size="10" font-weight="normal" fill="#000" text-anchor="end" >13500</text>
<text x="683.2" y="253.58808165832053" font-size="10" font-weight="normal" fill="#000" text-anchor="end" >12500</text>
<text x="683.2" y="266.8144078828832" font-size="10" font-weight="normal" fill="#000" text-anchor="end" >12000</text>
<text x="683.2" y="295.00609402752326" font-size="10" font-weight="normal" fill="#000" text-anchor="end" >11000</text>
<text x="683.2" y="310.07857909322854" font-size="10" font-weight="normal" fill="#000" text-anchor="end" >10500</text>
<text x="683.2" y="325.8865922841245" font-size="10" font-weight="normal" fill="#000" text-anchor="end" >10000</text>
<text x="683.2" y="342.5056196656909" font-size="10" font-weight="normal" fill="#000" text-anchor="end" >9500</text>
<text x="683.2" y="360.02339935726025" font-size="10" font-weight="normal" fill="#000" text-anchor="end" >9000</text>
<text x="683.2" y="378.5427254414036" font-size="10" font-weight="normal" fill="#000" text-anchor="end" >8500</text>
<text x="683.2" y="398.18510290992845" font-size="10" font-weight="normal" fill="#000" text-anchor="end" >8000</text>
<text x="683.2" y="419.09558375850156" font-size="10" font-weight="normal" fill="#000" text-anchor="end" >7500</text>
<text x="683.2" y="465.46025709807975" font-size="10" font-weight="normal" fill="#000" text-anchor="end" >6500</text>
<text x="44" y="387.1" font-size="10" font-weight="normal" fill="#000" text-anchor="end" >12.5B</text>
<text x="44" y="405.20000000000005" font-size="10" font-weight="normal" fill="#000" text-anchor="end" >10.0B</text>
<text x="44" y="423.3" font-size="10" font-weight="normal" fill="#000" text-anchor="end" >7.5B</text>
<text x="44" y="441.40000000000003" font-size="10" font-weight="normal" fill="#000" text-anchor="end" >5.0B</text>
<text x="44" y="459.5" font-size="10" font-weight="normal" fill="#000" text-anchor="end" >2.5B</text>
<text x="674" y="530.0" font-size="10" font-weight="normal" fill="#000" text-anchor="end" >0</text>
<text x="674" y="547.9" font-size="10" font-weight="normal" fill="#000" text-anchor="end" >-200</text>
<text x="674" y="565.8" font-size="10" font-weight="normal" fill="#000" text-anchor="end" >-400</text>
<text x="674" y="583.7" font-size="10" font-weight="normal" fill="#000" text-anchor="end" >-600</text>
<text x="55.8" y="484.6" font-size="9.3" font-weight="normal" fill="#000" text-anchor="middle" letter-spacing="0.5">Mar</text>
<text x="55.8" y="597.8" font-size="9.3" font-weight="normal" fill="#000" text-anchor="middle" letter-spacing="0.5">Mar</text>
<text x="107.8" y="484.6" font-size="9.3" font-weight="normal" fill="#000" text-anchor="middle" letter-spacing="0.5">Apr</text>
<text x="107.8" y="597.8" font-size="9.3" font-weight="normal" fill="#000" text-anchor="middle" letter-spacing="0.5">Apr</text>
<text x="157.8" y="484.6" font-size="9.3" font-weight="normal" fill="#000" text-anchor="middle" letter-spacing="0.5">May</text>
<text x="157.8" y="597.8" font-size="9.3" font-weight="normal" fill="#000" text-anchor="middle" letter-spacing="0.5">May</text>
<text x="204.8" y="484.6" font-size="9.3" font-weight="normal" fill="#000" text-anchor="middle" letter-spacing="0.5">Jun</text>
<text x="204.8" y="597.8" font-size="9.3" font-weight="normal" fill="#000" text-anchor="middle" letter-spacing="0.5">Jun</text>
<text x="256.8" y="484.6" font-size="9.3" font-weight="normal" fill="#000" text-anchor="middle" letter-spacing="0.5">Jul</text>
<text x="256.8" y="597.8" font-size="9.3" font-weight="normal" fill="#000" text-anchor="middle" letter-spacing="0.5">Jul</text>
<text x="308.8" y="484.6" font-size="9.3" font-weight="normal" fill="#000" text-anchor="middle" letter-spacing="0.5">Aug</text>
<text x="308.8" y="597.8" font-size="9.3" font-weight="normal" fill="#000" text-anchor="middle" letter-spacing="0.5">Aug</text>
<text x="358.8" y="484.6" font-size="9.3" font-weight="normal" fill="#000" text-anchor="middle" letter-spacing="0.5">Sep</text>
<text x="358.8" y="597.8" font-size="9.3" font-weight="normal" fill="#000" text-anchor="middle" letter-spacing="0.5">Sep</text>
<text x="408.8" y="484.6" font-size="9.3" font-weight="normal" fill="#000" text-anchor="middle" letter-spacing="0.5">Oct</text>
<text x="408.8" y="597.8" font-size="9.3" font-weight="normal" fill="#000" text-anchor="middle" letter-spacing="0.5">Oct</text>
<text x="460.8" y="484.6" font-size="9.3" font-weight="normal" fill="#000" text-anchor="middle" letter-spacing="0.5">Nov</text>
<text x="460.8" y="597.8" font-size="9.3" font-weight="normal" fill="#000" text-anchor="middle" letter-spacing="0.5">Nov</text>
<text x="507.8" y="484.6" font-size="9.3" font-weight="normal" fill="#000" text-anchor="middle" letter-spacing="0.5">Dec</text>
<text x="507.8" y="597.8" font-size="9.3" font-weight="normal" fill="#000" text-anchor="middle" letter-spacing="0.5">Dec</text>
<text x="559.8" y="484.6" font-size="10.5" font-weight="bold" fill="#000" text-anchor="middle" >2021</text>
<text x="559.8" y="597.8" font-size="10.5" font-weight="bold" fill="#000" text-anchor="middle" >2021</text>
<text x="604.8" y="484.6" font-size="9.3" font-weight="normal" fill="#000" text-anchor="middle" letter-spacing="0.5">Feb</text>
<text x="604.8" y="597.8" font-size="9.3" font-weight="normal" fill="#000" text-anchor="middle" letter-spacing="0.5">Feb</text>
<g stroke="#a8a8a8" shape-rendering="crispEdges">
<line x1="650" x2="653" y1="202.5" y2="202.5"/>
<line x1="650" x2="653" y1="213.5" y2="213.5"/>
<line x1="650" x2="653" y1="225.5" y2="225.5"/>
<line x1="650" x2="653" y1="237.5" y2="237.5"/>
<line x1="650" x2="653" y1="250.5" y2="250.5"/>
<line x1="650" x2="653" y1="263.5" y2="263.5"/>
<line x1="650" x2="653" y1="277.5" y2="277.5"/>
<line x1="650" x2="653" y1="291.5" y2="291.5"/>
<line x1="650" x2="653" y1="306.5" y2="306.5"/>
<line x1="650" x2="653" y1="322.5" y2="322.5"/>
<line x1="650" x2="653" y1="339.5" y2="339.5"/>
<line x1="650" x2="653" y1="356.5" y2="356.5"/>
<line x1="650" x2="653" y1="375.5" y2="375.5"/>
<line x1="650" x2="653" y1="395.5" y2="395.5"/>
<line x1="650" x2="653" y1="415.5" y2="415.5"/>
<line x1="650" x2="653" y1="438.5" y2="438.5"/>
<line x1="650" x2="653" y1="462.5" y2="462.5"/>
<line x1="650" x2="653" y1="509.5" y2="509.5"/>
<line x1="650" x2="653" y1="526.5" y2="526.5"/>
<line x1="650" x2="653" y1="544.5" y2="544.5"/>
<line x1="650" x2="653" y1="562.5" y2="562.5"/>
<line x1="650" x2="653" y1="580.5" y2="580.5"/>
<line x1="650" x2="653" y1="107.5" y2="107.5"/>
<line x1="650" x2="653" y1="124.5" y2="124.5"/>
<line x1="650" x2="653" y1="141.5" y2="141.5"/>
<line x1="650" x2="653" y1="158.5" y2="158.5"/>
<line x1="650" x2="653" y1="175.5" y2="175.5"/>
<line x1="44.5" x2="47.5" y1="384.5" y2="384.5"/>
<line x1="44.5" x2="47.5" y1="402.5" y2="402.5"/>
<line x1="44.5" x2="47.5" y1="420.5" y2="420.5"/>
<line x1="44.5" x2="47.5" y1="438.5" y2="438.5"/>
<line x1="44.5" x2="47.5" y1="456.5" y2="456.5"/>
</g>
<g transform="translate(50.5,94)"><path d="M0,7 L2,1 L4,4 L6,0 L8,7 Z" fill="#6b9a6b" stroke="#2f4f2f" stroke-width="0.7"/></g>
<text x="62.3" y="102.5" font-size="10.8" font-weight="normal" fill="#000" text-anchor="start" textLength="79.5" lengthAdjust="spacing">RSI(14) 37.75</text>
<g fill="#000"><rect x="50.6" y="193.5" width="1" height="7"/><rect x="49.8" y="195" width="2.6" height="3.5"/><rect x="55.5" y="193" width="1" height="7.5"/><rect x="54.7" y="194" width="2.6" height="4.5"/></g>
<text x="62.3" y="200.9" font-size="10.8" font-weight="normal" fill="#000" text-anchor="start" textLength="146.5" lengthAdjust="spacing">$COMPQ (Daily) 13119.43</text>
<rect x="50" y="207.6" width="8.5" height="1.8" fill="#1c1c5c"/>
<text x="60" y="211.3" font-size="9.8" font-weight="normal" fill="#1c1c5c" text-anchor="start" textLength="74" lengthAdjust="spacingAndGlyphs" >MA(50) 13284.24</text>
<rect x="50" y="217.7" width="8.5" height="1.8" fill="#9e1f40"/>
<text x="60" y="221.2" font-size="9.8" font-weight="normal" fill="#9e1f40" text-anchor="start" textLength="79.5" lengthAdjust="spacingAndGlyphs" >MA(200) 11495.42</text>
<g fill="#666"><rect x="50.3" y="228" width="2" height="4.8"/><rect x="53" y="225.8" width="2" height="7"/><rect x="55.7" y="227" width="2" height="5.8"/></g>
<text x="60.6" y="232.6" font-size="10.2" font-weight="normal" fill="#444" text-anchor="start" textLength="94.3" lengthAdjust="spacingAndGlyphs" >Volume 5,159,008,768</text>
<rect x="50" y="493.5" width="9" height="2.2" fill="#000"/>
<text x="62.5" y="500" font-size="11"><tspan textLength="80" lengthAdjust="spacingAndGlyphs">MACD(12,26,9)</tspan><tspan> 69.491, </tspan><tspan fill="#a02020">180.071</tspan><tspan>, </tspan><tspan fill="#3a7fa8">-110.580</tspan></text>
<rect x="37.8" y="338.4" width="37.3" height="10.5" fill="#fff" stroke="#d0d0d0" stroke-width="1"/><text x="56.5" y="347.0" font-size="9.5" font-weight="normal" fill="#000" text-anchor="middle" textLength="33.3" lengthAdjust="spacingAndGlyphs" >9070.32</text>
<rect x="32.8" y="390.2" width="37.3" height="10.5" fill="#fff" stroke="#d0d0d0" stroke-width="1"/><text x="51.4" y="398.8" font-size="9.5" font-weight="normal" fill="#000" text-anchor="middle" textLength="33.3" lengthAdjust="spacingAndGlyphs" >8264.16</text>
<rect x="71.2" y="461.8" width="37.3" height="10.5" fill="#fff" stroke="#d0d0d0" stroke-width="1"/><text x="89.9" y="470.40000000000003" font-size="9.5" font-weight="normal" fill="#000" text-anchor="middle" textLength="33.3" lengthAdjust="spacingAndGlyphs" >6631.42</text>
<rect x="92.0" y="432.2" width="37.3" height="10.5" fill="#fff" stroke="#d0d0d0" stroke-width="1"/><text x="110.7" y="440.8" font-size="9.5" font-weight="normal" fill="#000" text-anchor="middle" textLength="33.3" lengthAdjust="spacingAndGlyphs" >7288.11</text>
<rect x="153.9" y="333" width="37.3" height="10.5" fill="#fff" stroke="#d0d0d0" stroke-width="1"/><text x="172.6" y="341.6" font-size="9.5" font-weight="normal" fill="#000" text-anchor="middle" textLength="33.3" lengthAdjust="spacingAndGlyphs" >9250.96</text>
<rect x="200.1" y="304.9" width="42.2" height="10.5" fill="#fff" stroke="#d0d0d0" stroke-width="1"/><text x="221.2" y="313.5" font-size="9.5" font-weight="normal" fill="#000" text-anchor="middle" textLength="38.2" lengthAdjust="spacingAndGlyphs" >10086.89</text>
<rect x="208.5" y="348.1" width="37.3" height="10.5" fill="#fff" stroke="#d0d0d0" stroke-width="1"/><text x="227.2" y="356.70000000000005" font-size="9.5" font-weight="normal" fill="#000" text-anchor="middle" textLength="33.3" lengthAdjust="spacingAndGlyphs" >9403.00</text>
<rect x="264.9" y="281" width="42.2" height="10.5" fill="#fff" stroke="#d0d0d0" stroke-width="1"/><text x="286" y="289.6" font-size="9.5" font-weight="normal" fill="#000" text-anchor="middle" textLength="38.2" lengthAdjust="spacingAndGlyphs" >10839.93</text>
<rect x="272.9" y="322.5" width="42.2" height="10.5" fill="#fff" stroke="#d0d0d0" stroke-width="1"/><text x="294" y="331.1" font-size="9.5" font-weight="normal" fill="#000" text-anchor="middle" textLength="38.2" lengthAdjust="spacingAndGlyphs" >10217.31</text>
<rect x="339.9" y="245.9" width="42.2" height="10.5" fill="#fff" stroke="#d0d0d0" stroke-width="1"/><text x="361" y="254.5" font-size="9.5" font-weight="normal" fill="#000" text-anchor="middle" textLength="38.2" lengthAdjust="spacingAndGlyphs" >12074.06</text>
<rect x="367.8" y="312.2" width="42.2" height="10.5" fill="#fff" stroke="#d0d0d0" stroke-width="1"/><text x="388.9" y="320.8" font-size="9.5" font-weight="normal" fill="#000" text-anchor="middle" textLength="38.2" lengthAdjust="spacingAndGlyphs" >10519.49</text>
<rect x="402.9" y="249.6" width="42.2" height="10.5" fill="#fff" stroke="#d0d0d0" stroke-width="1"/><text x="424" y="258.2" font-size="9.5" font-weight="normal" fill="#000" text-anchor="middle" textLength="38.2" lengthAdjust="spacingAndGlyphs" >11965.54</text>
<rect x="436.4" y="303.5" width="42.2" height="10.5" fill="#fff" stroke="#d0d0d0" stroke-width="1"/><text x="457.5" y="312.1" font-size="9.5" font-weight="normal" fill="#000" text-anchor="middle" textLength="38.2" lengthAdjust="spacingAndGlyphs" >10822.57</text>
<rect x="450.9" y="246.7" width="42.2" height="10.5" fill="#fff" stroke="#d0d0d0" stroke-width="1"/><text x="472" y="255.29999999999998" font-size="9.5" font-weight="normal" fill="#000" text-anchor="middle" textLength="38.2" lengthAdjust="spacingAndGlyphs" >12108.07</text>
<rect x="572.1" y="205" width="42.2" height="10.5" fill="#fff" stroke="#d0d0d0" stroke-width="1"/><text x="593.2" y="213.6" font-size="9.5" font-weight="normal" fill="#000" text-anchor="middle" textLength="38.2" lengthAdjust="spacingAndGlyphs" >13728.98</text>
<rect x="607.1" y="193.9" width="42.2" height="10.5" fill="#fff" stroke="#d0d0d0" stroke-width="1"/><text x="628.2" y="202.5" font-size="9.5" font-weight="normal" fill="#000" text-anchor="middle" textLength="38.2" lengthAdjust="spacingAndGlyphs" >14175.12</text>
<rect x="618.4" y="243.6" width="42.2" height="10.5" fill="#fff" stroke="#d0d0d0" stroke-width="1"/><text x="639.5" y="252.2" font-size="9.5" font-weight="normal" fill="#000" text-anchor="middle" textLength="38.2" lengthAdjust="spacingAndGlyphs" >13003.98</text>
<polygon points="648.5,150.0 651.5,145.2 681.5,145.2 681.5,154.8 651.5,154.8" fill="#fff" stroke="#000" stroke-width="1" stroke-linejoin="miter"/><text x="653.2" y="153.6" font-size="10" font-weight="normal" fill="#000" text-anchor="start" textLength="28" lengthAdjust="spacingAndGlyphs" >37.75</text>
<polygon points="648.5,230.6 651.5,225.6 698.5,225.6 698.5,235.6 651.5,235.6" fill="#fff" stroke="#1c1c6c" stroke-width="1.2" stroke-linejoin="miter"/><text x="653.2" y="234.2" font-size="10" font-weight="normal" fill="#000" text-anchor="start" textLength="43" lengthAdjust="spacingAndGlyphs" >13284.24</text>
<polygon points="648.5,235.0 651.5,229.8 698.5,229.8 698.5,240.2 651.5,240.2" fill="#fff" stroke="#000" stroke-width="1.6" stroke-linejoin="miter"/><text x="653.2" y="238.6" font-size="11" font-weight="bold" fill="#000" text-anchor="start" textLength="44.3" lengthAdjust="spacingAndGlyphs" >13119.43</text>
<polygon points="648.5,276.9 651.5,271.6 698.5,271.6 698.5,282.1 651.5,282.1" fill="#fff" stroke="#a3294a" stroke-width="1.2" stroke-linejoin="miter"/><text x="653.2" y="280.5" font-size="10" font-weight="normal" fill="#000" text-anchor="start" textLength="43.3" lengthAdjust="spacingAndGlyphs" >11495.42</text>
<polygon points="648.5,436.2 651.5,431.0 701,431.0 701,441.4 651.5,441.4" fill="#fff" stroke="#000" stroke-width="1" stroke-linejoin="miter"/><text x="653.2" y="439.8" font-size="10" font-weight="normal" fill="#000" text-anchor="start" textLength="46.3" lengthAdjust="spacingAndGlyphs" >51590087</text>
<polygon points="648.5,508.4 651.5,503.4 693.6,503.4 693.6,513.4 651.5,513.4" fill="#fff" stroke="#b03050" stroke-width="1.2" stroke-linejoin="miter"/><text x="653.2" y="512.0" font-size="10" font-weight="normal" fill="#000" text-anchor="start" textLength="37" lengthAdjust="spacingAndGlyphs" >180.071</text>
<polygon points="648.5,518.4 651.5,513.4 687.6,513.4 687.6,523.4 651.5,523.4" fill="#fff" stroke="#000" stroke-width="1" stroke-linejoin="miter"/><text x="653.2" y="522.0" font-size="10" font-weight="normal" fill="#000" text-anchor="start" textLength="31.5" lengthAdjust="spacingAndGlyphs" >69.491</text>
<polygon points="648.5,534.4 651.5,529.2 696.6,529.2 696.6,539.5 651.5,539.5" fill="#fff" stroke="#4a7a9a" stroke-width="1.2" stroke-linejoin="miter"/><text x="653.2" y="538.0" font-size="10" font-weight="normal" fill="#000" text-anchor="start" textLength="40.5" lengthAdjust="spacingAndGlyphs" >-110.580</text>
<rect x="43" y="286" width="137.5" height="19.5" fill="#8c8c8c" opacity="0.75"/>
<rect x="40.5" y="283.5" width="137" height="19.5" fill="#fff" stroke="#8a8a8a" stroke-width="1"/>
<line x1="99.5" x2="99.5" y1="283.5" y2="303" stroke="#8a8a8a"/>
<text x="42.6" y="296.7" font-size="12" font-weight="bold" fill="#8b2a20" text-anchor="start" textLength="52.5" lengthAdjust="spacingAndGlyphs" >Sunshine</text>
<text x="101.3" y="296.7" font-size="12" font-weight="bold" fill="#000" text-anchor="start" textLength="65.8" lengthAdjust="spacingAndGlyphs" >Profits.com</text>
<polygon points="222.5,160.5 545.5,160.5 647.5,153.8 545.5,167.8 545.5,223 222.5,223" fill="#a0a0a0" opacity="0.7"/><polygon points="220.5,158.5 543.5,158.5 645.5,151.8 543.5,165.8 543.5,221 220.5,221" fill="#fff" stroke="#6a6a6a" stroke-width="1"/><text x="223.5" y="172.9" font-size="11.7" font-weight="bold" fill="#000" text-anchor="start" textLength="299.5" lengthAdjust="spacingAndGlyphs" >The Nasdaq has seen a needed decline since Feb. 12.</text><text x="223.5" y="186.6" font-size="11.7" font-weight="bold" fill="#000" text-anchor="start" textLength="314.3" lengthAdjust="spacingAndGlyphs" >The index has been trading in a clear RSI-based pattern,</text><text x="223.5" y="200.3" font-size="11.7" font-weight="bold" fill="#000" text-anchor="start" textLength="310.8" lengthAdjust="spacingAndGlyphs" >and we&#39;re at a healthier, almost oversold level. This is a</text><text x="223.5" y="214.0" font-size="11.7" font-weight="bold" fill="#000" text-anchor="start" textLength="271.5" lengthAdjust="spacingAndGlyphs" >good SHORT-TERM BUY, but continue to monitor.</text>
<polygon points="227.9,370.6 584.1,370.6 641.5,228 589.5,375.6 589.5,412.7 644.1,436.3 584.9,418.2 227.9,418.2" fill="#a0a0a0" opacity="0.7"/><polygon points="225.9,368.6 582.1,368.6 639.5,226 587.5,373.6 587.5,410.7 642.1,434.3 582.9,416.2 225.9,416.2" fill="#fff" stroke="#6a6a6a" stroke-width="1"/><text x="227.8" y="381.7" font-size="11.7" font-weight="bold" fill="#000" text-anchor="start" textLength="339.3" lengthAdjust="spacingAndGlyphs" >The Nasdaq has seen a needed decline below its 50-day MA.</text><text x="227.8" y="395.5" font-size="11.7" font-weight="bold" fill="#000" text-anchor="start" textLength="351.5" lengthAdjust="spacingAndGlyphs" >While it&#39;s in need of a deeper pullback, you can start to BUY for</text><text x="227.8" y="409.3" font-size="11.7" font-weight="bold" fill="#000" text-anchor="start" textLength="314.3" lengthAdjust="spacingAndGlyphs" >the short-term. Be sure to monitor the declining volume.</text>
</svg>
</body></html>
